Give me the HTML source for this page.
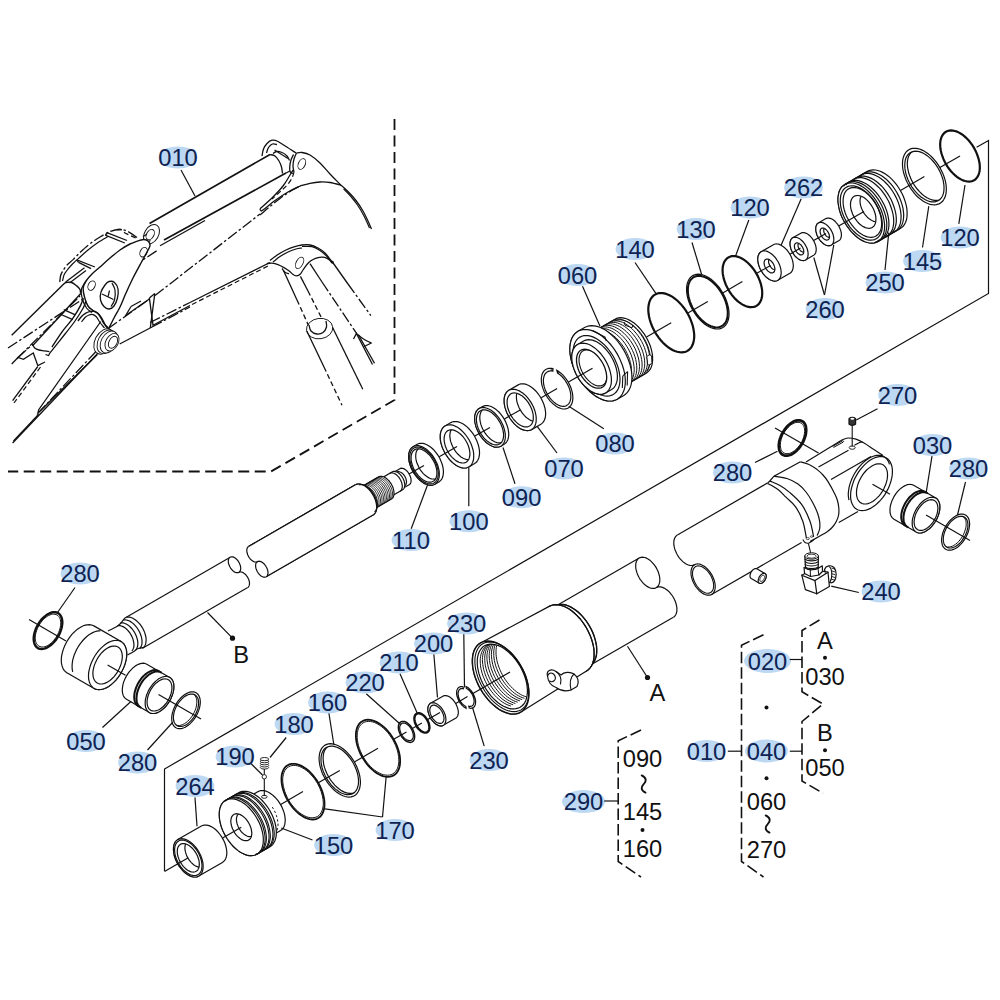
<!DOCTYPE html>
<html><head><meta charset="utf-8"><title>Hydraulic cylinder parts diagram</title>
<style>html,body{margin:0;padding:0;background:#fff}svg{display:block}text{font-family:"Liberation Sans",sans-serif}</style></head>
<body><svg width="1000" height="1000" viewBox="0 0 1000 1000">
<rect width="1000" height="1000" fill="#fff"/>
<path d="M976.6 147.2 L988.5 140.5 L988.5 293.5 L164.5 769 L164.5 871" fill="none" stroke="#111" stroke-width="1.2"/>
<path d="M394.5 119 L394.5 400 L271 471.5 L8 471.5" fill="none" stroke="#111" stroke-width="1.8" stroke-dasharray="11 5.5"/>
<path d="M149.5 223.5 L270 154.5" fill="none" stroke="#111" stroke-width="1.6"/>
<path d="M164 240 L286 173" fill="none" stroke="#111" stroke-width="1.6"/>
<path d="M160 245.8 L205 220.5" fill="none" stroke="#111" stroke-width="1.3"/>
<ellipse cx="151.5" cy="234.2" rx="7" ry="10.5" transform="rotate(30 151.5 234.2)" fill="#fff" stroke="#111" stroke-width="1"/>
<ellipse cx="150.2" cy="234.6" rx="3.6" ry="5.6" transform="rotate(30 150.2 234.6)" fill="none" stroke="#111" stroke-width="0.9"/>
<path d="M143 236.5 L147 234.2" fill="none" stroke="#111" stroke-width="1.3"/>
<path d="M146 243 L150.5 240.5" fill="none" stroke="#111" stroke-width="1.3"/>
<path d="M262 156 C262.2 154.8 262.7 151.1 263.5 149 C264.3 146.9 265.6 145 267 143.5 C268.4 142 270.2 140.5 272 140.2 C273.8 139.9 275.7 140.4 278 141.5 C280.3 142.6 283 144.6 286 146.5 C289 148.4 294.3 151.9 296 153" fill="none" stroke="#111" stroke-width="1.3" stroke-linejoin="round"/>
<path d="M266.5 153 C266.8 152.1 267.5 149 268.5 147.5 C269.5 146 271.1 144.5 272.5 144 C273.9 143.5 276.2 144.4 277 144.5" fill="none" stroke="#111" stroke-width="1.3" stroke-linejoin="round"/>
<path d="M273 153.5 C273.6 153.2 275 151.7 276.5 151.5 C278 151.3 280.2 151.8 282 152.5 C283.8 153.2 285.8 154.7 287 156 C288.2 157.3 289.1 159.8 289.5 160.5" fill="none" stroke="#111" stroke-width="1.3" stroke-linejoin="round"/>
<path d="M274.5 150 L288 158.5" fill="none" stroke="#111" stroke-width="1.2"/>
<path d="M270 154.5 C270.8 154.8 273.5 154.9 275 156 C276.5 157.1 277.9 159.2 279 161 C280.1 162.8 280.9 164.9 281.5 167 C282.1 169.1 282.3 172.4 282.5 173.5" fill="none" stroke="#111" stroke-width="1.3" stroke-linejoin="round"/>
<path d="M293.5 154.5 C293.1 155.4 291.6 158.1 291 160 C290.4 161.9 290 164.1 289.8 166 C289.6 167.9 289.5 170.2 290 171.5 C290.5 172.8 292.5 173.2 293 173.5" fill="none" stroke="#111" stroke-width="1.3" stroke-linejoin="round"/>
<path d="M296.5 153 C296.1 154 294.6 156.8 294 159 C293.4 161.2 293 163.8 293 166 C293 168.2 293.8 171 294 172" fill="none" stroke="#111" stroke-width="1.3" stroke-linejoin="round"/>
<path d="M286 173 L290 171" fill="none" stroke="#111" stroke-width="1.3"/>
<ellipse cx="301.8" cy="164" rx="3.4" ry="5.6" transform="rotate(25 301.8 164)" fill="none" stroke="#111" stroke-width="0.9"/>
<path d="M296.5 153 C297.4 152.9 299.8 152.2 302 152.5 C304.2 152.8 307 153.2 310 155 C313 156.8 316.7 159.8 320 163 C323.3 166.2 326.5 170.3 330 174 C333.5 177.7 339.2 183.4 341 185.3" fill="none" stroke="#111" stroke-width="1.3" stroke-linejoin="round"/>
<path d="M341 185.3 C342.2 186.3 345.5 189 348 191.5 C350.5 194 353.5 197.2 356 200.5 C358.5 203.8 361 207.6 363 211 C365 214.4 366.6 218 368 221 C369.4 224 370.9 227.7 371.5 229" fill="none" stroke="#111" stroke-width="1.3" stroke-linejoin="round"/>
<path d="M343.5 188.8 C344.7 190 348.2 193.3 350.5 196 C352.8 198.7 355.2 201.7 357.5 205 C359.8 208.3 362 212.2 364 216 C366 219.8 368.6 226 369.5 228" fill="none" stroke="#111" stroke-width="1.2" stroke-linejoin="round"/>
<path d="M300 186 C301.7 185.6 306.7 184 310 183.3 C313.3 182.6 316.7 182.1 320 182 C323.3 181.9 326.5 181.9 330 182.5 C333.5 183.1 339.2 184.8 341 185.3" fill="none" stroke="#111" stroke-width="1.3" stroke-linejoin="round"/>
<path d="M260 215 C261.7 213.6 266.7 209.2 270 206.5 C273.3 203.8 276.7 201 280 198.5 C283.3 196 286.7 193.6 290 191.5 C293.3 189.4 298.3 186.9 300 186" fill="none" stroke="#111" stroke-width="1.3" stroke-dasharray="11 2.5 2.5 2.5" stroke-linejoin="round"/>
<path d="M260 208.8 C262 207 268.2 201.8 272 198 C275.8 194.2 280 189.8 283 186 C286 182.2 288.3 177.7 290 175 C291.7 172.3 292.5 170.8 293 170" fill="none" stroke="#111" stroke-width="1.3" stroke-linejoin="round"/>
<path d="M260 208.8 C260.1 209.1 260.3 210.3 260.8 210.5 C261.3 210.7 260.6 211.7 263 210 C265.4 208.3 270.8 203.5 275 200.5 C279.2 197.5 283.8 194.4 288 192 C292.2 189.6 298 187 300 186" fill="none" stroke="#111" stroke-width="1.3" stroke-linejoin="round"/>
<path d="M294 172 C293.7 173 293 176 292 178 C291 180 289.7 182 288 184 C286.3 186 284.7 187.5 282 190 C279.3 192.5 273.7 197.5 272 199" fill="none" stroke="#111" stroke-width="1.2" stroke-dasharray="5 3" stroke-linejoin="round"/>
<path d="M155 295.5 L260 214" fill="none" stroke="#111" stroke-width="1.3" stroke-dasharray="11 2.5 2.5 2.5"/>
<path d="M8 348 L158 250" fill="none" stroke="#111" stroke-width="1.3" stroke-dasharray="11 2.5 2.5 2.5"/>
<path d="M270 260.5 C271.3 259.5 275.3 256.2 278 254.5 C280.7 252.8 283.3 251.3 286 250 C288.7 248.7 291.3 247.6 294 246.8 C296.7 246 299.3 245.3 302 245 C304.7 244.7 307.3 244.5 310 245 C312.7 245.5 315.5 246.7 318 248 C320.5 249.3 322.8 250.9 325 253 C327.2 255.1 330 259.2 331 260.5" fill="none" stroke="#111" stroke-width="1.3" stroke-linejoin="round"/>
<path d="M273 262 C274.2 261.1 277.5 258.3 280 256.6 C282.5 254.9 285.3 253.3 288 252 C290.7 250.7 293.7 249.7 296 249 C298.3 248.3 301 248.2 302 248" fill="none" stroke="#111" stroke-width="1.2" stroke-linejoin="round"/>
<path d="M302 246.5 C303.7 246.5 309 245.9 312 246.6 C315 247.2 317.5 248.8 320 250.4 C322.5 252.1 325 254.4 327 256.5 C329 258.6 330.8 261.9 331.8 262.8 C332.8 263.7 333.3 262.4 333.2 262 C333.1 261.6 331.4 260.8 331 260.5" fill="none" stroke="#111" stroke-width="1.2" stroke-linejoin="round"/>
<path d="M190 302.5 L270 262.5" fill="none" stroke="#111" stroke-width="1.3"/>
<path d="M192 304.5 L268 266" fill="none" stroke="#111" stroke-width="1.2" stroke-dasharray="5 3"/>
<path d="M150 322.5 L190 302.5" fill="none" stroke="#111" stroke-width="1.3" stroke-dasharray="11 2.5 2.5 2.5"/>
<path d="M266.8 263.6 C267.7 263.5 270.1 263 272 263.2 C273.9 263.4 276 263.9 278 264.6 C280 265.3 282.1 266.5 284 267.6 C285.9 268.7 287.7 269.9 289.2 271 C290.7 272.1 291.8 273.7 293 274.5 C294.2 275.3 295.3 275.9 296.5 275.8 C297.7 275.7 299.3 275 300.4 274 C301.5 273 302.1 271.3 303 270 C303.9 268.7 304.5 267.6 305.5 266.3 C306.5 265 307.7 263.5 309 262.3 C310.3 261.1 312 260.1 313.5 259.3 C315 258.5 316.4 258 318 257.6 C319.6 257.2 321.3 257 323 257.2 C324.7 257.4 326.4 258 328 258.8 C329.6 259.6 331.7 261.5 332.4 262" fill="none" stroke="#111" stroke-width="1.3" stroke-linejoin="round"/>
<path d="M282 268.5 C282.5 269.1 283.8 271.4 285 272.3 C286.2 273.2 288.3 273.6 289 273.8" fill="none" stroke="#111" stroke-width="1.2" stroke-linejoin="round"/>
<ellipse cx="299.6" cy="262.8" rx="3.4" ry="6.2" transform="rotate(28 299.6 262.8)" fill="none" stroke="#111" stroke-width="0.9"/>
<path d="M283.6 270.8 L297 300" fill="none" stroke="#111" stroke-width="1.3"/>
<path d="M297 300 L308.4 325.2" fill="none" stroke="#111" stroke-width="1.3" stroke-dasharray="5 3"/>
<path d="M300.4 276.4 L308 291" fill="none" stroke="#111" stroke-width="1.3"/>
<path d="M308 291 L321.2 317.2" fill="none" stroke="#111" stroke-width="1.3" stroke-dasharray="5 3"/>
<ellipse cx="319.6" cy="328.6" rx="13.2" ry="10.2" transform="rotate(-8 319.6 328.6)" fill="none" stroke="#111" stroke-width="0.9"/>
<path d="M309 325 C309.3 326 309.7 329.5 311 331 C312.3 332.5 315 333.8 317 334 C319 334.2 321.4 333.7 323 332.5 C324.6 331.3 326 328.9 326.5 327 C327 325.1 326.1 322 326 321" fill="none" stroke="#111" stroke-width="1.3" stroke-linejoin="round"/>
<path d="M306.8 331 L324 367" fill="none" stroke="#111" stroke-width="1.3"/>
<path d="M324 367 L342 405.2" fill="none" stroke="#111" stroke-width="1.3" stroke-dasharray="5 3"/>
<path d="M332.6 327.5 L362.8 389.2" fill="none" stroke="#111" stroke-width="1.3"/>
<path d="M310 263.6 L322 282" fill="none" stroke="#111" stroke-width="1.3"/>
<path d="M322 282 L356.4 333.2" fill="none" stroke="#111" stroke-width="1.3" stroke-dasharray="11 2.5 2.5 2.5"/>
<path d="M332.4 262 L348 284" fill="none" stroke="#111" stroke-width="1.3"/>
<path d="M348 284 L370.8 315.6" fill="none" stroke="#111" stroke-width="1.3" stroke-dasharray="11 2.5 2.5 2.5"/>
<path d="M353.5 339 L356.4 333.5 L372.5 364.5" fill="none" stroke="#111" stroke-width="1.3"/>
<path d="M358.5 335 L374.5 363.2" fill="none" stroke="#111" stroke-width="1.3"/>
<path d="M356.4 333.5 C357.3 334.2 360.2 336.8 362 338 C363.8 339.2 365.4 340.2 367 341 C368.6 341.8 370.8 342.7 371.5 343" fill="none" stroke="#111" stroke-width="1.3" stroke-linejoin="round"/>
<path d="M371.5 343 L364 346.5" fill="none" stroke="#111" stroke-width="1.3"/>
<path d="M59.8 282 C59.9 281 60.1 277.7 60.5 276 C60.9 274.3 61.3 273.4 62.4 271.6 C63.5 269.8 65.3 266.9 67 265 C68.7 263.1 71 261.6 72.8 259.9 C74.6 258.1 76.3 256.2 78 254.5 C79.7 252.8 81 251.4 83.2 249.5 C85.4 247.6 88.4 244.9 91 243 C93.6 241.1 95.5 239.8 98.8 237.8 C102 235.9 107 232.7 110.5 231.3 C114 229.9 117.1 229.5 120 229.5 C122.9 229.5 125.2 230.2 128 231.5 C130.8 232.8 135.5 236.5 137 237.5" fill="none" stroke="#111" stroke-width="1.3" stroke-dasharray="11 2.5 2.5 2.5" stroke-linejoin="round"/>
<path d="M62.5 281 C62.8 280 63.3 276.7 64 275 C64.7 273.3 65.2 272.8 66.5 271 C67.8 269.2 69.9 266.7 72 264.5 C74.1 262.3 76.3 260.4 79 258 C81.7 255.6 84.8 252.6 88 250 C91.2 247.4 94.7 244.8 98 242.5 C101.3 240.2 106.3 237.5 108 236.5" fill="none" stroke="#111" stroke-width="1.2" stroke-linejoin="round"/>
<path d="M105.3 235.2 L124.8 243" fill="none" stroke="#111" stroke-width="1.3"/>
<path d="M107.5 232.8 L127 240.5" fill="none" stroke="#111" stroke-width="1.3"/>
<path d="M105.3 235.2 L107.5 232.8" fill="none" stroke="#111" stroke-width="1.3"/>
<path d="M117 229.5 L121 229.5 L125 233 L138 239" fill="none" stroke="#111" stroke-width="1.3" stroke-dasharray="5 3"/>
<path d="M76.7 259.9 L94.9 267" fill="none" stroke="#111" stroke-width="1.3"/>
<path d="M78.5 262.4 L91 268.6" fill="none" stroke="#111" stroke-width="1.3"/>
<path d="M76.7 259.9 L78.5 262.4" fill="none" stroke="#111" stroke-width="1.3"/>
<path d="M65.7 282 L84.5 267.7" fill="none" stroke="#111" stroke-width="1.3"/>
<path d="M69.5 283 L86 270.5" fill="none" stroke="#111" stroke-width="1.2"/>
<path d="M140 240.2 C137.7 240.9 133.3 242.4 130 244 C126.7 245.6 123.3 247.7 120 250 C116.7 252.3 113.3 255.2 110 258 C106.7 260.8 103 264.3 100 267 C97 269.7 94.3 271.7 92 274 C89.7 276.3 87.5 278.7 86 281 C84.5 283.3 83.5 285.3 83.2 288 C83 290.7 83.7 294 84.5 297 C85.3 300 86.6 303.8 88 306 C89.4 308.2 91.3 309.2 93 310.5 C94.7 311.8 96.5 312.2 98 313.5 C99.5 314.8 100.8 316.5 102 318.5 C103.2 320.5 104.4 323.8 105.5 325.5 C106.6 327.2 107.1 330.2 108.5 329 C109.9 327.8 112.1 321.7 114 318 C115.9 314.3 118 311.2 120 307 C122 302.8 123.8 297.8 126 293 C128.2 288.2 130.5 283 133 278 C135.5 273 138.6 267.5 141 263 C143.4 258.5 146 253.9 147.5 251 C149 248.1 149.9 247.2 150 245.5 C150.1 243.8 149 242 148 241 C147 240 145.3 239.6 144 239.5 C142.7 239.4 142.3 239.4 140 240.2Z" fill="#fff" stroke="none"/>
<path d="M140 240.2 C138.3 240.8 133.3 242.4 130 244 C126.7 245.6 123.3 247.7 120 250 C116.7 252.3 113.3 255.2 110 258 C106.7 260.8 103 264.3 100 267 C97 269.7 94.3 271.7 92 274 C89.7 276.3 87.5 278.7 86 281 C84.5 283.3 83.5 285.3 83.2 288 C83 290.7 83.7 294 84.5 297 C85.3 300 86.6 303.8 88 306 C89.4 308.2 91.3 309.2 93 310.5 C94.7 311.8 96.5 312.2 98 313.5 C99.5 314.8 100.8 316.5 102 318.5 C103.2 320.5 104.4 323.8 105.5 325.5 C106.6 327.2 108 328.4 108.5 329" fill="none" stroke="#111" stroke-width="1.4" stroke-linejoin="round"/>
<path d="M108.5 329 C109.4 327.2 112.1 321.7 114 318 C115.9 314.3 118 311.2 120 307 C122 302.8 123.8 297.8 126 293 C128.2 288.2 130.5 283 133 278 C135.5 273 138.6 267.5 141 263 C143.4 258.5 146 253.9 147.5 251 C149 248.1 149.9 247.2 150 245.5 C150.1 243.8 149 242 148 241 C147 240 145.3 239.6 144 239.5 C142.7 239.4 140.7 240.1 140 240.2" fill="none" stroke="#111" stroke-width="1.4" stroke-linejoin="round"/>
<path d="M86 281 C85.2 282.3 82.2 286.2 81.5 289 C80.8 291.8 81.2 294.3 82 297.5 C82.8 300.7 84.8 305.5 86.5 308 C88.2 310.5 91.1 311.8 92 312.5" fill="none" stroke="#111" stroke-width="1.2" stroke-linejoin="round"/>
<ellipse cx="143.6" cy="252.2" rx="3.4" ry="5" transform="rotate(25 143.6 252.2)" fill="none" stroke="#111" stroke-width="0.9"/>
<ellipse cx="91.6" cy="285.6" rx="3.4" ry="5" transform="rotate(25 91.6 285.6)" fill="none" stroke="#111" stroke-width="0.9"/>
<path d="M105 285 C103.7 286.8 101.8 289.5 101 292 C100.2 294.5 100 297.6 100.5 300 C101 302.4 102.6 305 104 306.5 C105.4 308 107.3 309.1 109 309 C110.7 308.9 112.6 307.8 114 306 C115.4 304.2 116.8 300.8 117.5 298 C118.2 295.2 118.5 291.6 118 289 C117.5 286.4 116 283.8 114.5 282.5 C113 281.2 110.6 281.1 109 281.5 C107.4 281.9 106.3 283.2 105 285Z" fill="none" stroke="#111" stroke-width="1.3" stroke-linejoin="round"/>
<path d="M102 294 L113.5 299.5" fill="none" stroke="#111" stroke-width="1.3"/>
<path d="M108 296.8 L109.5 290.5" fill="none" stroke="#111" stroke-width="1.2"/>
<path d="M112 283 C112.5 284.2 114.6 287.2 115 290 C115.4 292.8 115.2 297.2 114.5 300 C113.8 302.8 111.6 305.4 111 306.5" fill="none" stroke="#111" stroke-width="1.2" stroke-linejoin="round"/>
<path d="M11.7 335.3 L65 282.7" fill="none" stroke="#111" stroke-width="1.4"/>
<path d="M32.5 345.7 L80.6 293.7" fill="none" stroke="#111" stroke-width="1.4"/>
<path d="M65 282.7 C66 282.6 69 281.8 71 282.3 C73 282.8 75.2 284.7 76.7 285.9 C78.2 287.1 79.3 288.2 80 289.5 C80.7 290.8 80.5 293 80.6 293.7" fill="none" stroke="#111" stroke-width="1.4" stroke-linejoin="round"/>
<path d="M16.9 358.7 L80 296" fill="none" stroke="#111" stroke-width="1.3" stroke-dasharray="11 2.5 2.5 2.5"/>
<path d="M61 314.5 L72.8 319.7" fill="none" stroke="#111" stroke-width="1.3"/>
<path d="M63.7 309.6 L75.4 314.8" fill="none" stroke="#111" stroke-width="1.3"/>
<path d="M83.2 298 C82.8 299.2 82.3 302 80.6 305.4 C78.9 308.8 75.8 314.1 72.8 318.4 C69.8 322.7 65.9 326.6 62.4 331.4 C58.9 336.2 53.7 344.4 52 347" fill="none" stroke="#111" stroke-width="1.4" stroke-linejoin="round"/>
<path d="M85.8 301 C85.4 302.2 85 304.7 83.2 308 C81.4 311.3 78 316.7 75 321 C72 325.3 69.2 328.7 65 334 C60.8 339.3 52.5 349.8 50 352.9" fill="none" stroke="#111" stroke-width="1.3" stroke-linejoin="round"/>
<path d="M32.5 344.4 C32.9 345 33.9 347.4 35 348.3 C36.1 349.2 37.5 349.6 39 350 C40.5 350.4 42.5 350.6 44.2 350.9 C45.9 351.2 48.5 351.5 49.4 351.6" fill="none" stroke="#111" stroke-width="1.3" stroke-linejoin="round"/>
<path d="M50 352.9 L48.5 355.5 L45.5 354.5" fill="none" stroke="#111" stroke-width="1.2"/>
<path d="M78 321 C78.6 320.2 80.2 317.8 81.5 316.5 C82.8 315.2 84.5 314 85.8 313.2 C87.1 312.4 88.2 311.9 89.5 311.6 C90.8 311.3 92.4 311.2 93.6 311.3 C94.8 311.4 95.6 311.8 96.5 312.3 C97.4 312.8 98 313.4 98.8 314.5 C99.6 315.6 100.6 317.5 101.5 319 C102.4 320.5 102.9 322.2 104 323.6 C105.1 325 107.3 326.9 108 327.5" fill="none" stroke="#111" stroke-width="1.4" stroke-linejoin="round"/>
<path d="M81.5 322 C82.1 321.2 83.8 318.7 85 317.5 C86.2 316.3 87.7 315.5 89 315 C90.3 314.5 91.8 314.3 93 314.6 C94.2 314.9 95.3 315.7 96.5 317 C97.7 318.3 98.7 320.7 100 322.5 C101.3 324.3 103.8 327.1 104.5 328" fill="none" stroke="#111" stroke-width="1.2" stroke-linejoin="round"/>
<path d="M11.7 364 L18 357.5 L23.4 359.3 L33.3 353 L37.8 365.6 L45 362" fill="none" stroke="#111" stroke-width="1.3"/>
<path d="M18 357.5 L33 344" fill="none" stroke="#111" stroke-width="1.3" stroke-dasharray="11 2.5 2.5 2.5"/>
<path d="M37.8 366.5 L12.6 400.7" fill="none" stroke="#111" stroke-width="1.3"/>
<path d="M40.5 367 L14 403" fill="none" stroke="#111" stroke-width="1.2" stroke-dasharray="5 3"/>
<ellipse cx="104" cy="341.5" rx="9" ry="13.6" transform="rotate(28 104 341.5)" fill="#fff" stroke="#111" stroke-width="0.9"/>
<ellipse cx="106.5" cy="341.8" rx="8.4" ry="12.6" transform="rotate(28 106.5 341.8)" fill="#fff" stroke="#111" stroke-width="0.9"/>
<ellipse cx="109" cy="342" rx="7.8" ry="11.8" transform="rotate(28 109 342)" fill="#fff" stroke="#111" stroke-width="0.9"/>
<ellipse cx="112" cy="342.2" rx="6.2" ry="9.4" transform="rotate(28 112 342.2)" fill="#fff" stroke="#111" stroke-width="0.9"/>
<ellipse cx="113" cy="342.3" rx="4" ry="6.4" transform="rotate(28 113 342.3)" fill="none" stroke="#111" stroke-width="0.9"/>
<path d="M108 328.7 L149.4 299" fill="none" stroke="#111" stroke-width="1.3" stroke-dasharray="11 2.5 2.5 2.5"/>
<path d="M119.7 344 L152 327" fill="none" stroke="#111" stroke-width="1.3"/>
<path d="M152 327 L190 307" fill="none" stroke="#111" stroke-width="1.3" stroke-dasharray="11 2.5 2.5 2.5"/>
<path d="M149.4 298.1 L153 325.2 L190 305.5" fill="none" stroke="#111" stroke-width="1.3"/>
<path d="M154.8 293.6 L150.3 327.8" fill="none" stroke="#111" stroke-width="1.3"/>
<path d="M149.4 298.1 L154.8 293.6" fill="none" stroke="#111" stroke-width="1.3"/>
<path d="M125 316 L149.4 299" fill="none" stroke="#111" stroke-width="1.3"/>
<path d="M131 306.5 L141 301" fill="none" stroke="#111" stroke-width="1.3"/>
<path d="M131 306.5 L126 315" fill="none" stroke="#111" stroke-width="1.3"/>
<path d="M100.8 321.5 L38.7 409.7 L37.8 413.3 L97.2 354.8" fill="none" stroke="#111" stroke-width="1.3"/>
<path d="M98.1 353 L12.6 443" fill="none" stroke="#111" stroke-width="1.3"/>
<path d="M96 351.5 L40 411" fill="none" stroke="#111" stroke-width="1.2" stroke-dasharray="11 2.5 2.5 2.5"/>
<path d="M38.7 414.2 L13.5 441" fill="none" stroke="#111" stroke-width="1.3"/>
<path d="M396.4 470.7 L395.9 471 L395.5 471.4 L395.1 471.9 L394.9 472.5 L394.6 473.1 L394.5 473.8 L394.4 474.6 L394.4 475.3 L394.5 476.2 L394.6 477 L394.9 477.9 L395.1 478.8 L395.5 479.7 L395.9 480.6 L396.4 481.4 L396.9 482.3 L397.4 483 L398 483.8 L398.6 484.5 L399.3 485.1 L400 485.6 L400.7 486.1 L401.3 486.5 L402 486.8 L402.7 487.1 L403.4 487.2 L404 487.2 L404.6 487.2 L405.1 487 L405.6 486.8 L409.1 484.8 L409.6 484.5 L410 484 L410.4 483.6 L410.6 483 L410.9 482.4 L411 481.7 L411.1 480.9 L411.1 480.1 L411 479.3 L410.9 478.4 L410.6 477.5 L410.4 476.7 L410 475.8 L409.6 474.9 L409.1 474 L408.6 473.2 L408.1 472.4 L407.5 471.7 L406.9 471 L406.2 470.4 L405.5 469.8 L404.8 469.3 L404.2 468.9 L403.5 468.6 L402.8 468.4 L402.1 468.3 L401.5 468.2 L400.9 468.3 L400.4 468.4 L399.9 468.7Z" fill="#fff" stroke="#111" stroke-width="1.2"/>
<path d="M393.6 474 L393.2 474.3 L392.9 474.6 L392.6 475 L392.4 475.5 L392.2 476 L392.1 476.6 L392 477.2 L392 477.9 L392.1 478.6 L392.2 479.3 L392.4 480.1 L392.6 480.8 L392.9 481.6 L393.2 482.3 L393.6 483 L394 483.7 L394.5 484.4 L395 485 L395.5 485.6 L396.1 486.1 L396.6 486.6 L397.2 487 L397.8 487.3 L398.4 487.6 L398.9 487.7 L399.5 487.9 L400 487.9 L400.5 487.8 L401 487.7 L401.4 487.5 L404.9 485.5 L405.3 485.2 L405.6 484.9 L405.9 484.5 L406.1 484 L406.3 483.5 L406.4 482.9 L406.5 482.3 L406.5 481.6 L406.4 480.9 L406.3 480.2 L406.1 479.4 L405.9 478.7 L405.6 477.9 L405.3 477.2 L404.9 476.5 L404.5 475.8 L404 475.1 L403.5 474.5 L403 473.9 L402.4 473.4 L401.9 473 L401.3 472.5 L400.7 472.2 L400.1 472 L399.6 471.8 L399 471.7 L398.5 471.6 L398 471.7 L397.5 471.8 L397.1 472Z" fill="#fff" stroke="#111" stroke-width="1.2"/>
<path d="M379.9 479.1 L379.3 479.4 L378.9 479.9 L378.5 480.4 L378.2 481 L378 481.7 L377.8 482.5 L377.7 483.3 L377.7 484.2 L377.8 485.1 L378 486.1 L378.2 487.1 L378.5 488.1 L378.9 489 L379.3 490 L379.9 491 L380.4 491.9 L381 492.7 L381.7 493.6 L382.4 494.3 L383.1 495 L383.9 495.6 L384.6 496.2 L385.4 496.6 L386.1 496.9 L386.9 497.2 L387.6 497.3 L388.3 497.4 L389 497.3 L389.6 497.2 L390.1 496.9 L402.6 489.7 L403.2 489.3 L403.6 488.9 L404 488.3 L404.3 487.7 L404.5 487 L404.7 486.2 L404.8 485.4 L404.8 484.5 L404.7 483.6 L404.5 482.6 L404.3 481.7 L404 480.7 L403.6 479.7 L403.2 478.7 L402.6 477.8 L402.1 476.9 L401.5 476 L400.8 475.2 L400.1 474.4 L399.4 473.7 L398.6 473.1 L397.9 472.6 L397.1 472.1 L396.4 471.8 L395.6 471.6 L394.9 471.4 L394.2 471.4 L393.5 471.4 L392.9 471.6 L392.4 471.8Z" fill="#fff" stroke="#111" stroke-width="1.2"/>
<path d="M400.1 491.1 L400.7 490.8 L401.1 490.3 L401.5 489.8 L401.8 489.1 L402 488.4 L402.2 487.7 L402.3 486.8 L402.3 486 L402.2 485 L402 484.1 L401.8 483.1 L401.5 482.1 L401.1 481.2 L400.7 480.2 L400.1 479.2 L399.6 478.3 L399 477.4 L398.3 476.6 L397.6 475.9 L396.9 475.2 L396.1 474.6 L395.4 474 L394.6 473.6 L393.9 473.2 L393.1 473 L392.4 472.8 L391.7 472.8 L391 472.9 L390.4 473 L389.9 473.3" fill="none" stroke="#111" stroke-width="1.2"/>
<path d="M360.6 487.3 L360 487.7 L359.4 488.3 L358.9 489 L358.6 489.7 L358.3 490.6 L358.1 491.6 L358 492.6 L358 493.7 L358.1 494.8 L358.3 496 L358.6 497.2 L358.9 498.5 L359.4 499.7 L360 500.9 L360.6 502.1 L361.3 503.2 L362.1 504.3 L362.9 505.3 L363.8 506.3 L364.7 507.1 L365.6 507.9 L366.5 508.5 L367.5 509.1 L368.4 509.5 L369.3 509.8 L370.2 510 L371.1 510.1 L371.9 510 L372.7 509.8 L373.4 509.5 L391.4 499.1 L392 498.6 L392.6 498.1 L393.1 497.4 L393.4 496.6 L393.7 495.7 L393.9 494.8 L394 493.7 L394 492.7 L393.9 491.5 L393.7 490.3 L393.4 489.1 L393.1 487.9 L392.6 486.7 L392 485.5 L391.4 484.3 L390.7 483.1 L389.9 482.1 L389.1 481 L388.2 480.1 L387.3 479.2 L386.4 478.5 L385.5 477.8 L384.5 477.3 L383.6 476.8 L382.7 476.5 L381.8 476.4 L380.9 476.3 L380.1 476.4 L379.3 476.6 L378.6 476.9Z" fill="#fff" stroke="#111" stroke-width="1.2"/>
<path d="M374.3 508.9 L375 508.5 L375.7 508 L376.2 507.4 L376.7 506.7 L377 505.9 L377.3 505 L377.5 504 L377.5 502.9 L377.5 501.8 L377.4 500.6 L377.1 499.4 L376.8 498.1 L376.4 496.9 L375.8 495.6 L375.2 494.4 L374.5 493.2 L373.8 492.1 L373 491 L372.1 490 L371.2 489.1 L370.3 488.3 L369.3 487.6 L368.3 487 L367.4 486.5 L366.4 486.1 L365.5 485.9 L364.6 485.8 L363.8 485.9 L363 486 L362.2 486.4 L361.6 486.8" fill="none" stroke="#111" stroke-width="0.9"/>
<path d="M375.8 508 L376.5 507.7 L377.2 507.2 L377.7 506.6 L378.2 505.9 L378.5 505 L378.8 504.1 L379 503.1 L379 502 L379 500.9 L378.9 499.7 L378.6 498.5 L378.3 497.3 L377.9 496 L377.3 494.8 L376.7 493.5 L376 492.4 L375.3 491.2 L374.5 490.1 L373.6 489.1 L372.7 488.2 L371.8 487.4 L370.8 486.7 L369.8 486.1 L368.9 485.6 L367.9 485.3 L367 485 L366.1 485 L365.3 485 L364.5 485.2 L363.7 485.5 L363.1 485.9" fill="none" stroke="#111" stroke-width="0.9"/>
<path d="M377.3 507.1 L378 506.8 L378.7 506.3 L379.2 505.7 L379.7 505 L380 504.2 L380.3 503.3 L380.5 502.3 L380.5 501.2 L380.5 500 L380.4 498.9 L380.1 497.6 L379.8 496.4 L379.4 495.1 L378.8 493.9 L378.2 492.7 L377.5 491.5 L376.8 490.4 L376 489.3 L375.1 488.3 L374.2 487.4 L373.3 486.5 L372.3 485.8 L371.3 485.2 L370.4 484.8 L369.4 484.4 L368.5 484.2 L367.6 484.1 L366.8 484.1 L366 484.3 L365.2 484.6 L364.6 485.1" fill="none" stroke="#111" stroke-width="0.9"/>
<path d="M378.8 506.3 L379.5 505.9 L380.2 505.4 L380.7 504.8 L381.2 504.1 L381.5 503.3 L381.8 502.4 L382 501.4 L382 500.3 L382 499.2 L381.9 498 L381.6 496.8 L381.3 495.5 L380.9 494.3 L380.3 493 L379.7 491.8 L379 490.6 L378.3 489.5 L377.5 488.4 L376.6 487.4 L375.7 486.5 L374.8 485.7 L373.8 485 L372.8 484.4 L371.9 483.9 L370.9 483.5 L370 483.3 L369.1 483.2 L368.3 483.3 L367.5 483.4 L366.7 483.8 L366.1 484.2" fill="none" stroke="#111" stroke-width="0.9"/>
<path d="M380.3 505.4 L381 505.1 L381.7 504.6 L382.2 504 L382.7 503.3 L383 502.4 L383.3 501.5 L383.5 500.5 L383.5 499.4 L383.5 498.3 L383.4 497.1 L383.1 495.9 L382.8 494.7 L382.4 493.4 L381.8 492.2 L381.2 490.9 L380.5 489.8 L379.8 488.6 L379 487.5 L378.1 486.5 L377.2 485.6 L376.3 484.8 L375.3 484.1 L374.3 483.5 L373.4 483 L372.4 482.7 L371.5 482.4 L370.6 482.4 L369.8 482.4 L369 482.6 L368.2 482.9 L367.6 483.3" fill="none" stroke="#111" stroke-width="0.9"/>
<path d="M381.8 504.5 L382.5 504.2 L383.2 503.7 L383.7 503.1 L384.2 502.4 L384.5 501.6 L384.8 500.7 L385 499.7 L385 498.6 L385 497.4 L384.9 496.3 L384.6 495 L384.3 493.8 L383.9 492.5 L383.3 491.3 L382.7 490.1 L382 488.9 L381.3 487.8 L380.5 486.7 L379.6 485.7 L378.7 484.8 L377.8 484 L376.8 483.2 L375.8 482.6 L374.9 482.2 L373.9 481.8 L373 481.6 L372.1 481.5 L371.3 481.5 L370.5 481.7 L369.7 482 L369.1 482.5" fill="none" stroke="#111" stroke-width="0.9"/>
<path d="M383.3 503.7 L384 503.3 L384.7 502.8 L385.2 502.2 L385.7 501.5 L386 500.7 L386.3 499.8 L386.5 498.8 L386.5 497.7 L386.5 496.6 L386.4 495.4 L386.1 494.2 L385.8 492.9 L385.4 491.7 L384.8 490.4 L384.2 489.2 L383.5 488 L382.8 486.9 L382 485.8 L381.1 484.8 L380.2 483.9 L379.3 483.1 L378.3 482.4 L377.3 481.8 L376.4 481.3 L375.4 480.9 L374.5 480.7 L373.6 480.6 L372.8 480.7 L372 480.8 L371.2 481.2 L370.6 481.6" fill="none" stroke="#111" stroke-width="0.9"/>
<path d="M384.8 502.8 L385.5 502.5 L386.2 502 L386.7 501.4 L387.2 500.7 L387.5 499.8 L387.8 498.9 L388 497.9 L388 496.8 L388 495.7 L387.9 494.5 L387.6 493.3 L387.3 492.1 L386.9 490.8 L386.3 489.6 L385.7 488.3 L385 487.2 L384.3 486 L383.5 485 L382.6 484 L381.7 483 L380.8 482.2 L379.8 481.5 L378.8 480.9 L377.9 480.4 L376.9 480.1 L376 479.9 L375.1 479.8 L374.3 479.8 L373.5 480 L372.7 480.3 L372.1 480.7" fill="none" stroke="#111" stroke-width="0.9"/>
<path d="M386.3 501.9 L387 501.6 L387.7 501.1 L388.2 500.5 L388.7 499.8 L389 499 L389.3 498.1 L389.5 497.1 L389.5 496 L389.5 494.8 L389.4 493.7 L389.1 492.4 L388.8 491.2 L388.4 489.9 L387.8 488.7 L387.2 487.5 L386.5 486.3 L385.8 485.2 L385 484.1 L384.1 483.1 L383.2 482.2 L382.3 481.4 L381.3 480.6 L380.3 480 L379.4 479.6 L378.4 479.2 L377.5 479 L376.6 478.9 L375.8 478.9 L375 479.1 L374.2 479.4 L373.6 479.9" fill="none" stroke="#111" stroke-width="0.9"/>
<path d="M387.8 501.1 L388.5 500.7 L389.2 500.2 L389.7 499.6 L390.2 498.9 L390.5 498.1 L390.8 497.2 L391 496.2 L391 495.1 L391 494 L390.9 492.8 L390.6 491.6 L390.3 490.3 L389.9 489.1 L389.3 487.8 L388.7 486.6 L388 485.4 L387.3 484.3 L386.5 483.2 L385.6 482.2 L384.7 481.3 L383.8 480.5 L382.8 479.8 L381.8 479.2 L380.9 478.7 L379.9 478.3 L379 478.1 L378.1 478 L377.3 478.1 L376.5 478.2 L375.7 478.6 L375.1 479" fill="none" stroke="#111" stroke-width="0.9"/>
<path d="M389.3 500.2 L390 499.9 L390.7 499.4 L391.2 498.8 L391.7 498.1 L392 497.2 L392.3 496.3 L392.5 495.3 L392.5 494.2 L392.5 493.1 L392.4 491.9 L392.1 490.7 L391.8 489.5 L391.4 488.2 L390.8 487 L390.2 485.7 L389.5 484.6 L388.8 483.4 L388 482.4 L387.1 481.4 L386.2 480.4 L385.3 479.6 L384.3 478.9 L383.3 478.3 L382.4 477.8 L381.4 477.5 L380.5 477.3 L379.6 477.2 L378.8 477.2 L378 477.4 L377.2 477.7 L376.6 478.1" fill="none" stroke="#111" stroke-width="0.9"/>
<path d="M248.6 546.5 L355.5 484.8 L355.5 484.8 L356.5 484.4 L357.5 484.1 L358.6 484 L359.8 484.1 L361 484.3 L362.3 484.7 L363.6 485.3 L364.9 486.1 L366.2 487 L367.5 488 L368.7 489.2 L369.9 490.5 L371 491.9 L372 493.4 L373 494.9 L373.9 496.5 L374.6 498.2 L375.3 499.8 L375.8 501.5 L376.2 503.2 L376.5 504.8 L376.6 506.3 L376.6 507.8 L376.5 509.3 L376.2 510.6 L375.8 511.8 L375.3 512.8 L374.6 513.7 L373.9 514.5 L373 515.1" fill="#fff" stroke="#111" stroke-width="1.2"/>
<path d="M248.6 546.5 L355.5 484.8" fill="none" stroke="#111" stroke-width="1.2"/>
<path d="M373 515.1 L373.9 514.5 L374.6 513.7 L375.3 512.8 L375.8 511.8 L376.2 510.6 L376.5 509.3 L376.6 507.8 L376.6 506.3 L376.5 504.8 L376.2 503.2 L375.8 501.5 L375.3 499.8 L374.6 498.2 L373.9 496.5 L373 494.9 L372 493.4 L371 491.9 L369.9 490.5 L368.7 489.2 L367.5 488 L366.2 487 L364.9 486.1 L363.6 485.3 L362.3 484.7 L361 484.3 L359.8 484.1 L358.6 484 L357.5 484.1 L356.5 484.4 L355.5 484.8" fill="#fff" stroke="#111" stroke-width="1.2"/>
<path d="M266.1 576.8 L373 515.1" fill="none" stroke="#111" stroke-width="1.2"/>
<path d="M374.6 511.9 L375.3 511.3 L375.9 510.4 L376.4 509.5 L376.8 508.4 L377 507.3 L377.2 506 L377.2 504.7 L377.1 503.3 L376.8 501.8 L376.5 500.3 L376 498.8 L375.4 497.3 L374.7 495.8 L374 494.4 L373.1 493 L372.1 491.6 L371.1 490.4 L370.1 489.2 L368.9 488.1 L367.8 487.2 L366.6 486.4 L365.5 485.8 L364.3 485.2 L363.2 484.9 L362.1 484.7 L361 484.6 L360 484.7 L359.1 485" fill="none" stroke="#111" stroke-width="1.2"/>
<path d="M248.6 546.5 L355.5 484.8 L373 515.1 L266.1 576.8Z" fill="#fff" stroke="none"/>
<path d="M248.6 546.5 L355.5 484.8" fill="none" stroke="#111" stroke-width="1.2"/>
<path d="M266.1 576.8 L373 515.1" fill="none" stroke="#111" stroke-width="1.2"/>
<path d="M266.1 576.8 L266.6 576.5 L267 576.1 L267.3 575.7 L267.6 575.1 L267.8 574.5 L267.9 573.9 L268 573.2 L268 572.4 L267.9 571.6 L267.8 570.8 L267.6 570 L267.3 569.2 L267 568.3 L266.6 567.5 L266.1 566.7 L265.7 565.9 L265.1 565.2 L264.6 564.5 L264 563.8 L263.4 563.3 L262.7 562.7 L262.1 562.3 L261.5 561.9 L260.8 561.6 L260.2 561.4 L259.6 561.3 L259 561.2 L258.4 561.3 L257.9 561.4 L257.4 561.7 L257 562 L256.6 562.3 L256.3 562.8 L256 563.3 L255.8 563.9 L255.7 564.6 L255.6 565.3 L255.6 566 L255.7 566.8 L255.8 567.6 L256 568.5 L256.3 569.3 L256.6 570.1 L257 570.9 L257.4 571.8 L257.9 572.5 L258.4 573.3 L259 574 L259.6 574.6 L260.2 575.2 L260.8 575.7 L261.5 576.2 L262.1 576.5 L262.7 576.8 L263.4 577.1 L264 577.2 L264.6 577.2 L265.1 577.2 L265.7 577 L266.1 576.8Z" fill="#fff" stroke="#111" stroke-width="1.2"/>
<path d="M248.6 546.5 L248.2 546.8 L247.8 547.2 L247.5 547.6 L247.2 548.2 L247 548.8 L246.9 549.4 L246.8 550.1 L246.8 550.9 L246.9 551.7 L247 552.5 L247.2 553.3 L247.5 554.1 L247.8 555 L248.2 555.8 L248.6 556.6 L249.1 557.4 L249.7 558.1 L250.2 558.8 L250.8 559.5 L251.4 560 L252.1 560.6 L252.7 561 L253.3 561.4 L254 561.7 L254.6 561.9 L255.2 562 L255.8 562.1 L256.4 562 L256.9 561.9 L257.4 561.7" fill="none" stroke="#111" stroke-width="1.2"/>
<path d="M125 617.9 L230.2 557.2 L247.7 587.5 L142.5 648.2Z" fill="#fff" stroke="none"/>
<path d="M125 617.9 L230.2 557.2" fill="none" stroke="#111" stroke-width="1.2"/>
<path d="M142.5 648.2 L247.7 587.5" fill="none" stroke="#111" stroke-width="1.2"/>
<path d="M238.9 572.3 L239.3 572 L239.7 571.6 L240 571.2 L240.3 570.6 L240.5 570.1 L240.6 569.4 L240.7 568.7 L240.7 567.9 L240.6 567.2 L240.5 566.4 L240.3 565.5 L240 564.7 L239.7 563.9 L239.3 563 L238.9 562.2 L238.4 561.4 L237.9 560.7 L237.3 560 L236.7 559.4 L236.1 558.8 L235.5 558.3 L234.8 557.8 L234.2 557.4 L233.6 557.1 L232.9 556.9 L232.3 556.8 L231.7 556.8 L231.2 556.8 L230.6 557 L230.2 557.2 L229.7 557.5 L229.3 557.9 L229 558.3 L228.7 558.9 L228.5 559.5 L228.4 560.1 L228.3 560.8 L228.3 561.6 L228.4 562.3 L228.5 563.2 L228.7 564 L229 564.8 L229.3 565.6 L229.7 566.5 L230.2 567.3 L230.6 568.1 L231.2 568.8 L231.7 569.5 L232.3 570.1 L232.9 570.7 L233.6 571.3 L234.2 571.7 L234.8 572.1 L235.5 572.4 L236.1 572.6 L236.7 572.7 L237.3 572.7 L237.9 572.7 L238.4 572.6 L238.9 572.3Z" fill="#fff" stroke="#111" stroke-width="1.2"/>
<path d="M247.7 587.5 L248.1 587.2 L248.5 586.8 L248.8 586.3 L249.1 585.8 L249.3 585.2 L249.4 584.6 L249.5 583.8 L249.5 583.1 L249.4 582.3 L249.3 581.5 L249.1 580.7 L248.8 579.8 L248.5 579 L248.1 578.2 L247.7 577.4 L247.2 576.6 L246.6 575.9 L246.1 575.2 L245.5 574.5 L244.9 573.9 L244.2 573.4 L243.6 573 L243 572.6 L242.3 572.3 L241.7 572.1 L241.1 572 L240.5 571.9 L239.9 572 L239.4 572.1 L238.9 572.3" fill="none" stroke="#111" stroke-width="1.2"/>
<path d="M125 617.9 L114.2 628.7 L108 631 L127.5 655 L127.8 652.1 L142.5 648.2Z" fill="#fff" stroke="none"/>
<path d="M125 617.9 C124.8 618.2 124.2 618.6 123.5 619.5 C122.8 620.4 121.8 622.2 120.5 623.5 C119.2 624.8 118.1 625.8 116 627 C113.9 628.2 109.3 630.3 108 631" fill="none" stroke="#111" stroke-width="1.2" stroke-linejoin="round"/>
<path d="M142.5 648.2 C142.6 648.1 143.8 647.4 143 647.5 C142.2 647.6 139.7 647.8 138 648.5 C136.3 649.2 134.8 650.9 133 652 C131.2 653.1 128.4 654.5 127.5 655" fill="none" stroke="#111" stroke-width="1.2" stroke-linejoin="round"/>
<path d="M143.6 647.3 L144.4 646.5 L145 645.5 L145.5 644.4 L145.8 643.2 L146 641.8 L146.1 640.3 L146.1 638.8 L145.9 637.2 L145.5 635.5 L145.1 633.8 L144.5 632.1 L143.8 630.5 L143 628.8 L142 627.2 L141 625.7 L139.9 624.2 L138.7 622.8 L137.5 621.6 L136.2 620.5 L134.9 619.5 L133.6 618.7 L132.3 618 L131 617.5 L129.8 617.2 L128.5 617.1 L127.4 617.1 L126.3 617.3" fill="none" stroke="#111" stroke-width="1.2"/>
<path d="M139.7 648.6 L140.4 647.8 L141 646.9 L141.4 645.8 L141.8 644.6 L142 643.3 L142 641.9 L142 640.5 L141.8 638.9 L141.5 637.4 L141 635.8 L140.5 634.2 L139.8 632.6 L139 631 L138.1 629.5 L137.2 628 L136.1 626.6 L135 625.4 L133.9 624.2 L132.7 623.1 L131.4 622.2 L130.2 621.4 L128.9 620.8 L127.7 620.3 L126.5 620 L125.4 619.9 L124.3 619.9 L123.2 620.1" fill="none" stroke="#111" stroke-width="1.2"/>
<path d="M135.6 649.8 L136.3 649.1 L136.8 648.2 L137.2 647.2 L137.6 646.1 L137.8 644.8 L137.8 643.5 L137.8 642.2 L137.6 640.7 L137.3 639.3 L136.9 637.8 L136.4 636.2 L135.7 634.7 L135 633.3 L134.2 631.8 L133.3 630.5 L132.3 629.2 L131.2 628 L130.1 626.8 L129 625.9 L127.9 625 L126.7 624.3 L125.5 623.7 L124.4 623.2 L123.2 622.9 L122.2 622.8 L121.1 622.9 L120.2 623" fill="none" stroke="#111" stroke-width="1.2"/>
<path d="M131.8 650.8 L132.5 650.1 L133 649.3 L133.4 648.4 L133.7 647.3 L133.9 646.2 L133.9 645 L133.9 643.7 L133.7 642.3 L133.4 641 L133.1 639.6 L132.6 638.1 L132 636.7 L131.3 635.4 L130.5 634 L129.7 632.7 L128.7 631.5 L127.8 630.4 L126.7 629.3 L125.7 628.4 L124.6 627.6 L123.5 626.9 L122.4 626.4 L121.3 626 L120.3 625.7 L119.3 625.6 L118.3 625.6 L117.4 625.8" fill="none" stroke="#111" stroke-width="1.2"/>
<path d="M94.1 688.4 L95.6 689.1 L97.2 689.5 L98.9 689.6 L100.8 689.5 L102.7 689.1 L104.6 688.5 L106.6 687.6 L108.6 686.4 L110.6 685 L112.5 683.4 L114.4 681.6 L116.3 679.6 L118 677.5 L119.6 675.2 L121.1 672.8 L122.4 670.3 L123.6 667.8 L124.6 665.2 L125.4 662.6 L126 660.1 L126.5 657.6 L126.7 655.1 L126.7 652.8 L126.5 650.7 L126 648.6 L125.4 646.8 L124.6 645.2 L123.6 643.7 L122.4 642.6 L121.1 641.6 L93.9 625.9 L92.4 625.2 L90.8 624.8 L89.1 624.7 L87.2 624.8 L85.3 625.2 L83.4 625.8 L81.4 626.7 L79.4 627.9 L77.4 629.3 L75.5 630.9 L73.6 632.7 L71.7 634.7 L70 636.8 L68.4 639.1 L66.9 641.5 L65.6 644 L64.4 646.5 L63.4 649.1 L62.6 651.7 L62 654.2 L61.5 656.7 L61.3 659.2 L61.3 661.5 L61.5 663.6 L62 665.7 L62.6 667.5 L63.4 669.1 L64.4 670.6 L65.6 671.7 L66.9 672.7Z" fill="#fff" stroke="#111" stroke-width="1.2"/>
<path d="M94.1 688.4 L95.6 689.1 L97.2 689.5 L98.9 689.6 L100.8 689.5 L102.7 689.1 L104.6 688.5 L106.6 687.6 L108.6 686.4 L110.6 685 L112.5 683.4 L114.4 681.6 L116.3 679.6 L118 677.5 L119.6 675.2 L121.1 672.8 L122.4 670.3 L123.6 667.8 L124.6 665.2 L125.4 662.6 L126 660.1 L126.5 657.6 L126.7 655.1 L126.7 652.8 L126.5 650.7 L126 648.6 L125.4 646.8 L124.6 645.2 L123.6 643.7 L122.4 642.6 L121.1 641.6 L119.6 640.9 L118 640.5 L116.3 640.4 L114.4 640.5 L112.5 640.9 L110.6 641.5 L108.6 642.4 L106.6 643.6 L104.6 645 L102.7 646.6 L100.8 648.4 L98.9 650.4 L97.2 652.5 L95.6 654.8 L94.1 657.2 L92.8 659.7 L91.6 662.2 L90.6 664.8 L89.8 667.4 L89.2 669.9 L88.7 672.4 L88.5 674.9 L88.5 677.2 L88.7 679.3 L89.2 681.4 L89.8 683.2 L90.6 684.8 L91.6 686.3 L92.8 687.4 L94.1 688.4Z" fill="#fff" stroke="#111" stroke-width="1.2"/>
<path d="M100.4 630.9 L98.6 630.9 L96.7 631.2 L94.7 631.8 L92.7 632.6 L90.7 633.7 L88.6 635.1 L86.6 636.7 L84.7 638.5 L82.8 640.5 L81.1 642.6 L79.4 644.9 L77.9 647.3 L76.5 649.8 L75.3 652.4 L74.2 655 L73.4 657.7 L72.7 660.2 L72.3 662.8 L72.1 665.2 L72.1 667.6 L72.3 669.8 L72.7 671.9" fill="none" stroke="#111" stroke-width="1.2"/>
<path d="M97.2 683 L98.3 683.5 L99.6 683.9 L100.9 684 L102.3 683.9 L103.8 683.6 L105.3 683.1 L106.8 682.4 L108.4 681.5 L109.9 680.4 L111.4 679.2 L112.9 677.8 L114.3 676.3 L115.6 674.6 L116.9 672.9 L118 671 L119 669.1 L119.9 667.1 L120.7 665.1 L121.3 663.2 L121.8 661.2 L122.1 659.3 L122.3 657.4 L122.3 655.6 L122.1 654 L121.8 652.4 L121.3 651 L120.7 649.7 L119.9 648.6 L119 647.7 L118 647 L116.9 646.5 L115.6 646.1 L114.3 646 L112.9 646.1 L111.4 646.4 L109.9 646.9 L108.4 647.6 L106.8 648.5 L105.3 649.6 L103.8 650.8 L102.3 652.2 L100.9 653.7 L99.6 655.4 L98.3 657.1 L97.2 659 L96.2 660.9 L95.3 662.9 L94.5 664.9 L93.9 666.8 L93.4 668.8 L93.1 670.7 L92.9 672.6 L92.9 674.4 L93.1 676 L93.4 677.6 L93.9 679 L94.5 680.3 L95.3 681.4 L96.2 682.3 L97.2 683Z" fill="none" stroke="#111" stroke-width="1.2"/>
<path d="M149.3 712.5 L150.5 713.1 L151.7 713.4 L153 713.5 L154.4 713.4 L155.8 713.1 L157.3 712.6 L158.7 712 L160.3 711.1 L161.7 710 L163.2 708.8 L164.6 707.5 L166 706 L167.3 704.4 L168.5 702.6 L169.7 700.8 L170.7 699 L171.5 697 L172.3 695.1 L172.9 693.2 L173.4 691.2 L173.7 689.4 L173.8 687.6 L173.8 685.8 L173.7 684.2 L173.4 682.7 L172.9 681.3 L172.3 680.1 L171.5 679 L170.7 678.1 L169.7 677.4 L146.8 664.2 L145.7 663.7 L144.5 663.3 L143.2 663.2 L141.8 663.3 L140.4 663.6 L138.9 664.1 L137.4 664.8 L135.9 665.6 L134.4 666.7 L132.9 667.9 L131.5 669.3 L130.1 670.8 L128.8 672.4 L127.6 674.1 L126.5 675.9 L125.5 677.8 L124.6 679.7 L123.8 681.6 L123.2 683.6 L122.8 685.5 L122.5 687.4 L122.3 689.2 L122.3 690.9 L122.5 692.5 L122.8 694.1 L123.2 695.4 L123.8 696.7 L124.6 697.7 L125.5 698.6 L126.5 699.3Z" fill="#fff" stroke="#111" stroke-width="1.2"/>
<path d="M149.3 712.5 L150.5 713.1 L151.7 713.4 L153 713.5 L154.4 713.4 L155.8 713.1 L157.3 712.6 L158.7 712 L160.3 711.1 L161.7 710 L163.2 708.8 L164.6 707.5 L166 706 L167.3 704.4 L168.5 702.6 L169.7 700.8 L170.7 699 L171.5 697 L172.3 695.1 L172.9 693.2 L173.4 691.2 L173.7 689.4 L173.8 687.6 L173.8 685.8 L173.7 684.2 L173.4 682.7 L172.9 681.3 L172.3 680.1 L171.5 679 L170.7 678.1 L169.7 677.4 L168.5 676.9 L167.3 676.5 L166 676.4 L164.6 676.5 L163.2 676.8 L161.7 677.3 L160.3 678 L158.7 678.8 L157.3 679.9 L155.8 681.1 L154.4 682.5 L153 684 L151.7 685.6 L150.5 687.3 L149.3 689.1 L148.3 691 L147.5 692.9 L146.7 694.8 L146.1 696.8 L145.6 698.7 L145.3 700.6 L145.2 702.4 L145.2 704.1 L145.3 705.7 L145.6 707.3 L146.1 708.6 L146.7 709.9 L147.5 710.9 L148.3 711.8 L149.3 712.5Z" fill="#fff" stroke="#111" stroke-width="1.2"/>
<path d="M161.7 672.8 L160.6 672.2 L159.5 671.7 L158.2 671.5 L156.8 671.4 L155.4 671.6 L154 672 L152.5 672.6 L151 673.3 L149.4 674.3 L147.9 675.4 L146.5 676.7 L145.1 678.1 L143.7 679.7 L142.4 681.4 L141.2 683.2 L140.2 685 L139.2 687 L138.4 688.9 L137.7 690.9 L137.2 692.8 L136.8 694.7 L136.6 696.6 L136.5 698.4 L136.6 700.1 L136.8 701.7 L137.2 703.1 L137.8 704.4 L138.5 705.6 L139.4 706.5 L140.3 707.3 L141.4 707.9" fill="none" stroke="#111" stroke-width="2"/>
<path d="M159.4 671.5 L158.4 670.9 L157.2 670.4 L155.9 670.2 L154.6 670.1 L153.2 670.3 L151.7 670.7 L150.2 671.3 L148.7 672 L147.2 673 L145.7 674.1 L144.2 675.4 L142.8 676.8 L141.4 678.4 L140.2 680.1 L139 681.9 L137.9 683.7 L137 685.7 L136.1 687.6 L135.5 689.6 L134.9 691.5 L134.5 693.4 L134.3 695.3 L134.2 697.1 L134.3 698.8 L134.6 700.4 L135 701.8 L135.6 703.1 L136.3 704.3 L137.1 705.2 L138.1 706 L139.2 706.6" fill="none" stroke="#111" stroke-width="2"/>
<path d="M150.7 710.2 L151.7 710.7 L152.7 710.9 L153.9 711 L155 711 L156.3 710.7 L157.6 710.3 L158.8 709.7 L160.2 708.9 L161.4 708 L162.7 707 L164 705.8 L165.1 704.5 L166.3 703.1 L167.3 701.6 L168.3 700 L169.2 698.4 L169.9 696.8 L170.6 695.1 L171.1 693.4 L171.5 691.7 L171.8 690.1 L171.9 688.5 L171.9 687 L171.8 685.6 L171.5 684.3 L171.1 683.1 L170.6 682 L169.9 681.1 L169.2 680.3 L168.3 679.7 L167.3 679.3 L166.3 679 L165.1 678.9 L164 679 L162.7 679.2 L161.4 679.6 L160.2 680.2 L158.8 681 L157.6 681.9 L156.3 682.9 L155 684.1 L153.9 685.4 L152.7 686.8 L151.7 688.3 L150.7 689.9 L149.8 691.5 L149.1 693.2 L148.4 694.8 L147.9 696.5 L147.5 698.2 L147.2 699.8 L147.1 701.4 L147.1 702.9 L147.2 704.3 L147.5 705.6 L147.9 706.8 L148.4 707.9 L149.1 708.8 L149.8 709.6 L150.7 710.2Z" fill="none" stroke="#111" stroke-width="1.2"/>
<path d="M175.9 727.8 L177 728.3 L178.2 728.6 L179.5 728.7 L180.9 728.6 L182.3 728.3 L183.8 727.8 L185.3 727.2 L186.7 726.3 L188.2 725.3 L189.7 724.1 L191.1 722.7 L192.5 721.2 L193.8 719.6 L195 717.9 L196.1 716.1 L197.1 714.2 L198 712.3 L198.7 710.4 L199.3 708.5 L199.8 706.6 L200.1 704.7 L200.3 702.9 L200.3 701.2 L200.1 699.5 L199.8 698 L199.3 696.7 L198.7 695.4 L198 694.4 L197.1 693.5 L196.1 692.8 L195 692.3 L193.8 691.9 L192.5 691.8 L191.1 691.9 L189.7 692.2 L188.2 692.7 L186.7 693.4 L185.3 694.2 L183.8 695.3 L182.3 696.5 L180.9 697.8 L179.5 699.3 L178.2 700.9 L177 702.6 L175.9 704.4 L174.9 706.3 L174 708.2 L173.3 710.1 L172.7 712.1 L172.2 714 L171.9 715.8 L171.7 717.6 L171.7 719.4 L171.9 721 L172.2 722.5 L172.7 723.9 L173.3 725.1 L174 726.2 L174.9 727.1 L175.9 727.8Z" fill="none" stroke="#111" stroke-width="1.2"/>
<path d="M177.1 725.7 L178.1 726.1 L179.1 726.4 L180.3 726.5 L181.5 726.4 L182.7 726.2 L184 725.8 L185.3 725.2 L186.7 724.4 L188 723.5 L189.3 722.4 L190.5 721.2 L191.7 719.9 L192.9 718.5 L193.9 717 L194.9 715.4 L195.8 713.8 L196.6 712.1 L197.2 710.4 L197.8 708.7 L198.2 707 L198.4 705.4 L198.6 703.8 L198.6 702.2 L198.4 700.8 L198.2 699.5 L197.8 698.3 L197.2 697.2 L196.6 696.3 L195.8 695.5 L194.9 694.8 L193.9 694.4 L192.9 694.1 L191.7 694 L190.5 694.1 L189.3 694.3 L188 694.8 L186.7 695.4 L185.3 696.1 L184 697 L182.7 698.1 L181.5 699.3 L180.3 700.6 L179.1 702 L178.1 703.5 L177.1 705.1 L176.2 706.8 L175.4 708.4 L174.8 710.1 L174.2 711.8 L173.8 713.5 L173.6 715.2 L173.4 716.8 L173.4 718.3 L173.6 719.7 L173.8 721 L174.2 722.3 L174.8 723.3 L175.4 724.3 L176.2 725.1 L177.1 725.7Z" fill="none" stroke="#111" stroke-width="1.2"/>
<clipPath id="cp1"><path d="M177.1 725.7 L178.3 726.2 L179.7 726.5 L181.2 726.5 L182.7 726.2 L184.4 725.6 L186 724.8 L187.6 723.7 L189.3 722.4 L190.8 720.9 L192.3 719.2 L193.7 717.4 L194.9 715.4 L196 713.3 L196.9 711.2 L197.6 709.1 L198.2 707 L198.5 705 L198.6 703 L198.5 701.2 L198.2 699.5 L197.6 698 L196.9 696.7 L196 695.7 L194.9 694.8 L193.7 694.3 L192.3 694 L190.8 694.1 L189.3 694.3 L187.6 694.9 L186 695.7 L184.4 696.8 L182.7 698.1 L181.2 699.6 L179.7 701.3 L178.3 703.2 L177.1 705.1 L176 707.2 L175.1 709.3 L174.4 711.4 L173.8 713.5 L173.5 715.6 L173.4 717.5 L173.5 719.4 L173.8 721 L174.4 722.5 L175.1 723.8 L176 724.9 L177.1 725.7Z"/></clipPath>
<path d="M175.4 724.7 L176.6 725.2 L178 725.5 L179.5 725.5 L181 725.2 L182.6 724.6 L184.3 723.8 L185.9 722.7 L187.5 721.4 L189.1 719.9 L190.6 718.2 L191.9 716.4 L193.2 714.4 L194.3 712.3 L195.2 710.2 L195.9 708.1 L196.4 706 L196.7 704 L196.9 702 L196.7 700.2 L196.4 698.5 L195.9 697 L195.2 695.7 L194.3 694.7 L193.2 693.8 L191.9 693.3 L190.6 693 L189.1 693.1 L187.5 693.3 L185.9 693.9 L184.3 694.7 L182.6 695.8 L181 697.1 L179.5 698.6 L178 700.3 L176.6 702.2 L175.4 704.1 L174.3 706.2 L173.4 708.3 L172.6 710.4 L172.1 712.5 L171.8 714.6 L171.7 716.5 L171.8 718.4 L172.1 720 L172.6 721.5 L173.4 722.8 L174.3 723.9 L175.4 724.7" fill="none" stroke="#111" stroke-width="1" clip-path="url(#cp1)"/>
<path d="M37.9 648.1 L39 648.6 L40.2 648.9 L41.5 649 L42.9 648.9 L44.3 648.7 L45.8 648.2 L47.3 647.5 L48.7 646.6 L50.2 645.6 L51.7 644.4 L53.1 643 L54.5 641.5 L55.8 639.9 L57 638.2 L58.1 636.4 L59.1 634.6 L60 632.7 L60.7 630.7 L61.3 628.8 L61.8 626.9 L62.1 625 L62.3 623.2 L62.3 621.5 L62.1 619.9 L61.8 618.4 L61.3 617 L60.7 615.8 L60 614.7 L59.1 613.8 L58.1 613.1 L57 612.6 L55.8 612.3 L54.5 612.2 L53.1 612.2 L51.7 612.5 L50.2 613 L48.7 613.7 L47.3 614.6 L45.8 615.6 L44.3 616.8 L42.9 618.1 L41.5 619.6 L40.2 621.2 L39 623 L37.9 624.8 L36.9 626.6 L36 628.5 L35.3 630.4 L34.7 632.4 L34.2 634.3 L33.9 636.2 L33.7 638 L33.7 639.7 L33.9 641.3 L34.2 642.8 L34.7 644.2 L35.3 645.4 L36 646.5 L36.9 647.4 L37.9 648.1Z" fill="none" stroke="#111" stroke-width="2.4"/>
<path d="M39 646.2 L40 646.6 L41.1 646.9 L42.2 647 L43.4 646.9 L44.7 646.7 L46 646.3 L47.3 645.7 L48.7 644.9 L50 644 L51.3 642.9 L52.6 641.7 L53.8 640.3 L54.9 638.9 L56 637.4 L57 635.8 L57.9 634.1 L58.7 632.4 L59.3 630.7 L59.9 629 L60.3 627.3 L60.6 625.6 L60.7 624 L60.7 622.5 L60.6 621 L60.3 619.7 L59.9 618.5 L59.3 617.4 L58.7 616.4 L57.9 615.6 L57 615 L56 614.5 L54.9 614.3 L53.8 614.2 L52.6 614.2 L51.3 614.5 L50 614.9 L48.7 615.5 L47.3 616.3 L46 617.2 L44.7 618.3 L43.4 619.5 L42.2 620.8 L41.1 622.3 L40 623.8 L39 625.4 L38.1 627.1 L37.3 628.7 L36.7 630.5 L36.1 632.2 L35.7 633.9 L35.4 635.5 L35.3 637.2 L35.3 638.7 L35.4 640.1 L35.7 641.5 L36.1 642.7 L36.7 643.8 L37.3 644.8 L38.1 645.5 L39 646.2Z" fill="none" stroke="#111" stroke-width="1"/>
<line x1="29" y1="619.6" x2="66" y2="641" stroke="#111" stroke-width="1.2"/>
<line x1="107.6" y1="665" x2="125.5" y2="675.3" stroke="#111" stroke-width="1.2"/>
<line x1="158.5" y1="694.4" x2="201" y2="718.9" stroke="#111" stroke-width="1.2"/>
<path d="M553 368.7 L551.5 368.4 L550.1 368.3 L548.7 368.4 L547.4 368.7 L546.2 369.2 L545.1 369.9 L544.1 370.8 L543.3 371.9 L542.6 373.1 L542 374.5 L541.7 376 L541.4 377.7 L541.3 379.5 L541.4 381.4 L541.6 383.3 L542 385.3 L542.6 387.4 L543.3 389.4 L544.1 391.5 L545.1 393.5 L546.2 395.4 L547.4 397.3 L548.7 399.1 L550 400.8 L551.5 402.4 L553 403.8 L554.6 405.1 L556.1 406.2 L557.7 407.2 L559.3 407.9 L560.9 408.5 L562.4 408.8 L563.8 409 L565.2 408.9 L566.6 408.6 L567.8 408.2 L568.9 407.5 L569.9 406.7 L570.7 405.6 L571.5 404.4 L572 403 L572.5 401.5 L572.7 399.9 L572.9 398.1 L572.8 396.3 L572.6 394.3 L572.3 392.3 L571.7 390.3 L571.1 388.3 L570.3 386.2 L569.3 384.2 L568.3 382.2 L567.1 380.3 L565.8 378.5 L564.5 376.8 L563 375.2 L561.5 373.7 L560 372.4 L558.4 371.2 L556.8 370.3 L557.6 373.1 L558.9 374 L560.3 375 L561.6 376.2 L562.8 377.5 L564 378.9 L565.2 380.5 L566.2 382.1 L567.2 383.7 L568.1 385.4 L568.8 387.1 L569.5 388.9 L570 390.6 L570.4 392.4 L570.7 394.1 L570.8 395.7 L570.8 397.3 L570.7 398.8 L570.4 400.1 L570 401.4 L569.5 402.6 L568.9 403.6 L568.1 404.4 L567.2 405.1 L566.3 405.7 L565.2 406.1 L564.1 406.3 L562.9 406.3 L561.6 406.2 L560.3 405.9 L559 405.4 L557.7 404.8 L556.3 404 L555 403 L553.6 401.9 L552.3 400.7 L551.1 399.4 L549.9 397.9 L548.8 396.4 L547.7 394.8 L546.8 393.1 L546 391.4 L545.2 389.7 L544.6 387.9 L544.1 386.2 L543.7 384.5 L543.5 382.8 L543.4 381.2 L543.4 379.6 L543.6 378.2 L543.9 376.8 L544.3 375.5 L544.8 374.4 L545.5 373.5 L546.3 372.6 L547.2 372 L548.2 371.4 L549.2 371.1 L550.4 370.9 L551.6 370.9 L552.9 371.1Z" fill="none" stroke="#111" stroke-width="1.2"/>
<path d="M552.3 370.5 L552.3 370.5 L552.4 370.4 L552.4 370.4 L552.4 370.3 L552.4 370.3 L552.5 370.2 L552.5 370.1 L552.5 370 L552.5 370 L552.4 369.9 L552.4 369.8 L552.4 369.7 L552.4 369.6 L552.3 369.5 L552.3 369.5 L552.2 369.4 L552.2 369.3 L552.1 369.2 L552.1 369.2 L552 369.1 L551.9 369.1 L551.9 369 L551.8 369 L551.7 368.9 L551.7 368.9 L551.6 368.9 L551.5 368.9 L551.5 368.9 L551.4 368.9 L551.4 368.9 L551.3 369 L551.3 369 L551.3 369.1 L551.2 369.1 L551.2 369.2 L551.2 369.2 L551.2 369.3 L551.2 369.4 L551.2 369.5 L551.2 369.6 L551.2 369.6 L551.3 369.7 L551.3 369.8 L551.3 369.9 L551.4 370 L551.4 370.1 L551.5 370.1 L551.5 370.2 L551.6 370.3 L551.7 370.3 L551.7 370.4 L551.8 370.4 L551.9 370.5 L551.9 370.5 L552 370.5 L552.1 370.5 L552.1 370.5 L552.2 370.5 L552.2 370.5 L552.3 370.5Z" fill="none" stroke="#111" stroke-width="0.7"/>
<path d="M558.8 373.2 L558.9 373.2 L558.9 373.1 L558.9 373.1 L559 373 L559 373 L559 372.9 L559 372.8 L559 372.8 L559 372.7 L559 372.6 L559 372.5 L558.9 372.4 L558.9 372.3 L558.9 372.3 L558.8 372.2 L558.8 372.1 L558.7 372 L558.7 372 L558.6 371.9 L558.5 371.8 L558.5 371.8 L558.4 371.7 L558.3 371.7 L558.3 371.7 L558.2 371.6 L558.2 371.6 L558.1 371.6 L558 371.6 L558 371.6 L557.9 371.7 L557.9 371.7 L557.8 371.7 L557.8 371.8 L557.8 371.8 L557.8 371.9 L557.8 372 L557.7 372 L557.7 372.1 L557.8 372.2 L557.8 372.3 L557.8 372.4 L557.8 372.4 L557.8 372.5 L557.9 372.6 L557.9 372.7 L558 372.8 L558 372.9 L558.1 372.9 L558.2 373 L558.2 373.1 L558.3 373.1 L558.3 373.2 L558.4 373.2 L558.5 373.2 L558.5 373.2 L558.6 373.3 L558.7 373.3 L558.7 373.3 L558.8 373.2 L558.8 373.2Z" fill="none" stroke="#111" stroke-width="0.7"/>
<path d="M508.9 390.3 L507.7 391.1 L506.7 392.1 L505.9 393.3 L505.2 394.6 L504.7 396.2 L504.3 397.9 L504.2 399.7 L504.2 401.6 L504.3 403.7 L504.7 405.8 L505.2 407.9 L505.9 410.1 L506.7 412.2 L507.7 414.4 L508.9 416.5 L510.1 418.5 L511.5 420.4 L512.9 422.2 L514.4 423.9 L516 425.4 L517.7 426.8 L519.4 427.9 L521 428.9 L522.7 429.7 L524.4 430.2 L526 430.5 L527.5 430.6 L528.9 430.5 L530.3 430.2 L531.6 429.6 L540.9 424.2 L542 423.4 L543 422.4 L543.9 421.2 L544.5 419.8 L545.1 418.3 L545.4 416.6 L545.6 414.7 L545.6 412.8 L545.4 410.8 L545.1 408.7 L544.5 406.5 L543.9 404.4 L543 402.2 L542 400.1 L540.9 398 L539.7 396 L538.3 394 L536.8 392.2 L535.3 390.5 L533.7 389 L532.1 387.7 L530.4 386.5 L528.7 385.5 L527 384.8 L525.4 384.2 L523.8 383.9 L522.3 383.8 L520.8 383.9 L519.5 384.3 L518.2 384.9Z" fill="#fff" stroke="#111" stroke-width="1.2"/>
<path d="M531.6 429.6 L532.7 428.8 L533.7 427.8 L534.5 426.6 L535.2 425.2 L535.7 423.7 L536.1 422 L536.2 420.1 L536.2 418.2 L536.1 416.2 L535.7 414.1 L535.2 411.9 L534.5 409.8 L533.7 407.6 L532.7 405.5 L531.6 403.4 L530.3 401.4 L528.9 399.4 L527.5 397.6 L526 395.9 L524.4 394.4 L522.7 393.1 L521 391.9 L519.4 390.9 L517.7 390.2 L516 389.6 L514.4 389.3 L512.9 389.2 L511.5 389.3 L510.1 389.7 L508.9 390.3 L507.7 391.1 L506.7 392.1 L505.9 393.3 L505.2 394.6 L504.7 396.2 L504.3 397.9 L504.2 399.7 L504.2 401.6 L504.3 403.7 L504.7 405.8 L505.2 407.9 L505.9 410.1 L506.7 412.2 L507.7 414.4 L508.9 416.5 L510.1 418.5 L511.5 420.4 L512.9 422.2 L514.4 423.9 L516 425.4 L517.7 426.8 L519.4 427.9 L521 428.9 L522.7 429.7 L524.4 430.2 L526 430.5 L527.5 430.6 L528.9 430.5 L530.3 430.2 L531.6 429.6Z" fill="#fff" stroke="#111" stroke-width="1.2"/>
<path d="M529.5 426 L530.4 425.4 L531.2 424.6 L531.9 423.6 L532.5 422.5 L532.9 421.2 L533.2 419.8 L533.3 418.3 L533.3 416.7 L533.2 415 L532.9 413.3 L532.5 411.6 L531.9 409.8 L531.2 408 L530.4 406.3 L529.5 404.6 L528.5 402.9 L527.4 401.3 L526.2 399.8 L524.9 398.5 L523.6 397.2 L522.3 396.1 L520.9 395.2 L519.5 394.4 L518.1 393.7 L516.8 393.3 L515.5 393 L514.2 392.9 L513 393 L511.9 393.3 L510.9 393.8 L510 394.5 L509.2 395.3 L508.5 396.3 L507.9 397.4 L507.5 398.7 L507.2 400 L507.1 401.5 L507.1 403.1 L507.2 404.8 L507.5 406.5 L507.9 408.3 L508.5 410.1 L509.2 411.8 L510 413.6 L510.9 415.3 L511.9 416.9 L513 418.5 L514.2 420 L515.5 421.4 L516.8 422.6 L518.1 423.7 L519.5 424.7 L520.9 425.5 L522.3 426.1 L523.6 426.6 L524.9 426.8 L526.2 426.9 L527.4 426.8 L528.5 426.5 L529.5 426Z" fill="#fff" stroke="#111" stroke-width="1.2"/>
<clipPath id="cp2"><path d="M529.5 426 L530.6 425.2 L531.6 424.1 L532.4 422.7 L532.9 421.2 L533.2 419.4 L533.4 417.5 L533.2 415.5 L532.9 413.3 L532.4 411.1 L531.6 408.9 L530.6 406.7 L529.5 404.6 L528.2 402.5 L526.8 400.6 L525.2 398.8 L523.6 397.2 L521.9 395.9 L520.2 394.7 L518.5 393.9 L516.8 393.3 L515.2 393 L513.6 393 L512.2 393.3 L510.9 393.8 L509.8 394.7 L508.8 395.8 L508 397.1 L507.5 398.7 L507.2 400.4 L507 402.3 L507.2 404.4 L507.5 406.5 L508 408.7 L508.8 410.9 L509.8 413.1 L510.9 415.3 L512.2 417.3 L513.6 419.3 L515.2 421 L516.8 422.6 L518.5 424 L520.2 425.1 L521.9 426 L523.6 426.6 L525.2 426.9 L526.8 426.9 L528.2 426.6 L529.5 426Z"/></clipPath>
<path d="M538.9 420.6 L540 419.8 L540.9 418.7 L541.7 417.3 L542.3 415.8 L542.6 414 L542.7 412.1 L542.6 410.1 L542.3 407.9 L541.7 405.7 L540.9 403.5 L540 401.3 L538.9 399.2 L537.6 397.1 L536.1 395.2 L534.6 393.4 L533 391.8 L531.3 390.5 L529.6 389.3 L527.8 388.5 L526.1 387.9 L524.5 387.6 L523 387.6 L521.5 387.9 L520.3 388.4 L519.1 389.3 L518.2 390.4 L517.4 391.7 L516.8 393.3 L516.5 395 L516.4 396.9 L516.5 399 L516.8 401.1 L517.4 403.3 L518.2 405.5 L519.1 407.7 L520.3 409.9 L521.5 411.9 L523 413.9 L524.5 415.6 L526.1 417.2 L527.8 418.6 L529.6 419.7 L531.3 420.6 L533 421.2 L534.6 421.5 L536.1 421.5 L537.6 421.2 L538.9 420.6" fill="none" stroke="#111" stroke-width="1.2" clip-path="url(#cp2)"/>
<path d="M479.1 408.6 L478.1 409.3 L477.1 410.3 L476.3 411.4 L475.7 412.7 L475.2 414.2 L474.8 415.8 L474.7 417.6 L474.7 419.4 L474.8 421.4 L475.2 423.4 L475.7 425.4 L476.3 427.5 L477.1 429.6 L478.1 431.6 L479.1 433.6 L480.3 435.6 L481.6 437.4 L483 439.1 L484.5 440.7 L486 442.2 L487.6 443.5 L489.2 444.6 L490.8 445.5 L492.4 446.2 L494 446.8 L495.5 447.1 L497 447.2 L498.4 447 L499.7 446.7 L500.9 446.2 L504.2 444.2 L505.3 443.4 L506.2 442.5 L507 441.3 L507.7 440 L508.2 438.6 L508.5 436.9 L508.7 435.2 L508.7 433.3 L508.5 431.4 L508.2 429.4 L507.7 427.3 L507 425.3 L506.2 423.2 L505.3 421.1 L504.2 419.1 L503 417.2 L501.7 415.4 L500.3 413.6 L498.9 412 L497.3 410.6 L495.8 409.3 L494.2 408.2 L492.6 407.3 L491 406.5 L489.4 406 L487.9 405.7 L486.4 405.6 L485 405.7 L483.7 406.1 L482.5 406.6Z" fill="#fff" stroke="#111" stroke-width="1.2"/>
<path d="M500.9 446.2 L501.9 445.4 L502.9 444.4 L503.7 443.3 L504.3 442 L504.8 440.5 L505.2 438.9 L505.3 437.1 L505.3 435.3 L505.2 433.3 L504.8 431.3 L504.3 429.3 L503.7 427.2 L502.9 425.1 L501.9 423.1 L500.9 421.1 L499.7 419.2 L498.4 417.3 L497 415.6 L495.5 414 L494 412.5 L492.4 411.2 L490.8 410.1 L489.2 409.2 L487.6 408.5 L486 408 L484.5 407.6 L483 407.5 L481.6 407.7 L480.3 408 L479.1 408.6 L478.1 409.3 L477.1 410.3 L476.3 411.4 L475.7 412.7 L475.2 414.2 L474.8 415.8 L474.7 417.6 L474.7 419.4 L474.8 421.4 L475.2 423.4 L475.7 425.4 L476.3 427.5 L477.1 429.6 L478.1 431.6 L479.1 433.6 L480.3 435.6 L481.6 437.4 L483 439.1 L484.5 440.7 L486 442.2 L487.6 443.5 L489.2 444.6 L490.8 445.5 L492.4 446.2 L494 446.8 L495.5 447.1 L497 447.2 L498.4 447 L499.7 446.7 L500.9 446.2Z" fill="#fff" stroke="#111" stroke-width="1.2"/>
<path d="M499.6 444 L500.6 443.3 L501.4 442.5 L502.1 441.5 L502.7 440.3 L503.1 439 L503.4 437.6 L503.6 436 L503.6 434.4 L503.4 432.6 L503.1 430.9 L502.7 429.1 L502.1 427.2 L501.4 425.4 L500.6 423.6 L499.6 421.8 L498.5 420.1 L497.4 418.5 L496.2 416.9 L494.9 415.5 L493.5 414.2 L492.1 413.1 L490.7 412.1 L489.3 411.3 L487.9 410.6 L486.5 410.2 L485.1 409.9 L483.8 409.8 L482.6 409.9 L481.5 410.2 L480.4 410.7 L479.4 411.4 L478.6 412.2 L477.9 413.3 L477.3 414.4 L476.9 415.7 L476.6 417.2 L476.4 418.7 L476.4 420.4 L476.6 422.1 L476.9 423.8 L477.3 425.7 L477.9 427.5 L478.6 429.3 L479.4 431.1 L480.4 432.9 L481.5 434.6 L482.6 436.2 L483.8 437.8 L485.1 439.2 L486.5 440.5 L487.9 441.6 L489.3 442.6 L490.7 443.4 L492.1 444.1 L493.5 444.5 L494.9 444.8 L496.2 444.9 L497.4 444.8 L498.5 444.5 L499.6 444Z" fill="#fff" stroke="#111" stroke-width="1.2"/>
<clipPath id="cp3"><path d="M499.6 444 L500.8 443.1 L501.8 442 L502.5 440.6 L503.1 439 L503.5 437.2 L503.6 435.2 L503.5 433.1 L503.1 430.9 L502.5 428.6 L501.8 426.3 L500.8 424 L499.6 421.8 L498.3 419.7 L496.8 417.7 L495.2 415.9 L493.5 414.2 L491.8 412.8 L490 411.7 L488.2 410.8 L486.5 410.2 L484.8 409.9 L483.2 409.9 L481.7 410.1 L480.4 410.7 L479.2 411.6 L478.2 412.7 L477.5 414.1 L476.9 415.7 L476.5 417.5 L476.4 419.5 L476.5 421.6 L476.9 423.8 L477.5 426.1 L478.2 428.4 L479.2 430.7 L480.4 432.9 L481.7 435 L483.2 437 L484.8 438.8 L486.5 440.5 L488.2 441.9 L490 443 L491.8 443.9 L493.5 444.5 L495.2 444.8 L496.8 444.9 L498.3 444.6 L499.6 444Z"/></clipPath>
<path d="M503 442 L504.1 441.2 L505.1 440 L505.9 438.6 L506.5 437 L506.8 435.2 L507 433.2 L506.8 431.1 L506.5 428.9 L505.9 426.7 L505.1 424.4 L504.1 422.1 L503 419.9 L501.6 417.7 L500.2 415.8 L498.6 413.9 L496.9 412.3 L495.1 410.9 L493.4 409.7 L491.6 408.8 L489.9 408.2 L488.2 407.9 L486.6 407.9 L485.1 408.2 L483.8 408.8 L482.6 409.6 L481.6 410.8 L480.8 412.2 L480.3 413.8 L479.9 415.6 L479.8 417.6 L479.9 419.7 L480.3 421.9 L480.8 424.2 L481.6 426.5 L482.6 428.7 L483.8 431 L485.1 433.1 L486.6 435.1 L488.2 436.9 L489.9 438.5 L491.6 439.9 L493.4 441.1 L495.1 442 L496.9 442.6 L498.6 442.9 L500.2 442.9 L501.6 442.6 L503 442" fill="none" stroke="#111" stroke-width="1.2" clip-path="url(#cp3)"/>
<path d="M445.1 425.9 L444 426.7 L442.9 427.8 L442.1 429 L441.4 430.4 L440.8 432.1 L440.4 433.8 L440.3 435.7 L440.3 437.8 L440.4 439.9 L440.8 442.1 L441.4 444.3 L442.1 446.6 L442.9 448.8 L444 451.1 L445.1 453.3 L446.5 455.4 L447.9 457.4 L449.4 459.3 L451 461 L452.7 462.6 L454.4 464 L456.1 465.2 L457.9 466.2 L459.6 467 L461.3 467.6 L463 467.9 L464.6 468 L466.1 467.9 L467.5 467.5 L468.9 466.9 L474.6 463.6 L475.7 462.8 L476.8 461.8 L477.6 460.5 L478.4 459.1 L478.9 457.5 L479.3 455.7 L479.5 453.8 L479.5 451.8 L479.3 449.6 L478.9 447.4 L478.4 445.2 L477.6 442.9 L476.8 440.7 L475.7 438.5 L474.6 436.3 L473.3 434.2 L471.8 432.2 L470.3 430.3 L468.7 428.5 L467.1 426.9 L465.3 425.5 L463.6 424.3 L461.8 423.3 L460.1 422.5 L458.4 421.9 L456.7 421.6 L455.1 421.5 L453.6 421.6 L452.2 422 L450.9 422.6Z" fill="#fff" stroke="#111" stroke-width="1.2"/>
<path d="M468.9 466.9 L470 466.1 L471.1 465.1 L471.9 463.8 L472.6 462.4 L473.2 460.8 L473.6 459 L473.7 457.1 L473.7 455.1 L473.6 452.9 L473.2 450.7 L472.6 448.5 L471.9 446.2 L471.1 444 L470 441.8 L468.9 439.6 L467.5 437.5 L466.1 435.5 L464.6 433.6 L463 431.8 L461.3 430.2 L459.6 428.8 L457.9 427.6 L456.1 426.6 L454.4 425.8 L452.7 425.2 L451 424.9 L449.4 424.8 L447.9 424.9 L446.5 425.3 L445.1 425.9 L444 426.7 L442.9 427.8 L442.1 429 L441.4 430.4 L440.8 432.1 L440.4 433.8 L440.3 435.7 L440.3 437.8 L440.4 439.9 L440.8 442.1 L441.4 444.3 L442.1 446.6 L442.9 448.8 L444 451.1 L445.1 453.3 L446.5 455.4 L447.9 457.4 L449.4 459.3 L451 461 L452.7 462.6 L454.4 464 L456.1 465.2 L457.9 466.2 L459.6 467 L461.3 467.6 L463 467.9 L464.6 468 L466.1 467.9 L467.5 467.5 L468.9 466.9Z" fill="#fff" stroke="#111" stroke-width="1.2"/>
<path d="M466.1 462.2 L467 461.5 L467.8 460.7 L468.5 459.8 L469 458.7 L469.4 457.4 L469.7 456.1 L469.9 454.6 L469.9 453.1 L469.7 451.4 L469.4 449.7 L469 448 L468.5 446.3 L467.8 444.5 L467 442.8 L466.1 441.2 L465.1 439.5 L464 438 L462.8 436.5 L461.6 435.2 L460.3 434 L459 432.9 L457.7 432 L456.3 431.2 L455 430.6 L453.7 430.1 L452.4 429.9 L451.2 429.8 L450 429.9 L448.9 430.2 L447.9 430.6 L447 431.3 L446.2 432.1 L445.5 433 L445 434.1 L444.6 435.4 L444.3 436.7 L444.1 438.2 L444.1 439.8 L444.3 441.4 L444.6 443.1 L445 444.8 L445.5 446.5 L446.2 448.3 L447 450 L447.9 451.7 L448.9 453.3 L450 454.8 L451.2 456.3 L452.4 457.6 L453.7 458.8 L455 459.9 L456.3 460.9 L457.7 461.6 L459 462.3 L460.3 462.7 L461.6 462.9 L462.8 463 L464 462.9 L465.1 462.6 L466.1 462.2Z" fill="#fff" stroke="#111" stroke-width="1.2"/>
<clipPath id="cp4"><path d="M466.1 462.2 L467.2 461.4 L468.1 460.3 L468.9 459 L469.4 457.4 L469.8 455.7 L469.9 453.8 L469.8 451.8 L469.4 449.7 L468.9 447.6 L468.1 445.4 L467.2 443.3 L466.1 441.2 L464.8 439.1 L463.4 437.3 L461.9 435.5 L460.3 434 L458.7 432.6 L457 431.6 L455.3 430.7 L453.7 430.1 L452.1 429.8 L450.6 429.8 L449.2 430.1 L447.9 430.6 L446.8 431.5 L445.9 432.5 L445.1 433.9 L444.6 435.4 L444.2 437.1 L444.1 439 L444.2 441 L444.6 443.1 L445.1 445.2 L445.9 447.4 L446.8 449.6 L447.9 451.7 L449.2 453.7 L450.6 455.6 L452.1 457.3 L453.7 458.8 L455.3 460.2 L457 461.3 L458.7 462.1 L460.3 462.7 L461.9 463 L463.4 463 L464.8 462.7 L466.1 462.2Z"/></clipPath>
<path d="M471.8 458.9 L472.9 458.1 L473.9 457 L474.6 455.7 L475.1 454.1 L475.5 452.4 L475.6 450.5 L475.5 448.5 L475.1 446.4 L474.6 444.3 L473.9 442.1 L472.9 440 L471.8 437.9 L470.6 435.8 L469.2 434 L467.6 432.2 L466 430.7 L464.4 429.3 L462.7 428.3 L461 427.4 L459.4 426.8 L457.8 426.5 L456.3 426.5 L454.9 426.8 L453.6 427.3 L452.5 428.2 L451.6 429.2 L450.8 430.6 L450.3 432.1 L450 433.8 L449.8 435.7 L450 437.7 L450.3 439.8 L450.8 441.9 L451.6 444.1 L452.5 446.3 L453.6 448.4 L454.9 450.4 L456.3 452.3 L457.8 454 L459.4 455.5 L461 456.9 L462.7 458 L464.4 458.8 L466 459.4 L467.6 459.7 L469.2 459.7 L470.6 459.4 L471.8 458.9" fill="none" stroke="#111" stroke-width="1.2" clip-path="url(#cp4)"/>
<path d="M413.1 446.7 L412.1 447.4 L411.1 448.4 L410.3 449.5 L409.7 450.8 L409.2 452.3 L408.8 453.9 L408.7 455.7 L408.7 457.5 L408.8 459.5 L409.2 461.5 L409.7 463.5 L410.3 465.6 L411.1 467.7 L412.1 469.7 L413.1 471.7 L414.3 473.7 L415.6 475.5 L417 477.2 L418.5 478.8 L420 480.3 L421.6 481.6 L423.2 482.7 L424.8 483.6 L426.4 484.3 L428 484.9 L429.5 485.2 L431 485.3 L432.4 485.1 L433.7 484.8 L434.9 484.3 L438.9 481.9 L440 481.1 L440.9 480.2 L441.7 479.1 L442.4 477.7 L442.9 476.3 L443.2 474.6 L443.4 472.9 L443.4 471 L443.2 469.1 L442.9 467.1 L442.4 465 L441.7 463 L440.9 460.9 L440 458.8 L438.9 456.8 L437.7 454.9 L436.4 453.1 L435 451.3 L433.6 449.7 L432 448.3 L430.5 447 L428.9 445.9 L427.3 445 L425.7 444.2 L424.1 443.7 L422.6 443.4 L421.1 443.3 L419.7 443.4 L418.4 443.8 L417.2 444.3Z" fill="#fff" stroke="#111" stroke-width="1.2"/>
<path d="M434.9 484.3 L435.9 483.5 L436.9 482.5 L437.7 481.4 L438.3 480.1 L438.8 478.6 L439.2 477 L439.3 475.2 L439.3 473.4 L439.2 471.4 L438.8 469.4 L438.3 467.4 L437.7 465.3 L436.9 463.2 L435.9 461.2 L434.9 459.2 L433.7 457.3 L432.4 455.4 L431 453.7 L429.5 452.1 L428 450.6 L426.4 449.3 L424.8 448.2 L423.2 447.3 L421.6 446.6 L420 446.1 L418.5 445.7 L417 445.7 L415.6 445.8 L414.3 446.1 L413.1 446.7 L412.1 447.4 L411.1 448.4 L410.3 449.5 L409.7 450.8 L409.2 452.3 L408.8 453.9 L408.7 455.7 L408.7 457.5 L408.8 459.5 L409.2 461.5 L409.7 463.5 L410.3 465.6 L411.1 467.7 L412.1 469.7 L413.1 471.7 L414.3 473.7 L415.6 475.5 L417 477.2 L418.5 478.8 L420 480.3 L421.6 481.6 L423.2 482.7 L424.8 483.6 L426.4 484.3 L428 484.9 L429.5 485.2 L431 485.3 L432.4 485.1 L433.7 484.8 L434.9 484.3Z" fill="#fff" stroke="#111" stroke-width="1.2"/>
<path d="M434.1 483 L435.1 482.3 L436 481.4 L436.7 480.3 L437.3 479.1 L437.8 477.7 L438.1 476.2 L438.3 474.6 L438.3 472.8 L438.1 471 L437.8 469.2 L437.3 467.3 L436.7 465.3 L436 463.4 L435.1 461.5 L434.1 459.6 L433 457.8 L431.8 456.1 L430.5 454.5 L429.1 453 L427.7 451.7 L426.2 450.5 L424.7 449.4 L423.3 448.6 L421.8 447.9 L420.3 447.4 L418.9 447.1 L417.5 447 L416.2 447.1 L415 447.5 L413.9 448 L412.9 448.7 L412 449.6 L411.3 450.6 L410.7 451.9 L410.2 453.2 L409.9 454.7 L409.7 456.4 L409.7 458.1 L409.9 459.9 L410.2 461.8 L410.7 463.7 L411.3 465.6 L412 467.5 L412.9 469.4 L413.9 471.3 L415 473.1 L416.2 474.8 L417.5 476.4 L418.9 477.9 L420.3 479.3 L421.8 480.5 L423.3 481.5 L424.7 482.4 L426.2 483 L427.7 483.5 L429.1 483.8 L430.5 483.9 L431.8 483.8 L433 483.5 L434.1 483Z" fill="none" stroke="#111" stroke-width="1.2"/>
<path d="M433.1 481.3 L434.1 480.7 L434.9 479.9 L435.5 478.9 L436.1 477.8 L436.5 476.5 L436.8 475.2 L436.9 473.7 L436.9 472.1 L436.8 470.5 L436.5 468.8 L436.1 467.1 L435.5 465.3 L434.9 463.6 L434.1 461.9 L433.1 460.2 L432.1 458.6 L431 457 L429.9 455.5 L428.6 454.2 L427.3 453 L426 451.9 L424.7 450.9 L423.3 450.2 L422 449.5 L420.7 449.1 L419.4 448.8 L418.1 448.8 L417 448.9 L415.9 449.1 L414.9 449.6 L413.9 450.3 L413.1 451.1 L412.5 452 L411.9 453.1 L411.5 454.4 L411.2 455.7 L411.1 457.2 L411.1 458.8 L411.2 460.4 L411.5 462.1 L411.9 463.8 L412.5 465.6 L413.1 467.3 L413.9 469.1 L414.9 470.7 L415.9 472.4 L417 473.9 L418.1 475.4 L419.4 476.7 L420.7 478 L422 479.1 L423.3 480 L424.7 480.8 L426 481.4 L427.3 481.8 L428.6 482.1 L429.9 482.2 L431 482.1 L432.1 481.8 L433.1 481.3Z" fill="#fff" stroke="#111" stroke-width="1.2"/>
<clipPath id="cp5"><path d="M433.1 481.3 L434.3 480.5 L435.2 479.4 L436 478.1 L436.5 476.5 L436.8 474.8 L436.9 472.9 L436.8 470.9 L436.5 468.8 L436 466.6 L435.2 464.5 L434.3 462.3 L433.1 460.2 L431.9 458.2 L430.5 456.3 L429 454.5 L427.3 453 L425.7 451.6 L424 450.5 L422.3 449.7 L420.7 449.1 L419 448.8 L417.5 448.8 L416.1 449.1 L414.9 449.6 L413.7 450.4 L412.8 451.5 L412 452.8 L411.5 454.4 L411.2 456.1 L411.1 458 L411.2 460 L411.5 462.1 L412 464.3 L412.8 466.5 L413.7 468.6 L414.9 470.7 L416.1 472.8 L417.5 474.7 L419 476.4 L420.7 478 L422.3 479.3 L424 480.4 L425.7 481.3 L427.3 481.8 L429 482.1 L430.5 482.1 L431.9 481.9 L433.1 481.3Z"/></clipPath>
<path d="M436.8 478.3 L437.9 477.5 L438.8 476.4 L439.5 475.2 L440 473.7 L440.3 472.1 L440.4 470.3 L440.3 468.3 L440 466.3 L439.5 464.2 L438.8 462.2 L437.9 460.1 L436.8 458.1 L435.6 456.1 L434.3 454.3 L432.8 452.6 L431.3 451.2 L429.7 449.9 L428.1 448.8 L426.5 448 L424.9 447.5 L423.3 447.2 L421.9 447.2 L420.5 447.4 L419.3 448 L418.3 448.7 L417.4 449.8 L416.6 451 L416.1 452.5 L415.8 454.2 L415.7 456 L415.8 457.9 L416.1 459.9 L416.6 462 L417.4 464.1 L418.3 466.1 L419.3 468.2 L420.5 470.1 L421.9 471.9 L423.3 473.6 L424.9 475.1 L426.5 476.3 L428.1 477.4 L429.7 478.2 L431.3 478.8 L432.8 479 L434.3 479.1 L435.6 478.8 L436.8 478.3" fill="none" stroke="#111" stroke-width="1.2" clip-path="url(#cp5)"/>
<path d="M588.6 334.4 L587.1 335.5 L585.7 336.9 L584.5 338.5 L583.6 340.4 L582.9 342.5 L582.4 344.9 L582.2 347.4 L582.2 350 L582.4 352.8 L582.9 355.7 L583.6 358.7 L584.5 361.6 L585.7 364.6 L587.1 367.6 L588.6 370.4 L590.3 373.2 L592.2 375.9 L594.2 378.3 L596.3 380.6 L598.5 382.7 L600.7 384.6 L603 386.2 L605.4 387.5 L607.7 388.6 L609.9 389.3 L612.1 389.8 L614.2 389.9 L616.2 389.7 L618.1 389.2 L619.8 388.4 L646.2 373.2 L647.7 372.1 L649.1 370.7 L650.3 369.1 L651.2 367.2 L651.9 365.1 L652.4 362.7 L652.6 360.2 L652.6 357.6 L652.4 354.8 L651.9 351.9 L651.2 348.9 L650.3 346 L649.1 343 L647.7 340 L646.2 337.2 L644.5 334.4 L642.6 331.8 L640.6 329.3 L638.5 327 L636.3 324.9 L634.1 323 L631.8 321.4 L629.4 320.1 L627.1 319 L624.9 318.3 L622.7 317.8 L620.6 317.7 L618.6 317.9 L616.7 318.4 L615 319.2Z" fill="#fff" stroke="#111" stroke-width="1.2"/>
<path d="M619.5 388.1 L621.3 387.5 L623 386.6 L624.5 385.3 L625.8 383.8 L626.9 382.1 L627.8 380 L628.4 377.8 L628.8 375.3 L628.9 372.7 L628.8 369.9 L628.4 367 L627.8 364.1 L627 361.1 L625.9 358 L624.6 355 L623.1 352.1 L621.4 349.2 L619.6 346.5 L617.6 343.9 L615.5 341.5 L613.3 339.3 L611 337.3 L608.7 335.6 L606.4 334.2 L604 333 L601.7 332.2 L599.5 331.6 L597.3 331.4 L595.2 331.5 L593.3 332 L591.5 332.7 L589.9 333.8" fill="none" stroke="#111" stroke-width="1"/>
<path d="M622.1 386.6 L624 385.9 L625.7 385 L627.2 383.8 L628.5 382.3 L629.6 380.5 L630.4 378.5 L631 376.3 L631.4 373.8 L631.5 371.2 L631.4 368.4 L631.1 365.5 L630.4 362.6 L629.6 359.5 L628.5 356.5 L627.2 353.5 L625.7 350.6 L624.1 347.7 L622.2 345 L620.2 342.4 L618.1 340 L615.9 337.7 L613.7 335.8 L611.3 334.1 L609 332.6 L606.7 331.5 L604.4 330.6 L602.1 330.1 L599.9 329.9 L597.9 330 L596 330.4 L594.2 331.2 L592.6 332.2" fill="none" stroke="#111" stroke-width="1"/>
<path d="M624.8 385 L626.6 384.4 L628.3 383.5 L629.8 382.3 L631.1 380.8 L632.2 379 L633 377 L633.7 374.7 L634.1 372.3 L634.2 369.7 L634.1 366.9 L633.7 364 L633.1 361 L632.2 358 L631.2 355 L629.9 352 L628.4 349 L626.7 346.2 L624.9 343.4 L622.9 340.8 L620.8 338.4 L618.6 336.2 L616.3 334.3 L614 332.5 L611.6 331.1 L609.3 330 L607 329.1 L604.7 328.6 L602.6 328.4 L600.5 328.5 L598.6 328.9 L596.8 329.7 L595.2 330.7" fill="none" stroke="#111" stroke-width="1"/>
<path d="M627.4 383.5 L629.3 382.9 L630.9 382 L632.4 380.8 L633.7 379.3 L634.8 377.5 L635.7 375.5 L636.3 373.2 L636.7 370.8 L636.8 368.1 L636.7 365.4 L636.3 362.5 L635.7 359.5 L634.9 356.5 L633.8 353.5 L632.5 350.5 L631 347.5 L629.4 344.6 L627.5 341.9 L625.5 339.3 L623.4 336.9 L621.2 334.7 L618.9 332.7 L616.6 331 L614.3 329.6 L611.9 328.4 L609.6 327.6 L607.4 327.1 L605.2 326.9 L603.2 327 L601.2 327.4 L599.5 328.1 L597.9 329.2" fill="none" stroke="#111" stroke-width="1"/>
<path d="M630.1 382 L631.9 381.4 L633.6 380.5 L635.1 379.2 L636.4 377.7 L637.5 376 L638.3 373.9 L639 371.7 L639.3 369.2 L639.5 366.6 L639.3 363.8 L639 361 L638.4 358 L637.5 355 L636.4 351.9 L635.2 348.9 L633.7 346 L632 343.1 L630.2 340.4 L628.2 337.8 L626.1 335.4 L623.9 333.2 L621.6 331.2 L619.3 329.5 L616.9 328.1 L614.6 326.9 L612.3 326.1 L610 325.5 L607.9 325.3 L605.8 325.4 L603.9 325.9 L602.1 326.6 L600.5 327.7" fill="none" stroke="#111" stroke-width="1"/>
<path d="M632.7 380.5 L634.5 379.9 L636.2 378.9 L637.7 377.7 L639 376.2 L640.1 374.4 L641 372.4 L641.6 370.2 L642 367.7 L642.1 365.1 L642 362.3 L641.6 359.4 L641 356.5 L640.2 353.4 L639.1 350.4 L637.8 347.4 L636.3 344.5 L634.6 341.6 L632.8 338.9 L630.8 336.3 L628.7 333.9 L626.5 331.7 L624.2 329.7 L621.9 328 L619.6 326.5 L617.2 325.4 L614.9 324.5 L612.7 324 L610.5 323.8 L608.4 323.9 L606.5 324.3 L604.7 325.1 L603.1 326.1" fill="none" stroke="#111" stroke-width="1"/>
<path d="M635.3 378.9 L637.2 378.3 L638.9 377.4 L640.4 376.2 L641.7 374.7 L642.8 372.9 L643.6 370.9 L644.2 368.6 L644.6 366.2 L644.7 363.6 L644.6 360.8 L644.3 357.9 L643.6 354.9 L642.8 351.9 L641.7 348.9 L640.4 345.9 L638.9 342.9 L637.3 340.1 L635.4 337.3 L633.4 334.7 L631.3 332.3 L629.1 330.1 L626.9 328.2 L624.5 326.4 L622.2 325 L619.9 323.9 L617.6 323 L615.3 322.5 L613.1 322.3 L611.1 322.4 L609.2 322.8 L607.4 323.6 L605.8 324.6" fill="none" stroke="#111" stroke-width="1"/>
<path d="M638 377.4 L639.8 376.8 L641.5 375.9 L643 374.7 L644.3 373.2 L645.4 371.4 L646.2 369.4 L646.9 367.1 L647.3 364.7 L647.4 362 L647.3 359.3 L646.9 356.4 L646.3 353.4 L645.4 350.4 L644.4 347.4 L643.1 344.4 L641.6 341.4 L639.9 338.5 L638.1 335.8 L636.1 333.2 L634 330.8 L631.8 328.6 L629.5 326.6 L627.2 324.9 L624.8 323.5 L622.5 322.3 L620.2 321.5 L617.9 321 L615.8 320.8 L613.7 320.9 L611.8 321.3 L610 322 L608.4 323.1" fill="none" stroke="#111" stroke-width="1"/>
<path d="M640.6 375.9 L642.5 375.3 L644.1 374.4 L645.6 373.1 L646.9 371.6 L648 369.9 L648.9 367.8 L649.5 365.6 L649.9 363.1 L650 360.5 L649.9 357.7 L649.5 354.9 L648.9 351.9 L648.1 348.9 L647 345.8 L645.7 342.8 L644.2 339.9 L642.6 337 L640.7 334.3 L638.7 331.7 L636.6 329.3 L634.4 327.1 L632.1 325.1 L629.8 323.4 L627.5 322 L625.1 320.8 L622.8 320 L620.6 319.4 L618.4 319.2 L616.4 319.3 L614.4 319.8 L612.7 320.5 L611.1 321.6" fill="none" stroke="#111" stroke-width="1"/>
<path d="M644.2 372.7 L645.6 371.6 L646.9 370.3 L648 368.7 L648.9 366.9 L649.6 364.9 L650 362.7 L650.3 360.3 L650.3 357.8 L650 355.1 L649.6 352.4 L648.9 349.6 L648 346.7 L646.9 343.9 L645.6 341.1 L644.2 338.4 L642.5 335.7 L640.7 333.2 L638.8 330.8 L636.8 328.6 L634.7 326.6 L632.6 324.9 L630.4 323.4 L628.2 322.1 L626 321.1 L623.9 320.4 L621.8 319.9 L619.8 319.8 L617.9 320 L616.1 320.5 L614.5 321.2" fill="none" stroke="#111" stroke-width="1"/>
<path d="M578 331.3 L576.1 332.7 L574.4 334.4 L572.9 336.4 L571.7 338.8 L570.8 341.5 L570.2 344.4 L569.9 347.6 L569.9 350.9 L570.2 354.4 L570.8 358.1 L571.7 361.8 L572.9 365.5 L574.4 369.2 L576.1 372.9 L578 376.6 L580.2 380 L582.5 383.4 L585 386.5 L587.7 389.4 L590.4 392 L593.3 394.3 L596.1 396.4 L599.1 398 L601.9 399.4 L604.8 400.3 L607.5 400.9 L610.2 401 L612.7 400.8 L615 400.2 L617.2 399.2 L623.8 395.4 L625.7 394 L627.4 392.3 L628.9 390.2 L630.1 387.8 L631 385.2 L631.6 382.2 L631.9 379.1 L631.9 375.7 L631.6 372.2 L631 368.6 L630.1 364.9 L628.9 361.2 L627.4 357.4 L625.7 353.7 L623.8 350.1 L621.6 346.6 L619.3 343.3 L616.8 340.2 L614.1 337.3 L611.4 334.7 L608.5 332.3 L605.7 330.3 L602.7 328.6 L599.9 327.3 L597 326.4 L594.3 325.8 L591.6 325.6 L589.1 325.9 L586.8 326.5 L584.6 327.5Z" fill="#fff" stroke="#111" stroke-width="1.2"/>
<path d="M617.2 399.2 L619.1 397.8 L620.8 396.1 L622.3 394 L623.5 391.6 L624.4 389 L625 386 L625.3 382.9 L625.3 379.5 L625 376 L624.4 372.4 L623.5 368.7 L622.3 365 L620.8 361.2 L619.1 357.5 L617.2 353.9 L615 350.4 L612.7 347.1 L610.2 344 L607.5 341.1 L604.8 338.5 L601.9 336.1 L599.1 334.1 L596.1 332.4 L593.3 331.1 L590.4 330.2 L587.7 329.6 L585 329.5 L582.5 329.7 L580.2 330.3 L578 331.3 L576.1 332.7 L574.4 334.4 L572.9 336.4 L571.7 338.8 L570.8 341.5 L570.2 344.4 L569.9 347.6 L569.9 350.9 L570.2 354.4 L570.8 358.1 L571.7 361.8 L572.9 365.5 L574.4 369.2 L576.1 372.9 L578 376.6 L580.2 380 L582.5 383.4 L585 386.5 L587.7 389.4 L590.4 392 L593.3 394.3 L596.1 396.4 L599.1 398 L601.9 399.4 L604.8 400.3 L607.5 400.9 L610.2 401 L612.7 400.8 L615 400.2 L617.2 399.2Z" fill="#fff" stroke="#111" stroke-width="1.2"/>
<path d="M613.2 394.6 L614.8 393.4 L616.2 392 L617.5 390.2 L618.5 388.2 L619.2 385.9 L619.7 383.5 L620 380.8 L620 378 L619.7 375 L619.2 371.9 L618.5 368.8 L617.5 365.6 L616.2 362.4 L614.8 359.3 L613.2 356.3 L611.3 353.3 L609.3 350.5 L607.2 347.8 L605 345.4 L602.6 343.2 L600.2 341.2 L597.8 339.5 L595.3 338.1 L592.9 336.9 L590.5 336.1 L588.1 335.7 L585.9 335.5 L583.8 335.7 L581.8 336.2 L580 337.1 L578.3 338.2 L576.9 339.7 L575.6 341.5 L574.6 343.5 L573.9 345.7 L573.4 348.2 L573.1 350.9 L573.1 353.7 L573.4 356.7 L573.9 359.8 L574.6 362.9 L575.6 366.1 L576.9 369.2 L578.3 372.4 L580 375.4 L581.8 378.4 L583.8 381.2 L585.9 383.8 L588.1 386.3 L590.5 388.5 L592.9 390.5 L595.3 392.2 L597.8 393.6 L600.2 394.7 L602.6 395.5 L605 396 L607.2 396.1 L609.3 396 L611.3 395.4 L613.2 394.6Z" fill="none" stroke="#111" stroke-width="1.2"/>
<path d="M577.6 344.5 L576.2 345.4 L575 346.7 L574 348.1 L573.1 349.8 L572.5 351.7 L572 353.8 L571.8 356.1 L571.8 358.5 L572 361 L572.5 363.6 L573.1 366.2 L574 368.9 L575 371.6 L576.2 374.2 L577.6 376.8 L579.1 379.3 L580.8 381.6 L582.6 383.9 L584.5 385.9 L586.5 387.8 L588.5 389.5 L590.6 390.9 L592.6 392.1 L594.7 393.1 L596.7 393.7 L598.7 394.1 L600.6 394.3 L602.4 394.1 L604.1 393.7 L605.6 392.9 L611.6 389.5 L613 388.5 L614.2 387.3 L615.2 385.8 L616.1 384.1 L616.7 382.2 L617.2 380.1 L617.4 377.8 L617.4 375.5 L617.2 372.9 L616.7 370.4 L616.1 367.7 L615.2 365 L614.2 362.4 L613 359.7 L611.6 357.2 L610.1 354.7 L608.4 352.3 L606.6 350.1 L604.7 348 L602.7 346.1 L600.7 344.4 L598.6 343 L596.6 341.8 L594.5 340.9 L592.5 340.2 L590.5 339.8 L588.6 339.7 L586.8 339.8 L585.1 340.3 L583.6 341Z" fill="#fff" stroke="#111" stroke-width="1.2"/>
<path d="M605.6 392.9 L607 392 L608.2 390.7 L609.2 389.3 L610.1 387.6 L610.7 385.7 L611.2 383.6 L611.4 381.3 L611.4 378.9 L611.2 376.4 L610.7 373.8 L610.1 371.2 L609.2 368.5 L608.2 365.8 L607 363.2 L605.6 360.6 L604.1 358.1 L602.4 355.8 L600.6 353.5 L598.7 351.5 L596.7 349.6 L594.7 347.9 L592.6 346.5 L590.6 345.3 L588.5 344.3 L586.5 343.7 L584.5 343.3 L582.6 343.1 L580.8 343.3 L579.1 343.7 L577.6 344.5 L576.2 345.4 L575 346.7 L574 348.1 L573.1 349.8 L572.5 351.7 L572 353.8 L571.8 356.1 L571.8 358.5 L572 361 L572.5 363.6 L573.1 366.2 L574 368.9 L575 371.6 L576.2 374.2 L577.6 376.8 L579.1 379.3 L580.8 381.6 L582.6 383.9 L584.5 385.9 L586.5 387.8 L588.5 389.5 L590.6 390.9 L592.6 392.1 L594.7 393.1 L596.7 393.7 L598.7 394.1 L600.6 394.3 L602.4 394.1 L604.1 393.7 L605.6 392.9Z" fill="#fff" stroke="#111" stroke-width="1.2"/>
<path d="M602.3 387.2 L603.4 386.5 L604.3 385.5 L605.1 384.4 L605.7 383.1 L606.2 381.7 L606.5 380.1 L606.7 378.3 L606.7 376.5 L606.5 374.6 L606.2 372.6 L605.7 370.6 L605.1 368.6 L604.3 366.5 L603.4 364.5 L602.3 362.5 L601.1 360.6 L599.8 358.8 L598.5 357.1 L597 355.5 L595.5 354.1 L594 352.8 L592.4 351.7 L590.8 350.8 L589.2 350.1 L587.7 349.6 L586.2 349.3 L584.7 349.2 L583.4 349.3 L582.1 349.6 L580.9 350.2 L579.8 350.9 L578.9 351.9 L578.1 353 L577.5 354.3 L577 355.7 L576.7 357.3 L576.5 359.1 L576.5 360.9 L576.7 362.8 L577 364.8 L577.5 366.8 L578.1 368.8 L578.9 370.9 L579.8 372.9 L580.9 374.9 L582.1 376.8 L583.4 378.6 L584.7 380.3 L586.2 381.9 L587.7 383.3 L589.2 384.6 L590.8 385.7 L592.4 386.6 L594 387.3 L595.5 387.8 L597 388.1 L598.5 388.2 L599.8 388.1 L601.1 387.8 L602.3 387.2Z" fill="#fff" stroke="#111" stroke-width="1.3"/>
<clipPath id="cp6"><path d="M602.3 387.2 L603.6 386.3 L604.7 385 L605.6 383.5 L606.2 381.7 L606.6 379.6 L606.7 377.4 L606.6 375.1 L606.2 372.6 L605.6 370.1 L604.7 367.5 L603.6 365 L602.3 362.5 L600.8 360.2 L599.2 357.9 L597.4 355.9 L595.5 354.1 L593.6 352.5 L591.6 351.2 L589.6 350.2 L587.7 349.6 L585.8 349.2 L584 349.2 L582.4 349.5 L580.9 350.2 L579.6 351.1 L578.5 352.4 L577.6 353.9 L577 355.7 L576.6 357.8 L576.5 360 L576.6 362.3 L577 364.8 L577.6 367.3 L578.5 369.9 L579.6 372.4 L580.9 374.9 L582.4 377.2 L584 379.5 L585.8 381.5 L587.7 383.3 L589.6 384.9 L591.6 386.2 L593.6 387.2 L595.5 387.8 L597.4 388.2 L599.2 388.2 L600.8 387.9 L602.3 387.2Z"/></clipPath>
<path d="M602.9 385 L604.1 384.2 L605.1 383 L605.9 381.6 L606.5 379.9 L606.9 378 L607 376 L606.9 373.8 L606.5 371.5 L605.9 369.2 L605.1 366.8 L604.1 364.5 L602.9 362.2 L601.5 360 L600 357.9 L598.3 356.1 L596.6 354.4 L594.8 352.9 L593 351.7 L591.2 350.8 L589.4 350.2 L587.6 349.9 L586 349.9 L584.5 350.2 L583.1 350.8 L581.9 351.6 L580.9 352.8 L580.1 354.2 L579.5 355.9 L579.1 357.8 L579 359.8 L579.1 362 L579.5 364.3 L580.1 366.6 L580.9 369 L581.9 371.3 L583.1 373.6 L584.5 375.8 L586 377.9 L587.6 379.7 L589.4 381.4 L591.2 382.9 L593 384.1 L594.8 385 L596.6 385.6 L598.3 385.9 L600 385.9 L601.5 385.6 L602.9 385" fill="none" stroke="#111" stroke-width="1.1" clip-path="url(#cp6)"/>
<path d="M592.6 330.6 L605 337.2 L606.4 341" fill="none" stroke="#111" stroke-width="1.1"/>
<path d="M622.8 375.9 L622.3 388" fill="none" stroke="#111" stroke-width="1.1"/>
<path d="M627.6 371.6 L627.2 385.5" fill="none" stroke="#111" stroke-width="1.1"/>
<path d="M622.8 375.9 L627.6 371.6" fill="none" stroke="#111" stroke-width="1.1"/>
<path d="M624.2 322.3 L625 325.2 L632 327.8 L632.8 325.4" fill="none" stroke="#111" stroke-width="1" stroke-linejoin="round" stroke-linecap="round"/>
<path d="M647 356.4 C648.5 354.6 651 354.4 651.6 356 L651.9 362.6 C651 364.8 649 365.4 648 364.8 Z" fill="#fff" stroke="#111" stroke-width="1" stroke-linejoin="round" stroke-linecap="round"/>
<path d="M974 180.3 L975.4 179.3 L976.6 178 L977.6 176.6 L978.5 174.9 L979.1 173 L979.6 170.9 L979.8 168.6 L979.8 166.2 L979.6 163.7 L979.1 161.1 L978.5 158.5 L977.6 155.8 L976.6 153.1 L975.4 150.5 L974 147.9 L972.5 145.4 L970.8 143.1 L969 140.8 L967.1 138.8 L965.1 136.9 L963.1 135.2 L961 133.8 L959 132.6 L956.9 131.6 L954.9 131 L952.9 130.6 L951 130.4 L949.2 130.6 L947.5 131 L946 131.8 L944.6 132.7 L943.4 134 L942.4 135.4 L941.5 137.1 L940.9 139 L940.4 141.1 L940.2 143.4 L940.2 145.8 L940.4 148.3 L940.9 150.9 L941.5 153.5 L942.4 156.2 L943.4 158.9 L944.6 161.5 L946 164.1 L947.5 166.6 L949.2 169 L951 171.2 L952.9 173.3 L954.9 175.1 L956.9 176.8 L959 178.2 L961 179.4 L963.1 180.4 L965.1 181 L967.1 181.4 L969 181.6 L970.8 181.4 L972.5 181 L974 180.3Z" fill="none" stroke="#111" stroke-width="2.2"/>
<path d="M939.9 203.4 L941.4 202.3 L942.8 201 L943.9 199.3 L944.9 197.4 L945.6 195.3 L946.1 193 L946.3 190.5 L946.3 187.9 L946.1 185.1 L945.6 182.2 L944.9 179.3 L943.9 176.3 L942.8 173.4 L941.4 170.5 L939.9 167.6 L938.2 164.9 L936.3 162.2 L934.4 159.8 L932.3 157.5 L930.1 155.4 L927.8 153.5 L925.5 151.9 L923.3 150.6 L921 149.6 L918.7 148.8 L916.5 148.4 L914.4 148.3 L912.5 148.4 L910.6 148.9 L908.9 149.7 L907.4 150.8 L906 152.2 L904.9 153.8 L903.9 155.7 L903.2 157.8 L902.7 160.1 L902.5 162.6 L902.5 165.2 L902.7 168 L903.2 170.9 L903.9 173.8 L904.9 176.8 L906 179.7 L907.4 182.7 L908.9 185.5 L910.6 188.3 L912.5 190.9 L914.4 193.4 L916.5 195.7 L918.7 197.7 L921 199.6 L923.3 201.2 L925.5 202.5 L927.8 203.5 L930.1 204.3 L932.3 204.7 L934.4 204.9 L936.3 204.7 L938.2 204.2 L939.9 203.4Z" fill="none" stroke="#111" stroke-width="1.2"/>
<path d="M938.3 200.6 L939.7 199.7 L940.9 198.4 L941.9 197 L942.8 195.3 L943.4 193.4 L943.8 191.3 L944 189.1 L944 186.7 L943.8 184.2 L943.4 181.6 L942.8 179 L941.9 176.4 L940.9 173.7 L939.7 171.1 L938.3 168.5 L936.8 166.1 L935.1 163.7 L933.3 161.5 L931.4 159.4 L929.5 157.6 L927.5 155.9 L925.4 154.5 L923.4 153.3 L921.3 152.4 L919.3 151.7 L917.4 151.3 L915.5 151.2 L913.7 151.3 L912 151.8 L910.5 152.5 L909.1 153.5 L907.9 154.7 L906.9 156.1 L906 157.8 L905.4 159.7 L905 161.8 L904.8 164 L904.8 166.4 L905 168.9 L905.4 171.5 L906 174.1 L906.9 176.8 L907.9 179.4 L909.1 182 L910.5 184.6 L912 187.1 L913.7 189.4 L915.5 191.6 L917.4 193.7 L919.3 195.5 L921.3 197.2 L923.4 198.6 L925.4 199.8 L927.5 200.8 L929.5 201.4 L931.4 201.8 L933.3 201.9 L935.1 201.8 L936.8 201.3 L938.3 200.6Z" fill="none" stroke="#111" stroke-width="1.2"/>
<clipPath id="cp7"><path d="M938.3 200.6 L940 199.4 L941.4 197.7 L942.6 195.7 L943.4 193.4 L943.9 190.8 L944.1 187.9 L943.9 184.8 L943.4 181.6 L942.6 178.4 L941.4 175 L940 171.7 L938.3 168.5 L936.4 165.5 L934.2 162.6 L931.9 159.9 L929.5 157.6 L927 155.5 L924.4 153.9 L921.8 152.6 L919.3 151.7 L916.9 151.2 L914.6 151.2 L912.4 151.6 L910.5 152.5 L908.8 153.7 L907.4 155.4 L906.2 157.4 L905.4 159.7 L904.9 162.3 L904.7 165.2 L904.9 168.3 L905.4 171.5 L906.2 174.8 L907.4 178.1 L908.8 181.4 L910.5 184.6 L912.4 187.7 L914.6 190.5 L916.9 193.2 L919.3 195.5 L921.8 197.6 L924.4 199.3 L927 200.5 L929.5 201.4 L931.9 201.9 L934.2 201.9 L936.4 201.5 L938.3 200.6Z"/></clipPath>
<path d="M940.9 199.1 L942.6 197.9 L944 196.2 L945.2 194.2 L946 191.9 L946.5 189.3 L946.7 186.4 L946.5 183.3 L946 180.1 L945.2 176.9 L944 173.5 L942.6 170.2 L940.9 167 L939 164 L936.8 161.1 L934.5 158.4 L932.1 156.1 L929.6 154 L927 152.4 L924.4 151.1 L921.9 150.2 L919.5 149.7 L917.2 149.7 L915 150.1 L913.1 151 L911.4 152.2 L910 153.9 L908.8 155.9 L908 158.2 L907.5 160.8 L907.3 163.7 L907.5 166.8 L908 170 L908.8 173.3 L910 176.6 L911.4 179.9 L913.1 183.1 L915 186.2 L917.2 189 L919.5 191.7 L921.9 194 L924.4 196.1 L927 197.8 L929.6 199 L932.1 199.9 L934.5 200.4 L936.8 200.4 L939 200 L940.9 199.1" fill="none" stroke="#111" stroke-width="1.2" clip-path="url(#cp7)"/>
<path d="M844.8 184.4 L843.2 185.6 L841.7 187 L840.5 188.8 L839.5 190.8 L838.8 193 L838.3 195.5 L838 198.1 L838 200.9 L838.3 203.9 L838.8 206.9 L839.5 210.1 L840.5 213.2 L841.7 216.4 L843.2 219.5 L844.8 222.5 L846.6 225.4 L848.6 228.2 L850.7 230.9 L852.9 233.3 L855.3 235.5 L857.6 237.5 L860.1 239.2 L862.5 240.6 L865 241.7 L867.3 242.5 L869.7 243 L871.9 243.1 L874 242.9 L876 242.4 L877.8 241.6 L900.3 228.6 L902 227.4 L903.4 226 L904.6 224.2 L905.6 222.2 L906.4 220 L906.9 217.5 L907.1 214.9 L907.1 212 L906.9 209.1 L906.4 206 L905.6 202.9 L904.6 199.8 L903.4 196.6 L902 193.5 L900.3 190.5 L898.5 187.5 L896.5 184.7 L894.4 182.1 L892.2 179.7 L889.9 177.4 L887.5 175.5 L885 173.8 L882.6 172.4 L880.2 171.3 L877.8 170.5 L875.5 170 L873.2 169.9 L871.1 170.1 L869.1 170.6 L867.3 171.4Z" fill="#fff" stroke="#111" stroke-width="1.2"/>
<path d="M877.8 241.6 L879.4 240.4 L880.9 239 L882.1 237.2 L883.1 235.2 L883.8 233 L884.3 230.5 L884.6 227.9 L884.6 225 L884.3 222.1 L883.8 219 L883.1 215.9 L882.1 212.8 L880.9 209.6 L879.4 206.5 L877.8 203.5 L876 200.5 L874 197.7 L871.9 195.1 L869.7 192.7 L867.3 190.4 L865 188.5 L862.5 186.8 L860.1 185.4 L857.6 184.3 L855.3 183.5 L852.9 183 L850.7 182.9 L848.6 183.1 L846.6 183.6 L844.8 184.4 L843.2 185.6 L841.7 187 L840.5 188.8 L839.5 190.8 L838.8 193 L838.3 195.5 L838 198.1 L838 200.9 L838.3 203.9 L838.8 206.9 L839.5 210.1 L840.5 213.2 L841.7 216.4 L843.2 219.5 L844.8 222.5 L846.6 225.4 L848.6 228.2 L850.7 230.9 L852.9 233.3 L855.3 235.5 L857.6 237.5 L860.1 239.2 L862.5 240.6 L865 241.7 L867.3 242.5 L869.7 243 L871.9 243.1 L874 242.9 L876 242.4 L877.8 241.6Z" fill="#fff" stroke="#111" stroke-width="1.2"/>
<path d="M875.5 241.8 L877.5 241.4 L879.4 240.6 L881.2 239.5 L882.7 238.1 L884 236.4 L885.1 234.4 L885.9 232.2 L886.4 229.7 L886.7 227 L886.8 224.2 L886.6 221.2 L886.1 218.1 L885.3 214.9 L884.3 211.7 L883.1 208.5 L881.6 205.3 L880 202.2 L878.1 199.2 L876.1 196.4 L873.9 193.7 L871.6 191.2 L869.3 189 L866.8 187 L864.4 185.3 L861.9 183.9 L859.4 182.9 L857 182.1 L854.6 181.7 L852.4 181.6 L850.2 181.9 L848.3 182.5 L846.5 183.5 L844.9 184.7 L843.5 186.3" fill="none" stroke="#111" stroke-width="1.2"/>
<path d="M877.6 240.5 L879.7 240.1 L881.6 239.3 L883.3 238.3 L884.9 236.9 L886.2 235.2 L887.2 233.2 L888 230.9 L888.6 228.5 L888.9 225.8 L888.9 222.9 L888.7 219.9 L888.2 216.8 L887.5 213.7 L886.5 210.4 L885.3 207.2 L883.8 204.1 L882.1 201 L880.3 198 L878.3 195.1 L876.1 192.4 L873.8 190 L871.4 187.7 L869 185.8 L866.5 184.1 L864 182.7 L861.6 181.6 L859.1 180.9 L856.8 180.4 L854.5 180.4 L852.4 180.7 L850.4 181.3 L848.6 182.2 L847 183.5 L845.6 185.1" fill="none" stroke="#111" stroke-width="1.2"/>
<path d="M882.4 237.8 L884.5 237.4 L886.4 236.6 L888.1 235.5 L889.6 234.1 L890.9 232.4 L892 230.4 L892.8 228.2 L893.4 225.7 L893.7 223 L893.7 220.2 L893.5 217.2 L893 214.1 L892.2 210.9 L891.2 207.7 L890 204.5 L888.6 201.3 L886.9 198.2 L885 195.2 L883 192.4 L880.9 189.7 L878.6 187.2 L876.2 185 L873.8 183 L871.3 181.3 L868.8 179.9 L866.3 178.9 L863.9 178.1 L861.5 177.7 L859.3 177.6 L857.2 177.9 L855.2 178.5 L853.4 179.5 L851.8 180.7 L850.4 182.3" fill="none" stroke="#111" stroke-width="1.2"/>
<path d="M885 236.3 L887.1 235.9 L889 235.1 L890.7 234 L892.2 232.6 L893.5 230.9 L894.6 228.9 L895.4 226.7 L896 224.2 L896.3 221.5 L896.3 218.7 L896.1 215.7 L895.6 212.6 L894.8 209.4 L893.8 206.2 L892.6 203 L891.2 199.8 L889.5 196.7 L887.6 193.7 L885.6 190.9 L883.5 188.2 L881.2 185.7 L878.8 183.5 L876.4 181.5 L873.9 179.8 L871.4 178.4 L868.9 177.4 L866.5 176.6 L864.1 176.2 L861.9 176.1 L859.8 176.4 L857.8 177 L856 178 L854.4 179.2 L853 180.8" fill="none" stroke="#111" stroke-width="1.2"/>
<path d="M889.8 233.5 L891.8 233.1 L893.7 232.3 L895.5 231.3 L897 229.9 L898.3 228.2 L899.3 226.2 L900.2 223.9 L900.7 221.5 L901 218.8 L901.1 215.9 L900.8 212.9 L900.4 209.8 L899.6 206.7 L898.6 203.4 L897.4 200.2 L895.9 197.1 L894.3 194 L892.4 191 L890.4 188.1 L888.2 185.4 L885.9 183 L883.6 180.7 L881.1 178.8 L878.6 177.1 L876.2 175.7 L873.7 174.6 L871.3 173.9 L868.9 173.4 L866.7 173.4 L864.5 173.7 L862.6 174.3 L860.8 175.2 L859.1 176.5 L857.8 178.1" fill="none" stroke="#111" stroke-width="1.2"/>
<path d="M892.4 232 L894.4 231.6 L896.3 230.8 L898.1 229.8 L899.6 228.4 L900.9 226.7 L901.9 224.7 L902.8 222.4 L903.3 220 L903.6 217.3 L903.7 214.4 L903.4 211.4 L903 208.3 L902.2 205.2 L901.2 201.9 L900 198.7 L898.5 195.6 L896.9 192.5 L895 189.5 L893 186.6 L890.8 183.9 L888.5 181.5 L886.2 179.2 L883.7 177.3 L881.2 175.6 L878.7 174.2 L876.3 173.1 L873.9 172.4 L871.5 171.9 L869.2 171.9 L867.1 172.2 L865.2 172.8 L863.4 173.7 L861.7 175 L860.4 176.6" fill="none" stroke="#111" stroke-width="1.2"/>
<path d="M876.2 238.8 L877.7 237.8 L879 236.4 L880.1 234.9 L881 233.1 L881.7 231 L882.1 228.8 L882.3 226.4 L882.3 223.9 L882.1 221.2 L881.7 218.4 L881 215.6 L880.1 212.8 L879 209.9 L877.7 207.1 L876.2 204.4 L874.6 201.7 L872.8 199.2 L870.9 196.8 L868.9 194.6 L866.8 192.6 L864.6 190.9 L862.4 189.3 L860.2 188.1 L858 187.1 L855.8 186.3 L853.7 185.9 L851.7 185.8 L849.8 186 L848 186.4 L846.4 187.2 L844.9 188.2 L843.6 189.5 L842.5 191.1 L841.6 192.9 L840.9 194.9 L840.5 197.2 L840.3 199.6 L840.3 202.1 L840.5 204.8 L840.9 207.5 L841.6 210.4 L842.5 213.2 L843.6 216 L844.9 218.8 L846.4 221.6 L848 224.2 L849.8 226.8 L851.7 229.1 L853.7 231.3 L855.8 233.3 L858 235.1 L860.2 236.6 L862.4 237.9 L864.6 238.9 L866.8 239.6 L868.9 240.1 L870.9 240.2 L872.8 240 L874.6 239.6 L876.2 238.8Z" fill="none" stroke="#111" stroke-width="1.2"/>
<path d="M876 236 L877.3 235.1 L878.5 233.9 L879.5 232.4 L880.4 230.8 L881 228.9 L881.4 226.9 L881.6 224.7 L881.6 222.4 L881.4 219.9 L881 217.4 L880.4 214.8 L879.5 212.2 L878.5 209.6 L877.3 207 L876 204.5 L874.5 202.1 L872.9 199.8 L871.1 197.6 L869.3 195.6 L867.3 193.7 L865.4 192.1 L863.3 190.7 L861.3 189.5 L859.3 188.6 L857.3 188 L855.4 187.6 L853.6 187.5 L851.8 187.6 L850.2 188.1 L848.7 188.7 L847.3 189.7 L846.1 190.9 L845.1 192.3 L844.3 194 L843.7 195.9 L843.3 197.9 L843.1 200.1 L843.1 202.4 L843.3 204.9 L843.7 207.4 L844.3 210 L845.1 212.6 L846.1 215.2 L847.3 217.8 L848.7 220.3 L850.2 222.7 L851.8 225 L853.6 227.2 L855.4 229.2 L857.3 231 L859.3 232.7 L861.3 234.1 L863.3 235.2 L865.4 236.1 L867.3 236.8 L869.3 237.2 L871.1 237.3 L872.9 237.2 L874.5 236.7 L876 236Z" fill="none" stroke="#111" stroke-width="1.2"/>
<path d="M872.2 227.5 L873.1 226.8 L873.9 226.1 L874.5 225.1 L875.1 224 L875.5 222.8 L875.8 221.4 L875.9 220 L875.9 218.5 L875.8 216.8 L875.5 215.2 L875.1 213.5 L874.5 211.8 L873.9 210 L873.1 208.3 L872.2 206.7 L871.2 205.1 L870.1 203.6 L869 202.1 L867.8 200.8 L866.5 199.6 L865.2 198.5 L863.9 197.6 L862.5 196.8 L861.2 196.2 L859.9 195.8 L858.6 195.5 L857.4 195.5 L856.3 195.6 L855.2 195.8 L854.2 196.3 L853.3 196.9 L852.5 197.7 L851.9 198.7 L851.3 199.8 L850.9 201 L850.6 202.3 L850.5 203.8 L850.5 205.3 L850.6 206.9 L850.9 208.6 L851.3 210.3 L851.9 212 L852.5 213.7 L853.3 215.4 L854.2 217.1 L855.2 218.7 L856.3 220.2 L857.4 221.6 L858.6 223 L859.9 224.2 L861.2 225.3 L862.5 226.2 L863.9 226.9 L865.2 227.6 L866.5 228 L867.8 228.2 L869 228.3 L870.1 228.2 L871.2 227.9 L872.2 227.5Z" fill="#fff" stroke="#111" stroke-width="1.2"/>
<clipPath id="cp8"><path d="M872.2 227.5 L873.3 226.7 L874.2 225.6 L875 224.3 L875.5 222.8 L875.8 221.1 L875.9 219.2 L875.8 217.3 L875.5 215.2 L875 213.1 L874.2 210.9 L873.3 208.8 L872.2 206.7 L871 204.7 L869.6 202.8 L868.1 201.1 L866.5 199.6 L864.9 198.3 L863.2 197.2 L861.5 196.4 L859.9 195.8 L858.3 195.5 L856.8 195.5 L855.5 195.8 L854.2 196.3 L853.1 197.1 L852.2 198.2 L851.4 199.5 L850.9 201 L850.6 202.7 L850.5 204.5 L850.6 206.5 L850.9 208.6 L851.4 210.7 L852.2 212.9 L853.1 215 L854.2 217.1 L855.5 219.1 L856.8 220.9 L858.3 222.7 L859.9 224.2 L861.5 225.5 L863.2 226.6 L864.9 227.4 L866.5 228 L868.1 228.3 L869.6 228.3 L871 228 L872.2 227.5Z"/></clipPath>
<path d="M878.7 220.8 L879.7 220.1 L880.5 219.2 L881.1 218.1 L881.6 216.8 L881.9 215.3 L882 213.7 L881.9 212 L881.6 210.2 L881.1 208.4 L880.5 206.5 L879.7 204.7 L878.7 202.9 L877.7 201.2 L876.5 199.6 L875.2 198.1 L873.8 196.8 L872.4 195.7 L871 194.7 L869.6 194 L868.2 193.5 L866.8 193.3 L865.5 193.3 L864.3 193.5 L863.2 194 L862.3 194.7 L861.5 195.6 L860.9 196.7 L860.4 198 L860.1 199.5 L860 201.1 L860.1 202.8 L860.4 204.6 L860.9 206.4 L861.5 208.2 L862.3 210.1 L863.2 211.9 L864.3 213.6 L865.5 215.2 L866.8 216.7 L868.2 218 L869.6 219.1 L871 220 L872.4 220.8 L873.8 221.3 L875.2 221.5 L876.5 221.5 L877.7 221.3 L878.7 220.8" fill="none" stroke="#111" stroke-width="1.2" clip-path="url(#cp8)"/>
<path d="M818.4 223 L817.8 223.4 L817.2 224 L816.7 224.7 L816.4 225.4 L816.1 226.3 L815.9 227.3 L815.8 228.3 L815.8 229.4 L815.9 230.5 L816.1 231.7 L816.4 232.9 L816.7 234.2 L817.2 235.4 L817.8 236.6 L818.4 237.8 L819.1 238.9 L819.9 240 L820.7 241 L821.6 241.9 L822.5 242.8 L823.4 243.6 L824.3 244.2 L825.3 244.8 L826.2 245.2 L827.1 245.5 L828 245.7 L828.9 245.7 L829.7 245.7 L830.5 245.5 L831.2 245.1 L838.7 240.8 L839.4 240.3 L839.9 239.8 L840.4 239.1 L840.8 238.3 L841.1 237.5 L841.3 236.5 L841.4 235.5 L841.4 234.4 L841.3 233.2 L841.1 232.1 L840.8 230.8 L840.4 229.6 L839.9 228.4 L839.4 227.2 L838.7 226 L838 224.9 L837.3 223.8 L836.4 222.8 L835.6 221.8 L834.7 221 L833.8 220.2 L832.8 219.5 L831.9 219 L830.9 218.6 L830 218.3 L829.1 218.1 L828.2 218 L827.4 218.1 L826.6 218.3 L825.9 218.6Z" fill="#fff" stroke="#111" stroke-width="1.2"/>
<path d="M831.2 245.1 L831.8 244.7 L832.4 244.1 L832.9 243.5 L833.2 242.7 L833.5 241.8 L833.7 240.9 L833.8 239.8 L833.8 238.7 L833.7 237.6 L833.5 236.4 L833.2 235.2 L832.9 234 L832.4 232.8 L831.8 231.5 L831.2 230.4 L830.5 229.2 L829.7 228.1 L828.9 227.1 L828 226.2 L827.1 225.3 L826.2 224.6 L825.3 223.9 L824.3 223.4 L823.4 222.9 L822.5 222.6 L821.6 222.4 L820.7 222.4 L819.9 222.5 L819.1 222.7 L818.4 223 L817.8 223.4 L817.2 224 L816.7 224.7 L816.4 225.4 L816.1 226.3 L815.9 227.3 L815.8 228.3 L815.8 229.4 L815.9 230.5 L816.1 231.7 L816.4 232.9 L816.7 234.2 L817.2 235.4 L817.8 236.6 L818.4 237.8 L819.1 238.9 L819.9 240 L820.7 241 L821.6 241.9 L822.5 242.8 L823.4 243.6 L824.3 244.2 L825.3 244.8 L826.2 245.2 L827.1 245.5 L828 245.7 L828.9 245.7 L829.7 245.7 L830.5 245.5 L831.2 245.1Z" fill="#fff" stroke="#111" stroke-width="1.2"/>
<path d="M828.1 239.8 L828.4 239.5 L828.7 239.3 L829 238.9 L829.2 238.5 L829.3 238.1 L829.4 237.6 L829.5 237 L829.5 236.5 L829.4 235.9 L829.3 235.3 L829.2 234.6 L829 234 L828.7 233.4 L828.4 232.8 L828.1 232.2 L827.7 231.6 L827.3 231 L826.9 230.5 L826.5 230 L826 229.6 L825.5 229.2 L825 228.8 L824.6 228.5 L824.1 228.3 L823.6 228.2 L823.1 228.1 L822.7 228 L822.3 228.1 L821.9 228.2 L821.5 228.3 L821.2 228.6 L820.9 228.9 L820.6 229.2 L820.4 229.6 L820.3 230.1 L820.2 230.6 L820.1 231.1 L820.1 231.7 L820.2 232.2 L820.3 232.9 L820.4 233.5 L820.6 234.1 L820.9 234.7 L821.2 235.4 L821.5 236 L821.9 236.6 L822.3 237.1 L822.7 237.6 L823.1 238.1 L823.6 238.6 L824.1 239 L824.6 239.3 L825 239.6 L825.5 239.8 L826 240 L826.5 240.1 L826.9 240.1 L827.3 240 L827.7 239.9 L828.1 239.8Z" fill="#fff" stroke="#111" stroke-width="1.2"/>
<clipPath id="cp9"><path d="M828.1 239.8 L828.5 239.5 L828.8 239.1 L829.1 238.6 L829.3 238.1 L829.4 237.4 L829.5 236.8 L829.4 236 L829.3 235.3 L829.1 234.5 L828.8 233.7 L828.5 232.9 L828.1 232.2 L827.6 231.4 L827.1 230.7 L826.6 230.1 L826 229.6 L825.4 229.1 L824.8 228.7 L824.2 228.4 L823.6 228.2 L823 228.1 L822.5 228 L822 228.1 L821.5 228.3 L821.1 228.6 L820.8 229 L820.5 229.5 L820.3 230.1 L820.2 230.7 L820.1 231.4 L820.2 232.1 L820.3 232.9 L820.5 233.6 L820.8 234.4 L821.1 235.2 L821.5 236 L822 236.7 L822.5 237.4 L823 238 L823.6 238.6 L824.2 239.1 L824.8 239.5 L825.4 239.8 L826 240 L826.6 240.1 L827.1 240.1 L827.6 240 L828.1 239.8Z"/></clipPath>
<path d="M830 237.1 L830.3 236.8 L830.6 236.5 L830.8 236.1 L830.9 235.7 L831 235.2 L831.1 234.7 L831 234.1 L830.9 233.5 L830.8 232.9 L830.6 232.3 L830.3 231.7 L830 231.1 L829.6 230.5 L829.2 229.9 L828.8 229.5 L828.3 229 L827.9 228.6 L827.4 228.3 L826.9 228.1 L826.4 227.9 L826 227.8 L825.6 227.8 L825.2 227.9 L824.8 228.1 L824.5 228.3 L824.2 228.6 L824 229 L823.8 229.4 L823.8 229.9 L823.7 230.4 L823.8 231 L823.8 231.6 L824 232.2 L824.2 232.8 L824.5 233.5 L824.8 234.1 L825.2 234.6 L825.6 235.2 L826 235.7 L826.4 236.1 L826.9 236.5 L827.4 236.8 L827.9 237 L828.3 237.2 L828.8 237.3 L829.2 237.3 L829.6 237.2 L830 237.1" fill="none" stroke="#111" stroke-width="1.2" clip-path="url(#cp9)"/>
<path d="M792.7 237.8 L792.1 238.3 L791.5 238.8 L791 239.5 L790.7 240.3 L790.4 241.1 L790.2 242.1 L790.1 243.1 L790.1 244.2 L790.2 245.4 L790.4 246.6 L790.7 247.8 L791 249 L791.5 250.2 L792.1 251.4 L792.7 252.6 L793.4 253.7 L794.2 254.8 L795 255.8 L795.9 256.8 L796.8 257.6 L797.7 258.4 L798.6 259.1 L799.6 259.6 L800.5 260 L801.4 260.3 L802.3 260.5 L803.2 260.6 L804 260.5 L804.8 260.3 L805.5 260 L813.6 255.3 L814.2 254.9 L814.7 254.3 L815.2 253.7 L815.6 252.9 L815.9 252 L816.1 251 L816.2 250 L816.2 248.9 L816.1 247.8 L815.9 246.6 L815.6 245.4 L815.2 244.2 L814.7 242.9 L814.2 241.7 L813.6 240.6 L812.8 239.4 L812.1 238.3 L811.3 237.3 L810.4 236.4 L809.5 235.5 L808.6 234.7 L807.6 234.1 L806.7 233.5 L805.7 233.1 L804.8 232.8 L803.9 232.6 L803 232.6 L802.2 232.6 L801.5 232.8 L800.8 233.2Z" fill="#fff" stroke="#111" stroke-width="1.2"/>
<path d="M805.5 260 L806.1 259.5 L806.7 259 L807.2 258.3 L807.5 257.5 L807.8 256.7 L808 255.7 L808.1 254.7 L808.1 253.6 L808 252.4 L807.8 251.2 L807.5 250 L807.2 248.8 L806.7 247.6 L806.1 246.4 L805.5 245.2 L804.8 244.1 L804 243 L803.2 242 L802.3 241 L801.4 240.2 L800.5 239.4 L799.6 238.7 L798.6 238.2 L797.7 237.8 L796.8 237.5 L795.9 237.3 L795 237.2 L794.2 237.3 L793.4 237.5 L792.7 237.8 L792.1 238.3 L791.5 238.8 L791 239.5 L790.7 240.3 L790.4 241.1 L790.2 242.1 L790.1 243.1 L790.1 244.2 L790.2 245.4 L790.4 246.6 L790.7 247.8 L791 249 L791.5 250.2 L792.1 251.4 L792.7 252.6 L793.4 253.7 L794.2 254.8 L795 255.8 L795.9 256.8 L796.8 257.6 L797.7 258.4 L798.6 259.1 L799.6 259.6 L800.5 260 L801.4 260.3 L802.3 260.5 L803.2 260.6 L804 260.5 L804.8 260.3 L805.5 260Z" fill="#fff" stroke="#111" stroke-width="1.2"/>
<path d="M802.4 254.6 L802.7 254.4 L803 254.1 L803.3 253.7 L803.5 253.3 L803.6 252.9 L803.7 252.4 L803.8 251.9 L803.8 251.3 L803.7 250.7 L803.6 250.1 L803.5 249.5 L803.3 248.9 L803 248.2 L802.7 247.6 L802.4 247 L802 246.4 L801.6 245.8 L801.2 245.3 L800.8 244.8 L800.3 244.4 L799.8 244 L799.3 243.7 L798.9 243.4 L798.4 243.2 L797.9 243 L797.4 242.9 L797 242.9 L796.6 242.9 L796.2 243 L795.8 243.2 L795.5 243.4 L795.2 243.7 L794.9 244.1 L794.7 244.5 L794.6 244.9 L794.5 245.4 L794.4 245.9 L794.4 246.5 L794.5 247.1 L794.6 247.7 L794.7 248.3 L794.9 248.9 L795.2 249.6 L795.5 250.2 L795.8 250.8 L796.2 251.4 L796.6 252 L797 252.5 L797.4 253 L797.9 253.4 L798.4 253.8 L798.9 254.1 L799.3 254.4 L799.8 254.6 L800.3 254.8 L800.8 254.9 L801.2 254.9 L801.6 254.9 L802 254.8 L802.4 254.6Z" fill="#fff" stroke="#111" stroke-width="1.2"/>
<clipPath id="cp10"><path d="M802.4 254.6 L802.8 254.3 L803.1 253.9 L803.4 253.5 L803.6 252.9 L803.7 252.3 L803.8 251.6 L803.7 250.9 L803.6 250.1 L803.4 249.3 L803.1 248.5 L802.8 247.8 L802.4 247 L801.9 246.3 L801.4 245.6 L800.9 245 L800.3 244.4 L799.7 243.9 L799.1 243.5 L798.5 243.2 L797.9 243 L797.3 242.9 L796.8 242.9 L796.3 243 L795.8 243.2 L795.4 243.5 L795.1 243.9 L794.8 244.3 L794.6 244.9 L794.5 245.5 L794.4 246.2 L794.5 246.9 L794.6 247.7 L794.8 248.5 L795.1 249.3 L795.4 250 L795.8 250.8 L796.3 251.5 L796.8 252.2 L797.3 252.8 L797.9 253.4 L798.5 253.9 L799.1 254.3 L799.7 254.6 L800.3 254.8 L800.9 254.9 L801.4 254.9 L801.9 254.8 L802.4 254.6Z"/></clipPath>
<path d="M804.3 251.9 L804.6 251.7 L804.9 251.4 L805.1 251 L805.2 250.5 L805.3 250.1 L805.4 249.5 L805.3 248.9 L805.2 248.4 L805.1 247.7 L804.9 247.1 L804.6 246.5 L804.3 245.9 L803.9 245.3 L803.5 244.8 L803.1 244.3 L802.6 243.8 L802.2 243.5 L801.7 243.2 L801.2 242.9 L800.7 242.7 L800.3 242.7 L799.9 242.7 L799.5 242.7 L799.1 242.9 L798.8 243.1 L798.5 243.4 L798.3 243.8 L798.1 244.2 L798.1 244.7 L798 245.3 L798.1 245.8 L798.1 246.4 L798.3 247.1 L798.5 247.7 L798.8 248.3 L799.1 248.9 L799.5 249.5 L799.9 250 L800.3 250.5 L800.7 251 L801.2 251.3 L801.7 251.6 L802.2 251.9 L802.6 252 L803.1 252.1 L803.5 252.1 L803.9 252.1 L804.3 251.9" fill="none" stroke="#111" stroke-width="1.2" clip-path="url(#cp10)"/>
<path d="M761.2 251.7 L760.4 252.3 L759.7 253 L759.1 253.9 L758.6 254.9 L758.2 256 L758 257.2 L757.8 258.6 L757.8 260 L758 261.4 L758.2 263 L758.6 264.5 L759.1 266.1 L759.7 267.7 L760.4 269.2 L761.2 270.8 L762.2 272.2 L763.1 273.6 L764.2 274.9 L765.3 276.2 L766.5 277.3 L767.7 278.2 L768.9 279.1 L770.1 279.8 L771.3 280.3 L772.5 280.7 L773.7 281 L774.8 281.1 L775.9 281 L776.8 280.7 L777.8 280.3 L789.9 273.3 L790.7 272.7 L791.4 272 L792 271.1 L792.5 270.1 L792.9 269 L793.1 267.7 L793.3 266.4 L793.3 265 L793.1 263.5 L792.9 262 L792.5 260.4 L792 258.9 L791.4 257.3 L790.7 255.7 L789.9 254.2 L789 252.8 L788 251.4 L786.9 250 L785.8 248.8 L784.6 247.7 L783.4 246.7 L782.2 245.9 L781 245.2 L779.8 244.6 L778.6 244.2 L777.4 244 L776.3 243.9 L775.3 244 L774.3 244.3 L773.4 244.7Z" fill="#fff" stroke="#111" stroke-width="1.2"/>
<path d="M777.8 280.3 L778.6 279.7 L779.3 279 L779.9 278.1 L780.4 277.1 L780.8 276 L781 274.7 L781.2 273.4 L781.2 272 L781 270.5 L780.8 269 L780.4 267.4 L779.9 265.9 L779.3 264.3 L778.6 262.7 L777.8 261.2 L776.8 259.8 L775.9 258.4 L774.8 257 L773.7 255.8 L772.5 254.7 L771.3 253.7 L770.1 252.9 L768.9 252.2 L767.7 251.6 L766.5 251.2 L765.3 251 L764.2 250.9 L763.1 251 L762.2 251.3 L761.2 251.7 L760.4 252.3 L759.7 253 L759.1 253.9 L758.6 254.9 L758.2 256 L758 257.2 L757.8 258.6 L757.8 260 L758 261.4 L758.2 263 L758.6 264.5 L759.1 266.1 L759.7 267.7 L760.4 269.2 L761.2 270.8 L762.2 272.2 L763.1 273.6 L764.2 274.9 L765.3 276.2 L766.5 277.3 L767.7 278.2 L768.9 279.1 L770.1 279.8 L771.3 280.3 L772.5 280.7 L773.7 281 L774.8 281.1 L775.9 281 L776.8 280.7 L777.8 280.3Z" fill="#fff" stroke="#111" stroke-width="1.2"/>
<path d="M773.3 272.6 L773.7 272.3 L774 272 L774.3 271.6 L774.5 271.1 L774.7 270.6 L774.8 270 L774.9 269.4 L774.9 268.8 L774.8 268.1 L774.7 267.4 L774.5 266.7 L774.3 265.9 L774 265.2 L773.7 264.5 L773.3 263.8 L772.9 263.1 L772.4 262.5 L771.9 261.9 L771.4 261.3 L770.9 260.8 L770.3 260.3 L769.8 260 L769.2 259.6 L768.7 259.4 L768.1 259.2 L767.6 259.1 L767.1 259.1 L766.6 259.1 L766.1 259.2 L765.7 259.4 L765.3 259.7 L765 260 L764.7 260.4 L764.5 260.9 L764.3 261.4 L764.2 262 L764.1 262.6 L764.1 263.2 L764.2 263.9 L764.3 264.6 L764.5 265.3 L764.7 266 L765 266.8 L765.3 267.5 L765.7 268.2 L766.1 268.9 L766.6 269.5 L767.1 270.1 L767.6 270.7 L768.1 271.2 L768.7 271.6 L769.2 272 L769.8 272.3 L770.3 272.6 L770.9 272.8 L771.4 272.9 L771.9 272.9 L772.4 272.9 L772.9 272.8 L773.3 272.6Z" fill="#fff" stroke="#111" stroke-width="1.2"/>
<clipPath id="cp11"><path d="M773.3 272.6 L773.8 272.2 L774.2 271.8 L774.5 271.2 L774.7 270.6 L774.8 269.9 L774.9 269.1 L774.8 268.3 L774.7 267.4 L774.5 266.5 L774.2 265.6 L773.8 264.7 L773.3 263.8 L772.8 263 L772.2 262.2 L771.6 261.4 L770.9 260.8 L770.2 260.2 L769.5 259.8 L768.8 259.4 L768.1 259.2 L767.4 259.1 L766.8 259.1 L766.2 259.2 L765.7 259.4 L765.2 259.7 L764.8 260.2 L764.5 260.7 L764.3 261.4 L764.2 262.1 L764.1 262.9 L764.2 263.7 L764.3 264.6 L764.5 265.5 L764.8 266.4 L765.2 267.3 L765.7 268.2 L766.2 269 L766.8 269.8 L767.4 270.5 L768.1 271.2 L768.8 271.7 L769.5 272.2 L770.2 272.5 L770.9 272.8 L771.6 272.9 L772.2 272.9 L772.8 272.8 L773.3 272.6Z"/></clipPath>
<path d="M776.1 269.4 L776.4 269.1 L776.8 268.7 L777 268.3 L777.2 267.7 L777.3 267.2 L777.3 266.5 L777.3 265.8 L777.2 265.1 L777 264.4 L776.8 263.6 L776.4 262.9 L776.1 262.2 L775.6 261.5 L775.2 260.9 L774.6 260.3 L774.1 259.8 L773.5 259.3 L773 258.9 L772.4 258.6 L771.8 258.4 L771.3 258.3 L770.8 258.3 L770.3 258.4 L769.9 258.6 L769.5 258.9 L769.2 259.3 L768.9 259.7 L768.7 260.2 L768.6 260.8 L768.6 261.5 L768.6 262.1 L768.7 262.9 L768.9 263.6 L769.2 264.3 L769.5 265.1 L769.9 265.8 L770.3 266.5 L770.8 267.1 L771.3 267.7 L771.8 268.2 L772.4 268.7 L773 269.1 L773.5 269.3 L774.1 269.5 L774.6 269.6 L775.2 269.6 L775.6 269.5 L776.1 269.4" fill="none" stroke="#111" stroke-width="1.2" clip-path="url(#cp11)"/>
<path d="M756.4 305.9 L757.8 304.9 L759 303.7 L760 302.2 L760.9 300.5 L761.5 298.6 L762 296.5 L762.2 294.2 L762.2 291.9 L762 289.3 L761.5 286.8 L760.9 284.1 L760 281.4 L759 278.8 L757.8 276.1 L756.4 273.6 L754.9 271.1 L753.2 268.7 L751.4 266.5 L749.5 264.4 L747.5 262.5 L745.5 260.8 L743.4 259.4 L741.4 258.2 L739.3 257.3 L737.3 256.6 L735.3 256.2 L733.4 256.1 L731.6 256.2 L729.9 256.7 L728.4 257.4 L727 258.4 L725.8 259.6 L724.8 261.1 L723.9 262.8 L723.3 264.7 L722.8 266.8 L722.6 269 L722.6 271.4 L722.8 273.9 L723.3 276.5 L723.9 279.2 L724.8 281.8 L725.8 284.5 L727 287.1 L728.4 289.7 L729.9 292.2 L731.6 294.6 L733.4 296.8 L735.3 298.9 L737.3 300.8 L739.3 302.4 L741.4 303.9 L743.4 305.1 L745.5 306 L747.5 306.7 L749.5 307.1 L751.4 307.2 L753.2 307 L754.9 306.6 L756.4 305.9Z" fill="none" stroke="#111" stroke-width="2.2"/>
<path d="M722.8 327.6 L724.3 326.5 L725.6 325.2 L726.7 323.6 L727.6 321.8 L728.3 319.8 L728.8 317.5 L729 315.1 L729 312.6 L728.8 309.9 L728.3 307.1 L727.6 304.3 L726.7 301.4 L725.6 298.5 L724.3 295.7 L722.8 293 L721.1 290.3 L719.4 287.7 L717.4 285.3 L715.4 283.1 L713.3 281.1 L711.1 279.3 L708.9 277.8 L706.7 276.5 L704.5 275.5 L702.3 274.8 L700.2 274.4 L698.2 274.2 L696.2 274.4 L694.5 274.9 L692.8 275.6 L691.3 276.7 L690 278 L688.9 279.6 L688 281.4 L687.3 283.4 L686.8 285.7 L686.6 288.1 L686.6 290.7 L686.8 293.3 L687.3 296.1 L688 299 L688.9 301.8 L690 304.7 L691.3 307.5 L692.8 310.3 L694.5 312.9 L696.2 315.5 L698.2 317.9 L700.2 320.1 L702.3 322.1 L704.5 323.9 L706.7 325.4 L708.9 326.7 L711.1 327.7 L713.3 328.4 L715.4 328.9 L717.4 329 L719.4 328.8 L721.1 328.4 L722.8 327.6Z" fill="none" stroke="#111" stroke-width="1.2"/>
<path d="M721.9 326 L723.3 325 L724.5 323.8 L725.6 322.3 L726.4 320.6 L727.1 318.7 L727.5 316.6 L727.7 314.3 L727.7 311.9 L727.5 309.4 L727.1 306.8 L726.4 304.1 L725.6 301.4 L724.5 298.7 L723.3 296.1 L721.9 293.5 L720.3 291 L718.7 288.6 L716.9 286.3 L714.9 284.2 L713 282.4 L710.9 280.7 L708.8 279.2 L706.8 278 L704.7 277.1 L702.6 276.4 L700.7 276 L698.7 275.9 L696.9 276 L695.3 276.5 L693.7 277.2 L692.3 278.2 L691.1 279.4 L690 280.9 L689.2 282.6 L688.5 284.5 L688.1 286.6 L687.9 288.9 L687.9 291.3 L688.1 293.8 L688.5 296.5 L689.2 299.1 L690 301.8 L691.1 304.5 L692.3 307.2 L693.7 309.8 L695.3 312.3 L696.9 314.7 L698.7 316.9 L700.7 319 L702.6 320.9 L704.7 322.6 L706.8 324 L708.8 325.2 L710.9 326.2 L713 326.8 L714.9 327.2 L716.9 327.4 L718.7 327.2 L720.3 326.8 L721.9 326Z" fill="none" stroke="#111" stroke-width="2"/>
<path d="M687.5 350.9 L689.1 349.7 L690.5 348.3 L691.7 346.6 L692.7 344.6 L693.4 342.4 L693.9 340 L694.2 337.4 L694.2 334.6 L693.9 331.7 L693.4 328.7 L692.7 325.6 L691.7 322.5 L690.5 319.4 L689.1 316.3 L687.5 313.3 L685.7 310.4 L683.8 307.7 L681.7 305.1 L679.5 302.7 L677.2 300.5 L674.8 298.6 L672.5 296.9 L670 295.5 L667.7 294.4 L665.3 293.6 L663 293.2 L660.8 293 L658.7 293.2 L656.8 293.7 L655 294.6 L653.4 295.7 L652 297.1 L650.8 298.8 L649.8 300.8 L649.1 303 L648.6 305.5 L648.3 308.1 L648.3 310.9 L648.6 313.8 L649.1 316.8 L649.8 319.8 L650.8 322.9 L652 326 L653.4 329.1 L655 332.1 L656.8 335 L658.7 337.7 L660.8 340.3 L663 342.7 L665.3 344.9 L667.7 346.8 L670 348.5 L672.5 349.9 L674.8 351 L677.2 351.8 L679.5 352.2 L681.7 352.4 L683.8 352.2 L685.7 351.7 L687.5 350.9Z" fill="none" stroke="#111" stroke-width="2.2"/>
<path d="M550.7 609.1 L639.2 558 L673.4 617.3 L584.9 668.3Z" fill="#fff" stroke="none"/>
<path d="M550.7 609.1 L639.2 558" fill="none" stroke="#111" stroke-width="1.2"/>
<path d="M584.9 668.3 L673.4 617.3" fill="none" stroke="#111" stroke-width="1.2"/>
<path d="M656.3 587.6 L657.1 587 L657.9 586.3 L658.5 585.4 L659 584.3 L659.4 583.2 L659.7 581.9 L659.8 580.5 L659.8 579.1 L659.7 577.5 L659.4 576 L659 574.3 L658.5 572.7 L657.9 571.1 L657.1 569.5 L656.3 567.9 L655.4 566.4 L654.3 564.9 L653.2 563.6 L652.1 562.3 L650.9 561.1 L649.6 560.1 L648.4 559.2 L647.1 558.5 L645.9 557.9 L644.6 557.5 L643.4 557.3 L642.3 557.2 L641.2 557.3 L640.1 557.6 L639.2 558 L638.4 558.6 L637.6 559.4 L637 560.3 L636.5 561.3 L636.1 562.5 L635.8 563.7 L635.7 565.1 L635.7 566.6 L635.8 568.1 L636.1 569.7 L636.5 571.3 L637 572.9 L637.6 574.6 L638.4 576.2 L639.2 577.8 L640.1 579.3 L641.2 580.7 L642.3 582.1 L643.4 583.4 L644.6 584.5 L645.9 585.5 L647.1 586.4 L648.4 587.1 L649.6 587.7 L650.9 588.1 L652.1 588.4 L653.2 588.4 L654.3 588.3 L655.4 588.1 L656.3 587.6Z" fill="#fff" stroke="#111" stroke-width="1.2"/>
<path d="M673.4 617.3 L674.2 616.7 L675 615.9 L675.6 615 L676.1 614 L676.5 612.8 L676.8 611.5 L676.9 610.1 L676.9 608.7 L676.8 607.2 L676.5 605.6 L676.1 604 L675.6 602.3 L675 600.7 L674.2 599.1 L673.4 597.5 L672.5 596 L671.4 594.5 L670.3 593.2 L669.2 591.9 L668 590.8 L666.7 589.7 L665.5 588.9 L664.2 588.1 L663 587.6 L661.7 587.2 L660.5 586.9 L659.4 586.8 L658.3 586.9 L657.2 587.2 L656.3 587.6" fill="none" stroke="#111" stroke-width="1.2"/>
<path d="M549.2 606.4 L547.3 607.7 L545.7 609.4 L544.3 611.3 L543.2 613.6 L542.3 616.1 L541.8 618.9 L541.5 621.9 L541.5 625.1 L541.8 628.5 L542.3 631.9 L543.2 635.4 L544.3 639 L545.7 642.5 L547.3 646.1 L549.2 649.5 L551.2 652.8 L553.4 656 L555.8 659 L558.4 661.7 L561 664.2 L563.7 666.4 L566.4 668.3 L569.2 669.9 L571.9 671.2 L574.6 672.1 L577.3 672.6 L579.8 672.8 L582.2 672.6 L584.4 672 L586.5 671 L589.5 666.3 L591.2 665.1 L592.7 663.5 L594 661.7 L595 659.6 L595.8 657.2 L596.4 654.7 L596.6 651.9 L596.6 648.9 L596.4 645.8 L595.8 642.6 L595 639.3 L594 636 L592.7 632.7 L591.2 629.4 L589.5 626.2 L587.6 623.1 L585.5 620.2 L583.3 617.4 L580.9 614.9 L578.5 612.5 L576 610.5 L573.4 608.7 L570.8 607.2 L568.3 606 L565.8 605.2 L563.3 604.7 L561 604.6 L558.8 604.8 L556.7 605.3 L554.8 606.2Z" fill="#fff" stroke="#111" stroke-width="1.2"/>
<path d="M589.6 666.5 L591.4 665.3 L592.9 663.8 L594.2 661.9 L595.2 659.8 L596 657.4 L596.6 654.8 L596.8 652 L596.8 649 L596.6 645.9 L596 642.6 L595.2 639.3 L594.2 636 L592.9 632.6 L591.4 629.3 L589.6 626.1 L587.7 623 L585.6 620 L583.4 617.3 L581 614.7 L578.5 612.3 L576 610.2 L573.4 608.4 L570.8 606.9 L568.3 605.8 L565.7 604.9 L563.3 604.4 L560.9 604.3 L558.7 604.5 L556.6 605 L554.6 605.9" fill="none" stroke="#111" stroke-width="1.2"/>
<path d="M480.6 642.9 L478.6 644.3 L476.9 646 L475.4 648.2 L474.2 650.6 L473.3 653.3 L472.7 656.3 L472.4 659.5 L472.4 662.9 L472.7 666.5 L473.3 670.2 L474.2 674 L475.4 677.8 L476.9 681.6 L478.6 685.4 L480.6 689.1 L482.8 692.6 L485.2 696 L487.8 699.2 L490.5 702.2 L493.3 704.8 L496.2 707.2 L499.1 709.3 L502.1 711 L505 712.3 L507.9 713.3 L510.7 713.9 L513.4 714 L516 713.8 L518.4 713.2 L520.6 712.2 L586.5 671 L588.3 669.7 L589.9 668.1 L591.3 666.1 L592.4 663.9 L593.3 661.3 L593.9 658.5 L594.1 655.5 L594.1 652.3 L593.9 649 L593.3 645.6 L592.4 642 L591.3 638.5 L589.9 634.9 L588.3 631.4 L586.5 628 L584.4 624.6 L582.2 621.5 L579.8 618.5 L577.3 615.8 L574.6 613.3 L571.9 611 L569.2 609.1 L566.4 607.5 L563.7 606.3 L561 605.4 L558.4 604.8 L555.8 604.7 L553.4 604.9 L551.2 605.5 L549.2 606.4Z" fill="#fff" stroke="#111" stroke-width="1.2"/>
<path d="M586.5 671 L588.3 669.7 L589.9 668.1 L591.3 666.1 L592.4 663.9 L593.3 661.3 L593.9 658.5 L594.1 655.5 L594.1 652.3 L593.9 649 L593.3 645.6 L592.4 642 L591.3 638.5 L589.9 634.9 L588.3 631.4 L586.5 628 L584.4 624.6 L582.2 621.5 L579.8 618.5 L577.3 615.8 L574.6 613.3 L571.9 611 L569.2 609.1 L566.4 607.5 L563.7 606.3 L561 605.4 L558.4 604.8 L555.8 604.7 L553.4 604.9 L551.2 605.5 L549.2 606.4" fill="none" stroke="#111" stroke-width="1.2"/>
<path d="M520.6 712.2 L522.6 710.8 L524.3 709 L525.8 706.9 L527 704.5 L527.9 701.8 L528.5 698.8 L528.8 695.5 L528.8 692.1 L528.5 688.5 L527.9 684.8 L527 681.1 L525.8 677.3 L524.3 673.4 L522.6 669.7 L520.6 666 L518.4 662.4 L516 659 L513.4 655.8 L510.7 652.9 L507.9 650.2 L505 647.8 L502.1 645.8 L499.1 644.1 L496.2 642.7 L493.3 641.8 L490.5 641.2 L487.8 641 L485.2 641.2 L482.8 641.9 L480.6 642.9 L478.6 644.3 L476.9 646 L475.4 648.2 L474.2 650.6 L473.3 653.3 L472.7 656.3 L472.4 659.5 L472.4 662.9 L472.7 666.5 L473.3 670.2 L474.2 674 L475.4 677.8 L476.9 681.6 L478.6 685.4 L480.6 689.1 L482.8 692.6 L485.2 696 L487.8 699.2 L490.5 702.2 L493.3 704.8 L496.2 707.2 L499.1 709.3 L502.1 711 L505 712.3 L507.9 713.3 L510.7 713.9 L513.4 714 L516 713.8 L518.4 713.2 L520.6 712.2Z" fill="#fff" stroke="#111" stroke-width="1.5"/>
<path d="M521 709.9 L522.9 708.5 L524.6 706.8 L526 704.8 L527.1 702.5 L528 699.9 L528.6 697.1 L528.9 694 L528.9 690.7 L528.6 687.3 L528 683.8 L527.1 680.2 L526 676.5 L524.6 672.9 L522.9 669.3 L521 665.8 L518.9 662.4 L516.6 659.1 L514.2 656.1 L511.6 653.2 L508.9 650.7 L506.1 648.4 L503.3 646.4 L500.5 644.8 L497.7 643.5 L494.9 642.6 L492.2 642.1 L489.6 641.9 L487.2 642.1 L484.9 642.7 L482.8 643.7 L480.9 645 L479.2 646.7 L477.8 648.7 L476.7 651 L475.8 653.6 L475.2 656.5 L474.9 659.6 L474.9 662.8 L475.2 666.3 L475.8 669.8 L476.7 673.4 L477.8 677 L479.2 680.7 L480.9 684.3 L482.8 687.8 L484.9 691.2 L487.2 694.4 L489.6 697.5 L492.2 700.3 L494.9 702.9 L497.7 705.1 L500.5 707.1 L503.3 708.7 L506.1 710 L508.9 710.9 L511.6 711.5 L514.2 711.6 L516.6 711.4 L518.9 710.8 L521 709.9Z" fill="none" stroke="#111" stroke-width="1.1"/>
<path d="M520.1 707.3 L521.8 706 L523.4 704.5 L524.7 702.6 L525.8 700.4 L526.6 698 L527.1 695.4 L527.4 692.5 L527.4 689.5 L527.1 686.3 L526.6 683 L525.8 679.7 L524.7 676.3 L523.4 672.9 L521.8 669.6 L520.1 666.3 L518.1 663.1 L516 660.1 L513.7 657.3 L511.3 654.7 L508.8 652.3 L506.3 650.2 L503.6 648.3 L501 646.8 L498.4 645.6 L495.8 644.8 L493.3 644.3 L490.9 644.1 L488.7 644.3 L486.5 644.9 L484.6 645.8 L482.8 647 L481.3 648.6 L480 650.5 L478.9 652.6 L478.1 655 L477.5 657.7 L477.3 660.5 L477.3 663.6 L477.5 666.7 L478.1 670 L478.9 673.4 L480 676.8 L481.3 680.2 L482.8 683.5 L484.6 686.8 L486.5 689.9 L488.7 692.9 L490.9 695.8 L493.3 698.4 L495.8 700.8 L498.4 702.9 L501 704.7 L503.6 706.2 L506.3 707.4 L508.8 708.3 L511.3 708.8 L513.7 708.9 L516 708.7 L518.1 708.2 L520.1 707.3Z" fill="none" stroke="#111" stroke-width="1.2"/>
<clipPath id="cp12"><path d="M520.1 707.3 L522.2 705.7 L524.1 703.6 L525.5 701 L526.6 698 L527.2 694.7 L527.4 691 L527.2 687.1 L526.6 683 L525.5 678.8 L524.1 674.6 L522.2 670.4 L520.1 666.3 L517.6 662.4 L514.9 658.7 L511.9 655.3 L508.8 652.3 L505.6 649.7 L502.3 647.5 L499.1 645.9 L495.8 644.8 L492.7 644.2 L489.8 644.2 L487.1 644.7 L484.6 645.8 L482.4 647.4 L480.6 649.5 L479.1 652 L478.1 655 L477.4 658.4 L477.2 662 L477.4 665.9 L478.1 670 L479.1 674.2 L480.6 678.5 L482.4 682.7 L484.6 686.8 L487.1 690.7 L489.8 694.4 L492.7 697.8 L495.8 700.8 L499.1 703.4 L502.3 705.5 L505.6 707.2 L508.8 708.3 L511.9 708.9 L514.9 708.9 L517.6 708.3 L520.1 707.3Z"/></clipPath>
<path d="M518.6 660.2 L516.9 658 L515.1 655.8 L513.2 653.8 L511.2 652 L509.3 650.3 L507.2 648.8 L505.2 647.4 L503.2 646.3 L501.1 645.4 L499.1 644.6 L497.2 644.1 L495.2 643.8 L493.4 643.7 L491.6 643.9 L489.9 644.2 L488.4 644.8 L486.9 645.6 L485.6 646.6 L484.3 647.8 L483.3 649.2 L482.4 650.8 L481.6 652.5 L481 654.4 L480.6 656.5 L480.3 658.6 L480.2 660.9 L480.3 663.3 L480.5 665.8 L480.9 668.4 L481.5 670.9 L482.2 673.6 L483.1 676.2 L484.2 678.8 L485.3 681.4 L486.7 684 L488.1 686.5 L489.7 688.9 L491.3 691.2 L493.1 693.4 L494.9 695.5 L496.8 697.5 L498.8 699.2 L500.8 700.9 L502.8 702.3 L504.8 703.5 L506.9 704.6 L508.9 705.4 L510.9 706.1" fill="none" stroke="#111" stroke-width="1" clip-path="url(#cp12)"/>
<clipPath id="cp13"><path d="M520.1 707.3 L522.2 705.7 L524.1 703.6 L525.5 701 L526.6 698 L527.2 694.7 L527.4 691 L527.2 687.1 L526.6 683 L525.5 678.8 L524.1 674.6 L522.2 670.4 L520.1 666.3 L517.6 662.4 L514.9 658.7 L511.9 655.3 L508.8 652.3 L505.6 649.7 L502.3 647.5 L499.1 645.9 L495.8 644.8 L492.7 644.2 L489.8 644.2 L487.1 644.7 L484.6 645.8 L482.4 647.4 L480.6 649.5 L479.1 652 L478.1 655 L477.4 658.4 L477.2 662 L477.4 665.9 L478.1 670 L479.1 674.2 L480.6 678.5 L482.4 682.7 L484.6 686.8 L487.1 690.7 L489.8 694.4 L492.7 697.8 L495.8 700.8 L499.1 703.4 L502.3 705.5 L505.6 707.2 L508.8 708.3 L511.9 708.9 L514.9 708.9 L517.6 708.3 L520.1 707.3Z"/></clipPath>
<path d="M520.8 658.9 L519.1 656.7 L517.3 654.5 L515.4 652.5 L513.5 650.7 L511.5 649 L509.5 647.5 L507.5 646.1 L505.4 645 L503.4 644.1 L501.4 643.3 L499.4 642.8 L497.5 642.5 L495.6 642.4 L493.9 642.6 L492.2 642.9 L490.6 643.5 L489.2 644.3 L487.8 645.3 L486.6 646.5 L485.5 647.9 L484.6 649.5 L483.9 651.2 L483.2 653.1 L482.8 655.2 L482.5 657.3 L482.4 659.6 L482.5 662 L482.8 664.5 L483.2 667.1 L483.7 669.6 L484.5 672.3 L485.4 674.9 L486.4 677.5 L487.6 680.1 L488.9 682.7 L490.4 685.2 L491.9 687.6 L493.6 689.9 L495.3 692.1 L497.2 694.2 L499.1 696.2 L501 697.9 L503 699.6 L505.1 701 L507.1 702.2 L509.1 703.3 L511.2 704.1 L513.1 704.8" fill="none" stroke="#111" stroke-width="1" clip-path="url(#cp13)"/>
<clipPath id="cp14"><path d="M520.1 707.3 L522.2 705.7 L524.1 703.6 L525.5 701 L526.6 698 L527.2 694.7 L527.4 691 L527.2 687.1 L526.6 683 L525.5 678.8 L524.1 674.6 L522.2 670.4 L520.1 666.3 L517.6 662.4 L514.9 658.7 L511.9 655.3 L508.8 652.3 L505.6 649.7 L502.3 647.5 L499.1 645.9 L495.8 644.8 L492.7 644.2 L489.8 644.2 L487.1 644.7 L484.6 645.8 L482.4 647.4 L480.6 649.5 L479.1 652 L478.1 655 L477.4 658.4 L477.2 662 L477.4 665.9 L478.1 670 L479.1 674.2 L480.6 678.5 L482.4 682.7 L484.6 686.8 L487.1 690.7 L489.8 694.4 L492.7 697.8 L495.8 700.8 L499.1 703.4 L502.3 705.5 L505.6 707.2 L508.8 708.3 L511.9 708.9 L514.9 708.9 L517.6 708.3 L520.1 707.3Z"/></clipPath>
<path d="M523.1 657.6 L521.4 655.4 L519.6 653.2 L517.7 651.2 L515.7 649.4 L513.8 647.7 L511.7 646.2 L509.7 644.8 L507.7 643.7 L505.6 642.8 L503.6 642 L501.7 641.5 L499.8 641.2 L497.9 641.1 L496.1 641.3 L494.4 641.6 L492.9 642.2 L491.4 643 L490.1 644 L488.9 645.2 L487.8 646.6 L486.9 648.2 L486.1 649.9 L485.5 651.8 L485.1 653.9 L484.8 656 L484.7 658.3 L484.8 660.7 L485 663.2 L485.4 665.8 L486 668.3 L486.7 671 L487.6 673.6 L488.7 676.2 L489.8 678.8 L491.2 681.4 L492.6 683.9 L494.2 686.3 L495.8 688.6 L497.6 690.8 L499.4 692.9 L501.3 694.9 L503.3 696.6 L505.3 698.3 L507.3 699.7 L509.4 700.9 L511.4 702 L513.4 702.8 L515.4 703.5" fill="none" stroke="#111" stroke-width="1" clip-path="url(#cp14)"/>
<clipPath id="cp15"><path d="M520.1 707.3 L522.2 705.7 L524.1 703.6 L525.5 701 L526.6 698 L527.2 694.7 L527.4 691 L527.2 687.1 L526.6 683 L525.5 678.8 L524.1 674.6 L522.2 670.4 L520.1 666.3 L517.6 662.4 L514.9 658.7 L511.9 655.3 L508.8 652.3 L505.6 649.7 L502.3 647.5 L499.1 645.9 L495.8 644.8 L492.7 644.2 L489.8 644.2 L487.1 644.7 L484.6 645.8 L482.4 647.4 L480.6 649.5 L479.1 652 L478.1 655 L477.4 658.4 L477.2 662 L477.4 665.9 L478.1 670 L479.1 674.2 L480.6 678.5 L482.4 682.7 L484.6 686.8 L487.1 690.7 L489.8 694.4 L492.7 697.8 L495.8 700.8 L499.1 703.4 L502.3 705.5 L505.6 707.2 L508.8 708.3 L511.9 708.9 L514.9 708.9 L517.6 708.3 L520.1 707.3Z"/></clipPath>
<path d="M525.3 656.3 L523.6 654.1 L521.8 651.9 L519.9 649.9 L518 648.1 L516 646.4 L514 644.9 L512 643.5 L509.9 642.4 L507.9 641.5 L505.9 640.7 L503.9 640.2 L502 639.9 L500.2 639.8 L498.4 640 L496.7 640.3 L495.1 640.9 L493.7 641.7 L492.3 642.7 L491.1 643.9 L490 645.3 L489.1 646.9 L488.4 648.6 L487.8 650.5 L487.3 652.6 L487 654.7 L486.9 657 L487 659.4 L487.3 661.9 L487.7 664.5 L488.2 667 L489 669.7 L489.9 672.3 L490.9 674.9 L492.1 677.5 L493.4 680.1 L494.9 682.6 L496.4 685 L498.1 687.3 L499.8 689.5 L501.7 691.6 L503.6 693.6 L505.5 695.3 L507.5 697 L509.6 698.4 L511.6 699.6 L513.6 700.7 L515.7 701.5 L517.7 702.2" fill="none" stroke="#111" stroke-width="1" clip-path="url(#cp15)"/>
<clipPath id="cp16"><path d="M520.1 707.3 L522.2 705.7 L524.1 703.6 L525.5 701 L526.6 698 L527.2 694.7 L527.4 691 L527.2 687.1 L526.6 683 L525.5 678.8 L524.1 674.6 L522.2 670.4 L520.1 666.3 L517.6 662.4 L514.9 658.7 L511.9 655.3 L508.8 652.3 L505.6 649.7 L502.3 647.5 L499.1 645.9 L495.8 644.8 L492.7 644.2 L489.8 644.2 L487.1 644.7 L484.6 645.8 L482.4 647.4 L480.6 649.5 L479.1 652 L478.1 655 L477.4 658.4 L477.2 662 L477.4 665.9 L478.1 670 L479.1 674.2 L480.6 678.5 L482.4 682.7 L484.6 686.8 L487.1 690.7 L489.8 694.4 L492.7 697.8 L495.8 700.8 L499.1 703.4 L502.3 705.5 L505.6 707.2 L508.8 708.3 L511.9 708.9 L514.9 708.9 L517.6 708.3 L520.1 707.3Z"/></clipPath>
<path d="M527.6 655 L525.9 652.8 L524.1 650.6 L522.2 648.6 L520.2 646.8 L518.3 645.1 L516.2 643.6 L514.2 642.2 L512.2 641.1 L510.1 640.2 L508.1 639.4 L506.2 638.9 L504.3 638.6 L502.4 638.5 L500.6 638.7 L499 639 L497.4 639.6 L495.9 640.4 L494.6 641.4 L493.4 642.6 L492.3 644 L491.4 645.6 L490.6 647.3 L490 649.2 L489.6 651.3 L489.3 653.4 L489.2 655.7 L489.3 658.1 L489.5 660.6 L489.9 663.2 L490.5 665.7 L491.2 668.4 L492.1 671 L493.2 673.6 L494.3 676.2 L495.7 678.8 L497.1 681.3 L498.7 683.7 L500.3 686 L502.1 688.2 L503.9 690.3 L505.8 692.3 L507.8 694 L509.8 695.7 L511.8 697.1 L513.9 698.3 L515.9 699.4 L517.9 700.2 L519.9 700.9" fill="none" stroke="#111" stroke-width="1" clip-path="url(#cp16)"/>
<clipPath id="cp17"><path d="M520.1 707.3 L522.2 705.7 L524.1 703.6 L525.5 701 L526.6 698 L527.2 694.7 L527.4 691 L527.2 687.1 L526.6 683 L525.5 678.8 L524.1 674.6 L522.2 670.4 L520.1 666.3 L517.6 662.4 L514.9 658.7 L511.9 655.3 L508.8 652.3 L505.6 649.7 L502.3 647.5 L499.1 645.9 L495.8 644.8 L492.7 644.2 L489.8 644.2 L487.1 644.7 L484.6 645.8 L482.4 647.4 L480.6 649.5 L479.1 652 L478.1 655 L477.4 658.4 L477.2 662 L477.4 665.9 L478.1 670 L479.1 674.2 L480.6 678.5 L482.4 682.7 L484.6 686.8 L487.1 690.7 L489.8 694.4 L492.7 697.8 L495.8 700.8 L499.1 703.4 L502.3 705.5 L505.6 707.2 L508.8 708.3 L511.9 708.9 L514.9 708.9 L517.6 708.3 L520.1 707.3Z"/></clipPath>
<path d="M529.8 653.7 L528.1 651.5 L526.3 649.3 L524.4 647.3 L522.5 645.5 L520.5 643.8 L518.5 642.3 L516.5 640.9 L514.4 639.8 L512.4 638.9 L510.4 638.1 L508.4 637.6 L506.5 637.3 L504.7 637.2 L502.9 637.4 L501.2 637.7 L499.6 638.3 L498.2 639.1 L496.8 640.1 L495.6 641.3 L494.5 642.7 L493.6 644.3 L492.9 646 L492.3 647.9 L491.8 650 L491.5 652.1 L491.4 654.4 L491.5 656.8 L491.8 659.3 L492.2 661.9 L492.7 664.4 L493.5 667.1 L494.4 669.7 L495.4 672.3 L496.6 674.9 L497.9 677.5 L499.4 680 L500.9 682.4 L502.6 684.7 L504.3 686.9 L506.2 689 L508.1 691 L510 692.7 L512 694.4 L514.1 695.8 L516.1 697 L518.1 698.1 L520.2 698.9 L522.2 699.6" fill="none" stroke="#111" stroke-width="1" clip-path="url(#cp17)"/>
<clipPath id="cp18"><path d="M520.1 707.3 L522.2 705.7 L524.1 703.6 L525.5 701 L526.6 698 L527.2 694.7 L527.4 691 L527.2 687.1 L526.6 683 L525.5 678.8 L524.1 674.6 L522.2 670.4 L520.1 666.3 L517.6 662.4 L514.9 658.7 L511.9 655.3 L508.8 652.3 L505.6 649.7 L502.3 647.5 L499.1 645.9 L495.8 644.8 L492.7 644.2 L489.8 644.2 L487.1 644.7 L484.6 645.8 L482.4 647.4 L480.6 649.5 L479.1 652 L478.1 655 L477.4 658.4 L477.2 662 L477.4 665.9 L478.1 670 L479.1 674.2 L480.6 678.5 L482.4 682.7 L484.6 686.8 L487.1 690.7 L489.8 694.4 L492.7 697.8 L495.8 700.8 L499.1 703.4 L502.3 705.5 L505.6 707.2 L508.8 708.3 L511.9 708.9 L514.9 708.9 L517.6 708.3 L520.1 707.3Z"/></clipPath>
<path d="M532.1 652.4 L530.4 650.2 L528.6 648 L526.7 646 L524.7 644.2 L522.8 642.5 L520.7 641 L518.7 639.6 L516.7 638.5 L514.6 637.6 L512.6 636.8 L510.7 636.3 L508.8 636 L506.9 635.9 L505.1 636.1 L503.5 636.4 L501.9 637 L500.4 637.8 L499.1 638.8 L497.9 640 L496.8 641.4 L495.9 643 L495.1 644.7 L494.5 646.6 L494.1 648.7 L493.8 650.8 L493.7 653.1 L493.8 655.5 L494 658 L494.4 660.6 L495 663.1 L495.7 665.8 L496.6 668.4 L497.7 671 L498.8 673.6 L500.2 676.2 L501.6 678.7 L503.2 681.1 L504.8 683.4 L506.6 685.6 L508.4 687.7 L510.3 689.7 L512.3 691.4 L514.3 693.1 L516.3 694.5 L518.4 695.7 L520.4 696.8 L522.4 697.6 L524.4 698.3" fill="none" stroke="#111" stroke-width="1" clip-path="url(#cp18)"/>
<clipPath id="cp19"><path d="M520.1 707.3 L522.2 705.7 L524.1 703.6 L525.5 701 L526.6 698 L527.2 694.7 L527.4 691 L527.2 687.1 L526.6 683 L525.5 678.8 L524.1 674.6 L522.2 670.4 L520.1 666.3 L517.6 662.4 L514.9 658.7 L511.9 655.3 L508.8 652.3 L505.6 649.7 L502.3 647.5 L499.1 645.9 L495.8 644.8 L492.7 644.2 L489.8 644.2 L487.1 644.7 L484.6 645.8 L482.4 647.4 L480.6 649.5 L479.1 652 L478.1 655 L477.4 658.4 L477.2 662 L477.4 665.9 L478.1 670 L479.1 674.2 L480.6 678.5 L482.4 682.7 L484.6 686.8 L487.1 690.7 L489.8 694.4 L492.7 697.8 L495.8 700.8 L499.1 703.4 L502.3 705.5 L505.6 707.2 L508.8 708.3 L511.9 708.9 L514.9 708.9 L517.6 708.3 L520.1 707.3Z"/></clipPath>
<path d="M534.3 651.1 L532.6 648.9 L530.8 646.7 L528.9 644.7 L527 642.9 L525 641.2 L523 639.7 L521 638.3 L518.9 637.2 L516.9 636.3 L514.9 635.5 L512.9 635 L511 634.7 L509.2 634.6 L507.4 634.8 L505.7 635.1 L504.1 635.7 L502.7 636.5 L501.3 637.5 L500.1 638.7 L499 640.1 L498.1 641.7 L497.4 643.4 L496.8 645.3 L496.3 647.4 L496.1 649.5 L496 651.8 L496 654.2 L496.3 656.7 L496.7 659.3 L497.2 661.8 L498 664.5 L498.9 667.1 L499.9 669.7 L501.1 672.3 L502.4 674.9 L503.9 677.4 L505.4 679.8 L507.1 682.1 L508.8 684.3 L510.7 686.4 L512.6 688.4 L514.5 690.1 L516.5 691.8 L518.6 693.2 L520.6 694.4 L522.6 695.5 L524.7 696.3 L526.7 697" fill="none" stroke="#111" stroke-width="1" clip-path="url(#cp19)"/>
<path d="M547.5 676 C546 671 551 668 556 671.5 L561 675 C564 672 570 671.5 574 674 C578 677 579.5 682 577 686.5 L571 690 C566 691.5 560 690.5 556 687.5 C551 686 548 681 547.5 676Z" fill="#fff" stroke="#111" stroke-width="1.2" stroke-linejoin="round" stroke-linecap="round"/>
<path d="M556 671.5 C560 674 562 679 560.5 684 M574 674 C570.5 677 569.5 683 571 690 M547.5 676 C549 672 553 672 555 676 C556.5 680 553 683 549.5 681" fill="none" stroke="#111" stroke-width="1.1" stroke-linejoin="round" stroke-linecap="round"/>
<path d="M677.4 535 L767.4 483.1 L801.6 542.5 L711.6 594.4Z" fill="#fff" stroke="none"/>
<path d="M677.4 535 L767.4 483.1" fill="none" stroke="#111" stroke-width="1.2"/>
<path d="M711.6 594.4 L801.6 542.5" fill="none" stroke="#111" stroke-width="1.2"/>
<path d="M711.7 594.4 L712.5 593.8 L713.2 593.1 L713.9 592.2 L714.4 591.1 L714.8 590 L715.1 588.7 L715.2 587.3 L715.2 585.8 L715.1 584.3 L714.8 582.7 L714.4 581.1 L713.9 579.5 L713.2 577.8 L712.5 576.2 L711.7 574.6 L710.7 573.1 L709.7 571.7 L708.6 570.3 L707.4 569 L706.2 567.9 L705 566.8 L703.7 566 L702.4 565.2 L701.2 564.7 L699.9 564.2 L698.7 564 L697.6 563.9 L696.5 564 L695.4 564.3 L694.5 564.7 L693.7 565.3 L692.9 566.1 L692.3 567 L691.8 568 L691.4 569.2 L691.1 570.5 L691 571.9 L691 573.3 L691.1 574.9 L691.4 576.4 L691.8 578.1 L692.3 579.7 L692.9 581.3 L693.7 583 L694.5 584.5 L695.4 586.1 L696.5 587.5 L697.6 588.9 L698.7 590.1 L699.9 591.3 L701.2 592.3 L702.4 593.2 L703.7 593.9 L705 594.5 L706.2 594.9 L707.4 595.2 L708.6 595.2 L709.7 595.1 L710.7 594.9 L711.7 594.4Z" fill="#fff" stroke="#111" stroke-width="1.2"/>
<path d="M710.6 592.5 L711.3 592 L711.9 591.3 L712.5 590.6 L712.9 589.7 L713.3 588.6 L713.5 587.5 L713.6 586.3 L713.6 585 L713.5 583.7 L713.3 582.3 L712.9 580.9 L712.5 579.5 L711.9 578.1 L711.3 576.6 L710.6 575.3 L709.7 573.9 L708.8 572.7 L707.9 571.5 L706.9 570.4 L705.8 569.4 L704.7 568.5 L703.6 567.7 L702.5 567.1 L701.4 566.6 L700.3 566.2 L699.3 566 L698.3 565.9 L697.3 566 L696.4 566.3 L695.6 566.6 L694.9 567.2 L694.2 567.8 L693.7 568.6 L693.2 569.5 L692.9 570.5 L692.6 571.6 L692.5 572.8 L692.5 574.1 L692.6 575.5 L692.9 576.8 L693.2 578.3 L693.7 579.7 L694.2 581.1 L694.9 582.5 L695.6 583.9 L696.4 585.2 L697.3 586.5 L698.3 587.7 L699.3 588.8 L700.3 589.8 L701.4 590.7 L702.5 591.5 L703.6 592.1 L704.7 592.6 L705.8 593 L706.9 593.2 L707.9 593.2 L708.8 593.1 L709.7 592.9 L710.6 592.5Z" fill="none" stroke="#111" stroke-width="1.1"/>
<path d="M677.3 535 L676.5 535.6 L675.8 536.4 L675.1 537.3 L674.6 538.3 L674.2 539.5 L673.9 540.8 L673.8 542.2 L673.8 543.6 L673.9 545.2 L674.2 546.7 L674.6 548.4 L675.1 550 L675.8 551.6 L676.5 553.2 L677.3 554.8 L678.3 556.4 L679.3 557.8 L680.4 559.2 L681.6 560.4 L682.8 561.6 L684 562.6 L685.3 563.5 L686.6 564.2 L687.8 564.8 L689.1 565.2 L690.3 565.5 L691.4 565.5 L692.5 565.4 L693.6 565.2 L694.5 564.7" fill="none" stroke="#111" stroke-width="1.2"/>
<path d="M759.4 583.2 L759.7 583.4 L760 583.5 L760.4 583.5 L760.8 583.5 L761.2 583.4 L761.6 583.3 L762 583.1 L762.4 582.8 L762.8 582.6 L763.2 582.2 L763.6 581.8 L764 581.4 L764.4 581 L764.7 580.5 L765 580 L765.3 579.5 L765.5 579 L765.7 578.4 L765.9 577.9 L766 577.4 L766.1 576.9 L766.2 576.4 L766.2 575.9 L766.1 575.4 L766 575 L765.9 574.6 L765.7 574.3 L765.5 574 L765.3 573.7 L765 573.6 L756.8 568.8 L756.5 568.7 L756.1 568.6 L755.8 568.5 L755.4 568.6 L755 568.6 L754.6 568.8 L754.2 569 L753.8 569.2 L753.4 569.5 L752.9 569.8 L752.6 570.2 L752.2 570.6 L751.8 571.1 L751.5 571.5 L751.2 572 L750.9 572.5 L750.7 573.1 L750.4 573.6 L750.3 574.1 L750.1 574.7 L750.1 575.2 L750 575.7 L750 576.2 L750.1 576.6 L750.1 577 L750.3 577.4 L750.4 577.8 L750.7 578.1 L750.9 578.3 L751.2 578.5Z" fill="#fff" stroke="#111" stroke-width="1.2"/>
<path d="M759.4 583.2 L759.7 583.4 L760 583.5 L760.4 583.5 L760.8 583.5 L761.2 583.4 L761.6 583.3 L762 583.1 L762.4 582.8 L762.8 582.6 L763.2 582.2 L763.6 581.8 L764 581.4 L764.4 581 L764.7 580.5 L765 580 L765.3 579.5 L765.5 579 L765.7 578.4 L765.9 577.9 L766 577.4 L766.1 576.9 L766.2 576.4 L766.2 575.9 L766.1 575.4 L766 575 L765.9 574.6 L765.7 574.3 L765.5 574 L765.3 573.7 L765 573.6 L764.7 573.4 L764.4 573.3 L764 573.3 L763.6 573.3 L763.2 573.4 L762.8 573.5 L762.4 573.7 L762 574 L761.6 574.2 L761.2 574.6 L760.8 575 L760.4 575.4 L760 575.8 L759.7 576.3 L759.4 576.8 L759.1 577.3 L758.9 577.8 L758.7 578.4 L758.5 578.9 L758.4 579.4 L758.3 579.9 L758.2 580.4 L758.2 580.9 L758.3 581.4 L758.4 581.8 L758.5 582.2 L758.7 582.5 L758.9 582.8 L759.1 583.1 L759.4 583.2Z" fill="#fff" stroke="#111" stroke-width="1.2"/>
<path d="M760.5 581.3 L760.7 581.4 L760.9 581.5 L761.1 581.5 L761.3 581.5 L761.6 581.4 L761.8 581.4 L762.1 581.2 L762.3 581.1 L762.6 580.9 L762.8 580.7 L763.1 580.5 L763.3 580.2 L763.5 580 L763.7 579.7 L763.9 579.4 L764.1 579.1 L764.2 578.7 L764.3 578.4 L764.4 578.1 L764.5 577.8 L764.6 577.5 L764.6 577.2 L764.6 576.9 L764.6 576.6 L764.5 576.3 L764.4 576.1 L764.3 575.9 L764.2 575.7 L764.1 575.6 L763.9 575.5 L763.7 575.4 L763.5 575.3 L763.3 575.3 L763.1 575.3 L762.8 575.4 L762.6 575.4 L762.3 575.6 L762.1 575.7 L761.8 575.9 L761.6 576.1 L761.3 576.3 L761.1 576.6 L760.9 576.8 L760.7 577.1 L760.5 577.4 L760.3 577.7 L760.2 578.1 L760.1 578.4 L760 578.7 L759.9 579 L759.8 579.3 L759.8 579.6 L759.8 579.9 L759.8 580.2 L759.9 580.5 L760 580.7 L760.1 580.9 L760.2 581.1 L760.3 581.2 L760.5 581.3Z" fill="none" stroke="#111" stroke-width="1"/>
<path d="M883 455.5 L864 443 L856 439 L848 438 L842 440 L837 443 L806 462 L800 470 L815 540 L838.8 522.4 L858 511.6Z" fill="#fff" stroke="none"/>
<path d="M883 455.5 C881.4 454.4 876.7 451.3 873.5 449.2 C870.3 447.1 866.9 444.7 864 443 C861.1 441.3 858.7 440 856 439.2 C853.3 438.4 850.3 437.9 848 438 C845.7 438.1 843.8 439.2 842 440 C840.2 440.8 837.8 442.5 837 443" fill="none" stroke="#111" stroke-width="1.2" stroke-linejoin="round"/>
<line x1="837" y1="443" x2="806" y2="462" stroke="#111" stroke-width="1.2"/>
<line x1="848.5" y1="450.3" x2="818.5" y2="467" stroke="#111" stroke-width="1.2"/>
<path d="M854.5 445.3 C855.2 444.9 857.2 443.6 858.5 443 C859.8 442.4 861.8 442 862.5 441.8" fill="none" stroke="#111" stroke-width="1.2" stroke-linejoin="round"/>
<line x1="871" y1="456.5" x2="831" y2="479.5" stroke="#111" stroke-width="1.2"/>
<line x1="858" y1="511.6" x2="838.8" y2="522.4" stroke="#111" stroke-width="1.2"/>
<path d="M833 446.2 L842.5 440.8 C843.8 440.6 843.8 441.8 843 442.2 L833.8 447.3" fill="none" stroke="#111" stroke-width="1" stroke-linejoin="round" stroke-linecap="round"/>
<path d="M856.7 509.2 L858.3 510 L860.1 510.5 L862 510.6 L864 510.5 L866.1 510.1 L868.2 509.4 L870.4 508.4 L872.6 507.1 L874.8 505.6 L876.9 503.8 L879 501.8 L881 499.6 L882.9 497.3 L884.7 494.8 L886.3 492.1 L887.8 489.4 L889.1 486.6 L890.1 483.8 L891 481 L891.7 478.2 L892.2 475.4 L892.4 472.8 L892.4 470.3 L892.2 467.9 L891.7 465.7 L891 463.7 L890.1 461.9 L889.1 460.3 L887.8 459 L886.3 458 L884.7 457.2 L882.9 456.7 L881 456.6 L879 456.7 L876.9 457.1 L874.8 457.8 L872.6 458.8 L870.4 460.1 L868.2 461.6 L866.1 463.4 L864 465.4 L862 467.6 L860.1 469.9 L858.3 472.4 L856.7 475.1 L855.2 477.8 L853.9 480.6 L852.9 483.4 L852 486.2 L851.3 489 L850.8 491.8 L850.6 494.4 L850.6 496.9 L850.8 499.3 L851.3 501.5 L852 503.5 L852.9 505.3 L853.9 506.9 L855.2 508.2 L856.7 509.2Z" fill="#fff" stroke="#111" stroke-width="1.2"/>
<path d="M889.5 464.4 L888.8 462.4 L887.9 460.6 L886.8 459 L885.5 457.7 L884 456.7 L882.4 455.9 L880.6 455.4 L878.8 455.3 L876.7 455.4 L874.7 455.8 L872.5 456.5 L870.3 457.5 L868.2 458.8 L866 460.3 L863.8 462.1 L861.7 464.1 L859.7 466.3 L857.8 468.6 L856.1 471.1 L854.4 473.8 L853 476.5 L851.7 479.3 L850.6 482.1 L849.7 484.9 L849 487.7 L848.6 490.5 L848.3 493.1 L848.3 495.6 L848.6 498 L849 500.2" fill="none" stroke="#111" stroke-width="1.2"/>
<path d="M861 502.9 L862.2 503.5 L863.5 503.8 L864.9 504 L866.4 503.9 L868 503.6 L869.6 503 L871.2 502.3 L872.8 501.4 L874.4 500.2 L876 498.9 L877.6 497.4 L879.1 495.8 L880.5 494.1 L881.8 492.2 L883 490.2 L884.1 488.2 L885 486.1 L885.9 484 L886.5 481.9 L887 479.9 L887.4 477.8 L887.5 475.9 L887.5 474 L887.4 472.2 L887 470.6 L886.5 469.1 L885.9 467.7 L885 466.6 L884.1 465.6 L883 464.8 L881.8 464.3 L880.5 463.9 L879.1 463.8 L877.6 463.9 L876 464.2 L874.4 464.7 L872.8 465.5 L871.2 466.4 L869.6 467.6 L868 468.9 L866.4 470.3 L864.9 472 L863.5 473.7 L862.2 475.6 L861 477.5 L859.9 479.6 L859 481.6 L858.1 483.7 L857.5 485.8 L857 487.9 L856.6 489.9 L856.5 491.9 L856.5 493.8 L856.6 495.6 L857 497.2 L857.5 498.7 L858.1 500 L859 501.2 L859.9 502.2 L861 502.9Z" fill="none" stroke="#111" stroke-width="1.2"/>
<ellipse cx="852.2" cy="447.6" rx="3" ry="1.7" fill="#fff" stroke="#111" stroke-width="0.9"/>
<line x1="852.2" y1="425.5" x2="852.2" y2="446.5" stroke="#111" stroke-width="1.1"/>
<path d="M849 418.6 L849 424.2 C850.5 425.8 854 425.8 855.6 424.2 L855.6 418.6 C854 417 850.5 417 849 418.6Z" fill="#333" stroke="#111" stroke-width="1.2" stroke-linejoin="round" stroke-linecap="round"/>
<ellipse cx="852.3" cy="418.8" rx="2" ry="1" fill="#fff" stroke="none"/>
<path d="M767.4 483.4 C766 480.7 768.7 482.2 769.8 481 C770.9 479.8 768.9 479.4 774 476.2 C779.1 473 793.2 462.9 800.4 461.8 C807.6 460.7 812.6 466.3 817.2 469.6 C821.8 472.9 825.2 477.8 828 481.6 C830.8 485.4 832.2 488 834 492.4 C835.8 496.8 838.4 503.2 838.8 508 C839.2 512.8 838.4 517.2 836.4 521.2 C834.4 525.2 831.2 528.6 826.8 532 C822.4 535.4 814 540.4 810 541.6 C806 542.9 806.1 543.1 802.8 539.5 C799.5 535.9 794.1 527.1 790 520 C785.9 512.9 781.8 503.1 778 497 C774.2 490.9 768.8 486.1 767.4 483.4Z" fill="#fff" stroke="none"/>
<path d="M767.4 483.4 C769.2 484.4 774.9 487.2 778 489.5 C781.1 491.8 783.1 494.3 786 497.2 C788.9 500.1 792.8 502.8 795.6 506.8 C798.4 510.8 801 516 802.8 521.2 C804.6 526.4 805.8 535.2 806.4 538" fill="none" stroke="#111" stroke-width="1.2" stroke-linejoin="round"/>
<path d="M769.8 481 C771.5 481.8 776.7 483.6 780 485.5 C783.3 487.4 786 489.2 789.6 492.4 C793.2 495.5 798.2 499.6 801.6 504.4 C805 509.2 808 515.8 810 521.2 C812 526.6 813 534.2 813.6 536.8" fill="none" stroke="#111" stroke-width="1.2" stroke-linejoin="round"/>
<path d="M767.4 483.4 L769.8 481 L774 476.2 L800.4 461.8" fill="none" stroke="#111" stroke-width="1.2"/>
<path d="M774 476.2 C776.2 476.6 783 477.2 787 478.5 C791 479.8 794.8 481.8 798 484 C801.2 486.2 803.6 489 806 492 C808.4 495 810.5 498.5 812.4 502 C814.3 505.5 816.3 509.8 817.5 513 C818.7 516.2 819.2 518.5 819.6 521.2 C820 523.9 820 526.6 819.6 529 C819.2 531.4 817.6 534.5 817.2 535.6" fill="none" stroke="#111" stroke-width="1.2" stroke-linejoin="round"/>
<path d="M800.4 461.8 C801.8 462.2 806.2 463.2 809 464.5 C811.8 465.8 814.9 467.9 817.2 469.6 C819.5 471.4 821.2 473 823 475 C824.8 477 826.2 478.7 828 481.6 C829.8 484.5 832.5 489.3 834 492.4 C835.5 495.5 836.5 497.4 837.3 500 C838.1 502.6 838.6 505.5 838.8 508 C839 510.5 839 512.8 838.6 515 C838.2 517.2 837.4 519.2 836.4 521.2 C835.4 523.2 834.1 525.2 832.5 527 C830.9 528.8 830.5 529.6 826.8 532 C823 534.4 812.8 540 810 541.6" fill="none" stroke="#111" stroke-width="1.2" stroke-linejoin="round"/>
<path d="M802.8 539.5 C803.2 540 804 541.9 805 542.5 C806 543.1 807.6 543.4 809 543 C810.4 542.6 812.8 540.5 813.6 540" fill="none" stroke="#111" stroke-width="1.1" stroke-linejoin="round"/>
<ellipse cx="807.8" cy="538.6" rx="1.6" ry="1" fill="none" stroke="#111" stroke-width="0.7"/>
<ellipse cx="811.5" cy="536.6" rx="1.2" ry="0.8" fill="none" stroke="#111" stroke-width="0.7"/>
<path d="M916.2 532 L917.3 532.5 L918.5 532.8 L919.7 533 L921 532.9 L922.4 532.6 L923.8 532.1 L925.3 531.5 L926.7 530.6 L928.2 529.6 L929.6 528.5 L931 527.1 L932.3 525.7 L933.5 524.1 L934.7 522.5 L935.8 520.7 L936.8 518.9 L937.6 517.1 L938.3 515.2 L938.9 513.3 L939.4 511.5 L939.7 509.7 L939.8 507.9 L939.8 506.2 L939.7 504.7 L939.4 503.2 L938.9 501.9 L938.3 500.7 L937.6 499.6 L936.8 498.8 L935.8 498.1 L913.6 485.3 L912.6 484.8 L911.4 484.5 L910.1 484.4 L908.8 484.5 L907.4 484.7 L906 485.2 L904.6 485.9 L903.1 486.7 L901.7 487.7 L900.2 488.9 L898.9 490.2 L897.5 491.6 L896.3 493.2 L895.1 494.9 L894 496.6 L893.1 498.4 L892.2 500.3 L891.5 502.1 L890.9 504 L890.4 505.9 L890.1 507.7 L890 509.4 L890 511.1 L890.1 512.7 L890.4 514.1 L890.9 515.5 L891.5 516.7 L892.2 517.7 L893.1 518.6 L894 519.2Z" fill="#fff" stroke="#111" stroke-width="1.2"/>
<path d="M916.2 532 L917.3 532.5 L918.5 532.8 L919.7 533 L921 532.9 L922.4 532.6 L923.8 532.1 L925.3 531.5 L926.7 530.6 L928.2 529.6 L929.6 528.5 L931 527.1 L932.3 525.7 L933.5 524.1 L934.7 522.5 L935.8 520.7 L936.8 518.9 L937.6 517.1 L938.3 515.2 L938.9 513.3 L939.4 511.5 L939.7 509.7 L939.8 507.9 L939.8 506.2 L939.7 504.7 L939.4 503.2 L938.9 501.9 L938.3 500.7 L937.6 499.6 L936.8 498.8 L935.8 498.1 L934.7 497.6 L933.5 497.3 L932.3 497.2 L931 497.3 L929.6 497.5 L928.2 498 L926.7 498.7 L925.3 499.5 L923.8 500.5 L922.4 501.7 L921 503 L919.7 504.4 L918.5 506 L917.3 507.7 L916.2 509.4 L915.2 511.2 L914.4 513.1 L913.7 514.9 L913.1 516.8 L912.6 518.7 L912.3 520.5 L912.2 522.2 L912.2 523.9 L912.3 525.5 L912.6 526.9 L913.1 528.3 L913.7 529.5 L914.4 530.5 L915.2 531.4 L916.2 532Z" fill="#fff" stroke="#111" stroke-width="1.2"/>
<path d="M927.8 493.5 L926.8 492.9 L925.7 492.5 L924.4 492.2 L923.1 492.2 L921.8 492.3 L920.4 492.7 L918.9 493.3 L917.5 494 L916 494.9 L914.5 496 L913.1 497.3 L911.8 498.6 L910.4 500.2 L909.2 501.8 L908.1 503.5 L907 505.3 L906.1 507.2 L905.3 509 L904.7 510.9 L904.1 512.8 L903.8 514.7 L903.5 516.5 L903.5 518.2 L903.6 519.8 L903.8 521.4 L904.2 522.8 L904.8 524 L905.4 525.1 L906.3 526.1 L907.2 526.8 L908.2 527.4" fill="none" stroke="#111" stroke-width="2"/>
<path d="M925.5 492.2 L924.5 491.6 L923.4 491.2 L922.2 490.9 L920.9 490.9 L919.5 491 L918.1 491.4 L916.7 492 L915.2 492.7 L913.7 493.6 L912.3 494.7 L910.9 496 L909.5 497.3 L908.2 498.9 L907 500.5 L905.8 502.2 L904.8 504 L903.9 505.9 L903.1 507.7 L902.4 509.6 L901.9 511.5 L901.5 513.4 L901.3 515.2 L901.2 516.9 L901.3 518.5 L901.6 520.1 L902 521.5 L902.5 522.7 L903.2 523.8 L904 524.8 L904.9 525.5 L906 526.1" fill="none" stroke="#111" stroke-width="2"/>
<path d="M917.6 529.6 L918.5 530 L919.5 530.3 L920.6 530.4 L921.7 530.3 L922.9 530.1 L924.1 529.7 L925.4 529.1 L926.6 528.4 L927.9 527.5 L929.1 526.5 L930.3 525.4 L931.4 524.2 L932.5 522.8 L933.5 521.4 L934.4 519.9 L935.2 518.4 L936 516.8 L936.6 515.2 L937.1 513.6 L937.5 512 L937.7 510.4 L937.9 508.9 L937.9 507.5 L937.7 506.1 L937.5 504.9 L937.1 503.7 L936.6 502.7 L936 501.8 L935.2 501.1 L934.4 500.5 L933.5 500.1 L932.5 499.8 L931.4 499.7 L930.3 499.8 L929.1 500 L927.9 500.4 L926.6 501 L925.4 501.7 L924.1 502.6 L922.9 503.6 L921.7 504.7 L920.6 506 L919.5 507.3 L918.5 508.7 L917.6 510.2 L916.8 511.8 L916 513.3 L915.4 514.9 L914.9 516.6 L914.5 518.1 L914.3 519.7 L914.1 521.2 L914.1 522.6 L914.3 524 L914.5 525.2 L914.9 526.4 L915.4 527.4 L916 528.3 L916.8 529 L917.6 529.6Z" fill="none" stroke="#111" stroke-width="1.2"/>
<path d="M945.7 549.3 L946.8 549.8 L948 550.1 L949.2 550.2 L950.6 550.1 L952 549.9 L953.4 549.4 L954.9 548.7 L956.3 547.9 L957.8 546.9 L959.2 545.7 L960.6 544.4 L962 542.9 L963.2 541.3 L964.4 539.6 L965.5 537.9 L966.5 536 L967.3 534.2 L968.1 532.3 L968.7 530.4 L969.1 528.5 L969.4 526.7 L969.6 524.9 L969.6 523.2 L969.4 521.6 L969.1 520.2 L968.7 518.8 L968.1 517.6 L967.3 516.6 L966.5 515.7 L965.5 515 L964.4 514.5 L963.2 514.2 L962 514.1 L960.6 514.2 L959.2 514.4 L957.8 514.9 L956.3 515.6 L954.9 516.4 L953.4 517.5 L952 518.6 L950.6 520 L949.2 521.4 L948 523 L946.8 524.7 L945.7 526.4 L944.7 528.3 L943.9 530.1 L943.1 532 L942.5 533.9 L942.1 535.8 L941.8 537.6 L941.6 539.4 L941.6 541.1 L941.8 542.7 L942.1 544.1 L942.5 545.5 L943.1 546.7 L943.9 547.7 L944.7 548.6 L945.7 549.3Z" fill="none" stroke="#111" stroke-width="1.2"/>
<path d="M946.9 547.2 L947.9 547.7 L948.9 547.9 L950 548 L951.2 548 L952.4 547.7 L953.7 547.3 L955 546.7 L956.2 546 L957.5 545.1 L958.8 544 L960 542.9 L961.2 541.6 L962.3 540.2 L963.3 538.7 L964.3 537.2 L965.2 535.6 L965.9 533.9 L966.6 532.3 L967.1 530.6 L967.5 529 L967.8 527.4 L967.9 525.8 L967.9 524.3 L967.8 522.9 L967.5 521.6 L967.1 520.4 L966.6 519.4 L965.9 518.5 L965.2 517.7 L964.3 517.1 L963.3 516.6 L962.3 516.4 L961.2 516.3 L960 516.3 L958.8 516.6 L957.5 517 L956.2 517.6 L955 518.3 L953.7 519.2 L952.4 520.3 L951.2 521.4 L950 522.7 L948.9 524.1 L947.9 525.6 L946.9 527.1 L946 528.7 L945.3 530.4 L944.6 532 L944.1 533.7 L943.7 535.3 L943.4 536.9 L943.3 538.5 L943.3 540 L943.4 541.4 L943.7 542.7 L944.1 543.9 L944.6 544.9 L945.3 545.9 L946 546.6 L946.9 547.2Z" fill="none" stroke="#111" stroke-width="1.2"/>
<clipPath id="cp20"><path d="M946.9 547.2 L948.1 547.8 L949.4 548 L950.9 548 L952.4 547.7 L954 547.2 L955.6 546.4 L957.2 545.3 L958.8 544 L960.3 542.6 L961.8 540.9 L963.1 539.1 L964.3 537.2 L965.4 535.2 L966.3 533.1 L967 531 L967.5 529 L967.8 527 L967.9 525.1 L967.8 523.3 L967.5 521.6 L967 520.2 L966.3 518.9 L965.4 517.9 L964.3 517.1 L963.1 516.6 L961.8 516.3 L960.3 516.3 L958.8 516.6 L957.2 517.1 L955.6 517.9 L954 519 L952.4 520.3 L950.9 521.7 L949.4 523.4 L948.1 525.2 L946.9 527.1 L945.8 529.1 L944.9 531.2 L944.2 533.3 L943.7 535.3 L943.4 537.3 L943.3 539.3 L943.4 541.1 L943.7 542.7 L944.2 544.2 L944.9 545.4 L945.8 546.4 L946.9 547.2Z"/></clipPath>
<path d="M945.2 546.2 L946.4 546.8 L947.7 547 L949.2 547 L950.7 546.7 L952.3 546.2 L953.9 545.4 L955.5 544.3 L957.1 543 L958.6 541.6 L960 539.9 L961.4 538.1 L962.6 536.2 L963.6 534.2 L964.5 532.1 L965.2 530 L965.8 528 L966.1 526 L966.2 524.1 L966.1 522.3 L965.8 520.6 L965.2 519.2 L964.5 517.9 L963.6 516.9 L962.6 516.1 L961.4 515.6 L960 515.3 L958.6 515.3 L957.1 515.6 L955.5 516.1 L953.9 516.9 L952.3 518 L950.7 519.3 L949.2 520.7 L947.7 522.4 L946.4 524.2 L945.2 526.1 L944.1 528.1 L943.2 530.2 L942.5 532.3 L942 534.3 L941.7 536.3 L941.6 538.3 L941.7 540.1 L942 541.7 L942.5 543.2 L943.2 544.4 L944.1 545.4 L945.2 546.2" fill="none" stroke="#111" stroke-width="1" clip-path="url(#cp20)"/>
<path d="M782.8 454.8 L783.9 455.3 L785 455.6 L786.3 455.7 L787.6 455.6 L788.9 455.3 L790.4 454.9 L791.8 454.2 L793.2 453.4 L794.6 452.4 L796.1 451.2 L797.4 449.9 L798.7 448.5 L800 447 L801.1 445.3 L802.2 443.6 L803.2 441.8 L804 440 L804.7 438.1 L805.3 436.3 L805.8 434.4 L806 432.6 L806.2 430.9 L806.2 429.3 L806 427.7 L805.8 426.2 L805.3 424.9 L804.7 423.7 L804 422.7 L803.2 421.9 L802.2 421.2 L801.1 420.7 L800 420.4 L798.7 420.3 L797.4 420.4 L796.1 420.6 L794.6 421.1 L793.2 421.8 L791.8 422.6 L790.4 423.6 L788.9 424.7 L787.6 426 L786.3 427.5 L785 429 L783.9 430.7 L782.8 432.4 L781.8 434.2 L781 436 L780.3 437.9 L779.7 439.7 L779.2 441.5 L779 443.3 L778.8 445.1 L778.8 446.7 L779 448.3 L779.2 449.7 L779.7 451.1 L780.3 452.2 L781 453.3 L781.8 454.1 L782.8 454.8Z" fill="none" stroke="#111" stroke-width="2.7"/>
<path d="M783.9 452.9 L784.8 453.3 L785.9 453.6 L787 453.7 L788.1 453.6 L789.4 453.4 L790.6 453 L791.9 452.4 L793.1 451.6 L794.4 450.8 L795.6 449.7 L796.9 448.6 L798 447.3 L799.1 445.9 L800.2 444.5 L801.1 443 L802 441.4 L802.7 439.7 L803.3 438.1 L803.9 436.5 L804.2 434.8 L804.5 433.3 L804.6 431.7 L804.6 430.2 L804.5 428.9 L804.2 427.6 L803.9 426.4 L803.3 425.4 L802.7 424.5 L802 423.7 L801.1 423.1 L800.2 422.7 L799.1 422.4 L798 422.3 L796.9 422.4 L795.6 422.6 L794.4 423 L793.1 423.6 L791.9 424.3 L790.6 425.2 L789.4 426.2 L788.1 427.4 L787 428.7 L785.9 430 L784.8 431.5 L783.9 433 L783 434.6 L782.3 436.2 L781.7 437.9 L781.1 439.5 L780.8 441.1 L780.5 442.7 L780.4 444.3 L780.4 445.7 L780.5 447.1 L780.8 448.4 L781.1 449.6 L781.7 450.6 L782.3 451.5 L783 452.3 L783.9 452.9Z" fill="none" stroke="#111" stroke-width="1"/>
<line x1="775" y1="427.9" x2="818.5" y2="453" stroke="#111" stroke-width="1.2"/>
<line x1="872.5" y1="484.2" x2="890" y2="494.3" stroke="#111" stroke-width="1.2"/>
<line x1="926" y1="515.1" x2="970" y2="540.5" stroke="#111" stroke-width="1.2"/>
<line x1="808.4" y1="543.4" x2="810.8" y2="553.6" stroke="#111" stroke-width="1.1"/>
<path d="M824.5 569.5 C826 565.5 831 564.5 834 567.5 C837 571 836.8 578 834 581.5 C832 583.5 829 583 827.5 581 Z" fill="#fff" stroke="#111" stroke-width="1.2" stroke-linejoin="round" stroke-linecap="round"/>
<path d="M829.5 566.8 C832.5 569.5 832.5 578 830 582.3" fill="none" stroke="#111" stroke-width="1.1" stroke-linejoin="round" stroke-linecap="round"/>
<line x1="831.5" y1="568" x2="835.2" y2="569.2" stroke="#111" stroke-width="0.9"/>
<line x1="831.5" y1="570.8" x2="835.2" y2="572" stroke="#111" stroke-width="0.9"/>
<line x1="831.5" y1="573.6" x2="835.2" y2="574.8" stroke="#111" stroke-width="0.9"/>
<line x1="831.5" y1="576.4" x2="835.2" y2="577.6" stroke="#111" stroke-width="0.9"/>
<line x1="831.5" y1="579.2" x2="835.2" y2="580.4" stroke="#111" stroke-width="0.9"/>
<path d="M801.8 575.2 L815 580.6 L828 572.2 L829.4 586.6 L816.8 593.8 L805.4 589.6Z" fill="#fff" stroke="#111" stroke-width="1.2" stroke-linejoin="round" stroke-linecap="round"/>
<path d="M815 580.6 L816.8 593.8" fill="none" stroke="#111" stroke-width="1.2" stroke-linejoin="round" stroke-linecap="round"/>
<path d="M801.8 575.2 L812 569.5 L828 572.2" fill="#fff" stroke="#111" stroke-width="1.2" stroke-linejoin="round" stroke-linecap="round"/>
<path d="M804 567.5 L804.6 573.5 L810.5 576.5 L818.8 575 L822.5 571.5 L822.3 565.8 L818 568.5 L810.2 569.8Z" fill="#fff" stroke="#111" stroke-width="1.2" stroke-linejoin="round" stroke-linecap="round"/>
<path d="M810.2 569.8 L810.5 576.5 M818 568.5 L818.8 575" fill="none" stroke="#111" stroke-width="1" stroke-linejoin="round" stroke-linecap="round"/>
<path d="M804.8 556 L805.6 568 C808 570.3 815 570.3 818.2 568 L818.4 556Z" fill="#fff" stroke="#111" stroke-width="1.2" stroke-linejoin="round" stroke-linecap="round"/>
<path d="M805 559.2 C808 561.4 815 561.4 818.4 559.2" fill="none" stroke="#111" stroke-width="1.1" stroke-linejoin="round" stroke-linecap="round"/>
<path d="M805 561.8 C808 564 815 564 818.4 561.8" fill="none" stroke="#111" stroke-width="1.1" stroke-linejoin="round" stroke-linecap="round"/>
<path d="M805 564.4 C808 566.6 815 566.6 818.4 564.4" fill="none" stroke="#111" stroke-width="1.1" stroke-linejoin="round" stroke-linecap="round"/>
<path d="M805 567 C808 569.2 815 569.2 818.4 567" fill="none" stroke="#111" stroke-width="1.1" stroke-linejoin="round" stroke-linecap="round"/>
<ellipse cx="811.6" cy="556" rx="6.8" ry="3.2" fill="#fff" stroke="#111" stroke-width="1"/>
<ellipse cx="811.6" cy="556.2" rx="4.6" ry="2" fill="none" stroke="#111" stroke-width="0.8"/>
<path d="M177.8 839.6 L176.8 840.4 L175.8 841.3 L175.1 842.4 L174.4 843.7 L174 845.1 L173.6 846.7 L173.5 848.4 L173.5 850.2 L173.6 852 L174 854 L174.4 856 L175.1 858 L175.8 860 L176.8 862 L177.8 863.9 L179 865.8 L180.2 867.5 L181.6 869.2 L183 870.8 L184.5 872.2 L186 873.4 L187.5 874.5 L189.1 875.4 L190.6 876.1 L192.1 876.6 L193.6 876.9 L195 877 L196.4 876.9 L197.6 876.6 L198.8 876 L222.4 862.4 L223.5 861.6 L224.4 860.7 L225.2 859.6 L225.8 858.3 L226.3 856.9 L226.6 855.3 L226.8 853.6 L226.8 851.8 L226.6 850 L226.3 848 L225.8 846 L225.2 844 L224.4 842 L223.5 840.1 L222.4 838.1 L221.3 836.3 L220 834.5 L218.7 832.8 L217.3 831.2 L215.8 829.8 L214.3 828.6 L212.7 827.5 L211.2 826.6 L209.6 825.9 L208.1 825.4 L206.6 825.1 L205.2 825 L203.9 825.1 L202.6 825.5 L201.4 826Z" fill="#fff" stroke="#111" stroke-width="1.2"/>
<path d="M198.8 876 L199.8 875.3 L200.8 874.4 L201.5 873.3 L202.2 872 L202.6 870.6 L203 869 L203.1 867.3 L203.1 865.5 L203 863.6 L202.6 861.7 L202.2 859.7 L201.5 857.7 L200.8 855.7 L199.8 853.7 L198.8 851.8 L197.6 849.9 L196.4 848.1 L195 846.4 L193.6 844.9 L192.1 843.5 L190.6 842.2 L189.1 841.2 L187.5 840.3 L186 839.6 L184.5 839.1 L183 838.8 L181.6 838.7 L180.2 838.8 L179 839.1 L177.8 839.6 L176.8 840.4 L175.8 841.3 L175.1 842.4 L174.4 843.7 L174 845.1 L173.6 846.7 L173.5 848.4 L173.5 850.2 L173.6 852 L174 854 L174.4 856 L175.1 858 L175.8 860 L176.8 862 L177.8 863.9 L179 865.8 L180.2 867.5 L181.6 869.2 L183 870.8 L184.5 872.2 L186 873.4 L187.5 874.5 L189.1 875.4 L190.6 876.1 L192.1 876.6 L193.6 876.9 L195 877 L196.4 876.9 L197.6 876.6 L198.8 876Z" fill="#fff" stroke="#111" stroke-width="1.2"/>
<path d="M198 874.6 L199 874 L199.8 873.1 L200.5 872.1 L201.1 870.9 L201.6 869.6 L201.8 868.1 L202 866.6 L202 864.9 L201.8 863.2 L201.6 861.4 L201.1 859.6 L200.5 857.7 L199.8 855.9 L199 854 L198 852.2 L196.9 850.5 L195.8 848.9 L194.5 847.3 L193.2 845.9 L191.9 844.6 L190.4 843.4 L189 842.4 L187.6 841.6 L186.2 841 L184.7 840.5 L183.4 840.2 L182.1 840.1 L180.8 840.2 L179.7 840.5 L178.6 841 L177.6 841.7 L176.8 842.6 L176.1 843.6 L175.5 844.8 L175 846.1 L174.8 847.5 L174.6 849.1 L174.6 850.8 L174.8 852.5 L175 854.3 L175.5 856.1 L176.1 858 L176.8 859.8 L177.6 861.6 L178.6 863.4 L179.7 865.2 L180.8 866.8 L182.1 868.4 L183.4 869.8 L184.7 871.1 L186.2 872.2 L187.6 873.2 L189 874.1 L190.4 874.7 L191.9 875.2 L193.2 875.5 L194.5 875.5 L195.8 875.4 L196.9 875.1 L198 874.6Z" fill="none" stroke="#111" stroke-width="1.2"/>
<path d="M196.1 871.3 L196.9 870.8 L197.6 870.1 L198.1 869.3 L198.6 868.3 L199 867.3 L199.2 866.1 L199.3 864.9 L199.3 863.5 L199.2 862.1 L199 860.7 L198.6 859.2 L198.1 857.7 L197.6 856.2 L196.9 854.8 L196.1 853.3 L195.2 851.9 L194.3 850.6 L193.3 849.4 L192.3 848.2 L191.2 847.2 L190 846.3 L188.9 845.4 L187.7 844.8 L186.6 844.3 L185.4 843.9 L184.3 843.7 L183.3 843.6 L182.3 843.7 L181.4 843.9 L180.5 844.3 L179.7 844.9 L179 845.6 L178.5 846.4 L178 847.3 L177.6 848.4 L177.4 849.6 L177.3 850.8 L177.3 852.1 L177.4 853.5 L177.6 855 L178 856.5 L178.5 857.9 L179 859.4 L179.7 860.9 L180.5 862.3 L181.4 863.7 L182.3 865 L183.3 866.3 L184.3 867.4 L185.4 868.5 L186.6 869.4 L187.7 870.2 L188.9 870.9 L190 871.4 L191.2 871.8 L192.3 872 L193.3 872.1 L194.3 872 L195.2 871.7 L196.1 871.3Z" fill="#fff" stroke="#111" stroke-width="1.2"/>
<clipPath id="cp21"><path d="M196.1 871.3 L197.1 870.6 L197.9 869.7 L198.5 868.6 L199 867.3 L199.2 865.8 L199.3 864.2 L199.2 862.5 L199 860.7 L198.5 858.8 L197.9 857 L197.1 855.1 L196.1 853.3 L195 851.6 L193.8 850 L192.5 848.5 L191.2 847.2 L189.7 846 L188.3 845.1 L186.9 844.4 L185.4 843.9 L184.1 843.6 L182.8 843.6 L181.6 843.9 L180.5 844.3 L179.5 845 L178.7 846 L178.1 847.1 L177.6 848.4 L177.4 849.9 L177.3 851.5 L177.4 853.2 L177.6 855 L178.1 856.8 L178.7 858.7 L179.5 860.5 L180.5 862.3 L181.6 864.1 L182.8 865.7 L184.1 867.2 L185.4 868.5 L186.9 869.6 L188.3 870.6 L189.7 871.3 L191.2 871.8 L192.5 872 L193.8 872.1 L195 871.8 L196.1 871.3Z"/></clipPath>
<path d="M202.5 866.5 L203.4 865.8 L204.2 865 L204.8 863.9 L205.2 862.7 L205.5 861.3 L205.6 859.8 L205.5 858.2 L205.2 856.5 L204.8 854.8 L204.2 853 L203.4 851.3 L202.5 849.6 L201.5 848 L200.4 846.5 L199.2 845.1 L197.9 843.9 L196.6 842.8 L195.2 841.9 L193.9 841.2 L192.6 840.8 L191.3 840.5 L190.1 840.5 L188.9 840.7 L187.9 841.2 L187 841.8 L186.3 842.7 L185.7 843.8 L185.3 845 L185 846.4 L184.9 847.9 L185 849.5 L185.3 851.2 L185.7 852.9 L186.3 854.6 L187 856.4 L187.9 858 L188.9 859.7 L190.1 861.2 L191.3 862.6 L192.6 863.8 L193.9 864.9 L195.2 865.8 L196.6 866.4 L197.9 866.9 L199.2 867.1 L200.4 867.1 L201.5 866.9 L202.5 866.5" fill="none" stroke="#111" stroke-width="1.2" clip-path="url(#cp21)"/>
<path d="M243 800.2 L241.9 801 L240.9 802 L240.1 803.2 L239.4 804.6 L238.9 806.1 L238.6 807.8 L238.4 809.6 L238.4 811.5 L238.6 813.5 L238.9 815.6 L239.4 817.7 L240.1 819.9 L240.9 822 L241.9 824.2 L243 826.2 L244.3 828.2 L245.6 830.1 L247.1 831.9 L248.6 833.6 L250.2 835.1 L251.8 836.4 L253.5 837.6 L255.1 838.6 L256.8 839.3 L258.4 839.9 L260 840.2 L261.5 840.3 L263 840.1 L264.3 839.8 L265.5 839.2 L280.6 830.6 L281.7 829.8 L282.6 828.8 L283.5 827.6 L284.2 826.2 L284.7 824.7 L285 823 L285.2 821.2 L285.2 819.3 L285 817.3 L284.7 815.2 L284.2 813.1 L283.5 810.9 L282.6 808.8 L281.7 806.6 L280.6 804.6 L279.3 802.6 L278 800.7 L276.5 798.9 L275 797.2 L273.4 795.7 L271.8 794.4 L270.1 793.2 L268.5 792.2 L266.8 791.5 L265.2 790.9 L263.6 790.6 L262.1 790.5 L260.6 790.7 L259.3 791 L258.1 791.6Z" fill="#fff" stroke="#111" stroke-width="1.2"/>
<path d="M274.3 834.1 L275.3 833.1 L276.1 832 L276.8 830.6 L277.4 829.1 L277.8 827.5 L278 825.7 L278 823.8 L277.8 821.8 L277.5 819.7 L277 817.6 L276.4 815.4 L275.6 813.3 L274.6 811.2 L273.5 809.1 L272.3 807.1" fill="none" stroke="#111" stroke-width="1" stroke-dasharray="2.5 2"/>
<path d="M225.7 800.2 L224.2 801.3 L222.8 802.7 L221.6 804.3 L220.7 806.2 L220 808.3 L219.5 810.7 L219.3 813.2 L219.3 815.8 L219.5 818.6 L220 821.5 L220.7 824.5 L221.6 827.5 L222.8 830.4 L224.2 833.4 L225.7 836.2 L227.4 839 L229.3 841.7 L231.3 844.2 L233.4 846.5 L235.6 848.5 L237.8 850.4 L240.1 852 L242.5 853.3 L244.8 854.4 L247 855.1 L249.2 855.6 L251.3 855.7 L253.3 855.5 L255.2 855 L256.9 854.3 L269.9 846.8 L271.4 845.7 L272.8 844.3 L273.9 842.6 L274.9 840.8 L275.6 838.6 L276.1 836.3 L276.3 833.8 L276.3 831.1 L276.1 828.3 L275.6 825.4 L274.9 822.5 L273.9 819.5 L272.8 816.5 L271.4 813.6 L269.9 810.7 L268.2 808 L266.3 805.3 L264.3 802.8 L262.2 800.5 L260 798.4 L257.7 796.6 L255.4 795 L253.1 793.6 L250.8 792.6 L248.6 791.8 L246.4 791.4 L244.3 791.3 L242.3 791.4 L240.4 791.9 L238.7 792.7Z" fill="#fff" stroke="#111" stroke-width="1.2"/>
<path d="M256.9 854.3 L258.4 853.2 L259.8 851.8 L261 850.1 L261.9 848.3 L262.6 846.1 L263.1 843.8 L263.3 841.3 L263.3 838.6 L263.1 835.8 L262.6 832.9 L261.9 830 L261 827 L259.8 824 L258.4 821.1 L256.9 818.2 L255.2 815.5 L253.3 812.8 L251.3 810.3 L249.2 808 L247 805.9 L244.8 804.1 L242.5 802.5 L240.1 801.1 L237.8 800.1 L235.6 799.3 L233.4 798.9 L231.3 798.8 L229.3 798.9 L227.4 799.4 L225.7 800.2 L224.2 801.3 L222.8 802.7 L221.6 804.3 L220.7 806.2 L220 808.3 L219.5 810.7 L219.3 813.2 L219.3 815.8 L219.5 818.6 L220 821.5 L220.7 824.5 L221.6 827.5 L222.8 830.4 L224.2 833.4 L225.7 836.2 L227.4 839 L229.3 841.7 L231.3 844.2 L233.4 846.5 L235.6 848.5 L237.8 850.4 L240.1 852 L242.5 853.3 L244.8 854.4 L247 855.1 L249.2 855.6 L251.3 855.7 L253.3 855.5 L255.2 855 L256.9 854.3Z" fill="#fff" stroke="#111" stroke-width="1.2"/>
<path d="M255 854.5 L256.9 854 L258.6 853.3 L260.2 852.2 L261.5 850.8 L262.7 849.1 L263.6 847.3 L264.3 845.1 L264.8 842.8 L265.1 840.3 L265.1 837.6 L264.8 834.8 L264.3 831.9 L263.6 829 L262.7 826 L261.5 823 L260.2 820.1 L258.6 817.2 L256.9 814.5 L255 811.8 L253 809.3 L250.9 807 L248.7 804.9 L246.5 803.1 L244.2 801.5 L241.9 800.1 L239.6 799.1 L237.3 798.3 L235.1 797.9 L233 797.8 L231 797.9 L229.1 798.4 L227.4 799.2 L225.9 800.3 L224.5 801.7" fill="none" stroke="#111" stroke-width="1.1"/>
<path d="M256.3 853.8 L258.2 853.3 L259.9 852.5 L261.5 851.4 L262.8 850 L264 848.4 L264.9 846.5 L265.6 844.4 L266.1 842.1 L266.4 839.5 L266.4 836.9 L266.1 834.1 L265.6 831.2 L264.9 828.2 L264 825.3 L262.8 822.3 L261.5 819.4 L259.9 816.5 L258.2 813.7 L256.3 811.1 L254.3 808.6 L252.2 806.3 L250 804.2 L247.8 802.3 L245.5 800.7 L243.2 799.4 L240.9 798.3 L238.6 797.6 L236.4 797.1 L234.3 797 L232.3 797.2 L230.4 797.7 L228.7 798.5 L227.2 799.6 L225.8 800.9" fill="none" stroke="#111" stroke-width="1.1"/>
<path d="M258.9 852.3 L260.8 851.8 L262.5 851 L264.1 849.9 L265.4 848.5 L266.6 846.9 L267.5 845 L268.2 842.9 L268.7 840.6 L269 838 L269 835.4 L268.7 832.6 L268.2 829.7 L267.5 826.7 L266.6 823.8 L265.4 820.8 L264.1 817.9 L262.5 815 L260.8 812.2 L258.9 809.6 L256.9 807.1 L254.8 804.8 L252.6 802.7 L250.4 800.8 L248.1 799.2 L245.8 797.9 L243.5 796.8 L241.2 796.1 L239 795.6 L236.9 795.5 L234.9 795.7 L233 796.2 L231.3 797 L229.8 798.1 L228.4 799.4" fill="none" stroke="#111" stroke-width="1.1"/>
<path d="M260.2 851.5 L262.1 851 L263.8 850.3 L265.4 849.2 L266.7 847.8 L267.9 846.1 L268.8 844.3 L269.5 842.1 L270 839.8 L270.3 837.3 L270.3 834.6 L270 831.8 L269.5 828.9 L268.8 826 L267.9 823 L266.7 820 L265.4 817.1 L263.8 814.2 L262.1 811.5 L260.2 808.8 L258.2 806.3 L256.1 804 L253.9 801.9 L251.7 800.1 L249.4 798.5 L247.1 797.1 L244.8 796.1 L242.5 795.3 L240.3 794.9 L238.2 794.8 L236.2 794.9 L234.3 795.4 L232.6 796.2 L231.1 797.3 L229.7 798.7" fill="none" stroke="#111" stroke-width="1.1"/>
<path d="M262.8 850 L264.7 849.5 L266.4 848.8 L268 847.7 L269.3 846.3 L270.5 844.6 L271.4 842.8 L272.1 840.6 L272.6 838.3 L272.9 835.8 L272.9 833.1 L272.6 830.3 L272.1 827.4 L271.4 824.5 L270.5 821.5 L269.3 818.5 L268 815.6 L266.4 812.7 L264.7 810 L262.8 807.3 L260.8 804.8 L258.7 802.5 L256.5 800.4 L254.3 798.6 L252 797 L249.7 795.6 L247.4 794.6 L245.1 793.8 L242.9 793.4 L240.8 793.3 L238.8 793.4 L236.9 793.9 L235.2 794.7 L233.7 795.8 L232.3 797.2" fill="none" stroke="#111" stroke-width="1.1"/>
<path d="M264.1 849.3 L266 848.8 L267.7 848 L269.3 846.9 L270.6 845.5 L271.8 843.9 L272.7 842 L273.4 839.9 L273.9 837.6 L274.2 835 L274.2 832.4 L273.9 829.6 L273.4 826.7 L272.7 823.7 L271.8 820.8 L270.6 817.8 L269.3 814.9 L267.7 812 L266 809.2 L264.1 806.6 L262.1 804.1 L260 801.8 L257.8 799.7 L255.6 797.8 L253.3 796.2 L251 794.9 L248.7 793.8 L246.4 793.1 L244.2 792.6 L242.1 792.5 L240.1 792.7 L238.2 793.2 L236.5 794 L235 795.1 L233.6 796.4" fill="none" stroke="#111" stroke-width="1.1"/>
<path d="M248.7 840.1 L249.4 839.5 L250.1 838.9 L250.6 838.1 L251.1 837.2 L251.4 836.2 L251.6 835.1 L251.8 833.9 L251.8 832.6 L251.6 831.3 L251.4 829.9 L251.1 828.5 L250.6 827.1 L250.1 825.7 L249.4 824.3 L248.7 823 L247.9 821.6 L247 820.4 L246.1 819.2 L245.1 818.1 L244 817.1 L242.9 816.2 L241.8 815.5 L240.8 814.9 L239.7 814.4 L238.6 814 L237.5 813.8 L236.5 813.7 L235.6 813.8 L234.7 814 L233.9 814.4 L233.2 814.9 L232.5 815.6 L232 816.4 L231.5 817.3 L231.2 818.3 L231 819.4 L230.8 820.6 L230.8 821.8 L231 823.2 L231.2 824.5 L231.5 825.9 L232 827.3 L232.5 828.7 L233.2 830.1 L233.9 831.5 L234.7 832.8 L235.6 834.1 L236.5 835.3 L237.5 836.4 L238.6 837.3 L239.7 838.2 L240.8 839 L241.8 839.6 L242.9 840.1 L244 840.5 L245.1 840.7 L246.1 840.7 L247 840.7 L247.9 840.4 L248.7 840.1Z" fill="#fff" stroke="#111" stroke-width="1.2"/>
<clipPath id="cp22"><path d="M248.7 840.1 L249.6 839.4 L250.4 838.5 L251 837.4 L251.4 836.2 L251.7 834.8 L251.8 833.3 L251.7 831.6 L251.4 829.9 L251 828.2 L250.4 826.4 L249.6 824.7 L248.7 823 L247.7 821.3 L246.5 819.8 L245.3 818.4 L244 817.1 L242.7 816 L241.3 815.2 L239.9 814.5 L238.6 814 L237.3 813.8 L236.1 813.7 L234.9 814 L233.9 814.4 L233 815.1 L232.2 816 L231.6 817 L231.2 818.3 L230.9 819.7 L230.8 821.2 L230.9 822.8 L231.2 824.5 L231.6 826.3 L232.2 828 L233 829.8 L233.9 831.5 L234.9 833.1 L236.1 834.7 L237.3 836.1 L238.6 837.3 L239.9 838.4 L241.3 839.3 L242.7 840 L244 840.5 L245.3 840.7 L246.5 840.7 L247.7 840.5 L248.7 840.1Z"/></clipPath>
<path d="M252.1 836 L252.9 835.4 L253.6 834.6 L254.1 833.7 L254.5 832.6 L254.7 831.4 L254.8 830 L254.7 828.6 L254.5 827.1 L254.1 825.6 L253.6 824 L252.9 822.5 L252.1 821 L251.2 819.5 L250.2 818.2 L249.1 817 L248 815.9 L246.8 814.9 L245.6 814.1 L244.4 813.5 L243.3 813.1 L242.1 812.9 L241 812.9 L240 813.1 L239.1 813.5 L238.3 814.1 L237.7 814.8 L237.1 815.8 L236.8 816.9 L236.5 818.1 L236.4 819.4 L236.5 820.9 L236.8 822.4 L237.1 823.9 L237.7 825.4 L238.3 827 L239.1 828.5 L240 829.9 L241 831.3 L242.1 832.5 L243.3 833.6 L244.4 834.6 L245.6 835.3 L246.8 836 L248 836.4 L249.1 836.6 L250.2 836.6 L251.2 836.4 L252.1 836" fill="none" stroke="#111" stroke-width="1.2" clip-path="url(#cp22)"/>
<ellipse cx="264.3" cy="796.8" rx="2.8" ry="1.5" fill="#fff" stroke="#111" stroke-width="0.9"/>
<line x1="264.3" y1="767" x2="264.3" y2="796" stroke="#111" stroke-width="1.1"/>
<circle cx="264.3" cy="776.8" r="2.2" fill="#fff" stroke="#111" stroke-width="0.9"/>
<ellipse cx="264.5" cy="767.5" rx="4.2" ry="1.6" fill="#fff" stroke="#111" stroke-width="0.9"/>
<ellipse cx="264.5" cy="765.4" rx="4.2" ry="1.6" fill="#fff" stroke="#111" stroke-width="0.9"/>
<ellipse cx="264.5" cy="763.3" rx="4.2" ry="1.6" fill="#fff" stroke="#111" stroke-width="0.9"/>
<ellipse cx="264.5" cy="761.2" rx="4.2" ry="1.6" fill="#fff" stroke="#111" stroke-width="0.9"/>
<ellipse cx="264.5" cy="759.1" rx="4.2" ry="1.6" fill="#fff" stroke="#111" stroke-width="0.9"/>
<path d="M318.2 818 L319.8 817 L321.1 815.6 L322.2 814 L323.1 812.2 L323.8 810.1 L324.3 807.8 L324.5 805.4 L324.5 802.7 L324.3 800 L323.8 797.2 L323.1 794.3 L322.2 791.4 L321.1 788.5 L319.8 785.6 L318.2 782.8 L316.6 780.1 L314.7 777.5 L312.8 775.1 L310.7 772.8 L308.6 770.8 L306.4 769 L304.1 767.4 L301.9 766.1 L299.6 765.1 L297.4 764.3 L295.3 763.9 L293.2 763.8 L291.3 763.9 L289.4 764.4 L287.8 765.2 L286.2 766.3 L284.9 767.6 L283.8 769.2 L282.9 771.1 L282.2 773.1 L281.7 775.4 L281.5 777.9 L281.5 780.5 L281.7 783.2 L282.2 786 L282.9 788.9 L283.8 791.8 L284.9 794.7 L286.2 797.6 L287.8 800.4 L289.4 803.1 L291.3 805.7 L293.2 808.1 L295.3 810.4 L297.4 812.4 L299.6 814.3 L301.9 815.8 L304.1 817.1 L306.4 818.2 L308.6 818.9 L310.7 819.3 L312.8 819.5 L314.7 819.3 L316.6 818.8 L318.2 818Z" fill="none" stroke="#111" stroke-width="1.8"/>
<path d="M317.4 816.5 L318.8 815.5 L320 814.2 L321.1 812.7 L321.9 810.9 L322.6 809 L323 806.9 L323.3 804.5 L323.3 802.1 L323 799.5 L322.6 796.9 L321.9 794.2 L321.1 791.4 L320 788.7 L318.8 786 L317.4 783.3 L315.8 780.8 L314.1 778.3 L312.2 776.1 L310.3 773.9 L308.3 772 L306.2 770.3 L304.1 768.8 L301.9 767.6 L299.8 766.6 L297.7 765.9 L295.7 765.5 L293.8 765.4 L291.9 765.6 L290.2 766 L288.6 766.8 L287.2 767.8 L286 769 L284.9 770.5 L284.1 772.3 L283.4 774.2 L283 776.4 L282.7 778.7 L282.7 781.1 L283 783.7 L283.4 786.4 L284.1 789.1 L284.9 791.8 L286 794.5 L287.2 797.3 L288.6 799.9 L290.2 802.5 L291.9 804.9 L293.8 807.2 L295.7 809.3 L297.7 811.2 L299.8 812.9 L301.9 814.4 L304.1 815.6 L306.2 816.6 L308.3 817.3 L310.3 817.7 L312.2 817.8 L314.1 817.6 L315.8 817.2 L317.4 816.5Z" fill="none" stroke="#111" stroke-width="1"/>
<path d="M354.4 795.7 L355.8 794.7 L357.1 793.4 L358.1 791.8 L359 790.1 L359.7 788.1 L360.1 785.9 L360.4 783.5 L360.4 781.1 L360.1 778.4 L359.7 775.7 L359 773 L358.1 770.2 L357.1 767.4 L355.8 764.7 L354.4 762 L352.7 759.4 L351 756.9 L349.1 754.6 L347.1 752.4 L345.1 750.5 L343 748.7 L340.8 747.2 L338.7 746 L336.5 745 L334.4 744.3 L332.4 743.9 L330.4 743.7 L328.5 743.9 L326.8 744.4 L325.1 745.1 L323.7 746.1 L322.4 747.4 L321.4 748.9 L320.5 750.7 L319.8 752.7 L319.4 754.9 L319.1 757.2 L319.1 759.7 L319.4 762.4 L319.8 765.1 L320.5 767.8 L321.4 770.6 L322.4 773.4 L323.7 776.1 L325.1 778.8 L326.8 781.4 L328.5 783.9 L330.4 786.2 L332.4 788.4 L334.4 790.3 L336.5 792.1 L338.7 793.6 L340.8 794.8 L343 795.8 L345.1 796.5 L347.1 796.9 L349.1 797.1 L351 796.9 L352.7 796.4 L354.4 795.7Z" fill="none" stroke="#111" stroke-width="1.2"/>
<path d="M353.1 793.4 L354.4 792.5 L355.5 791.3 L356.5 789.9 L357.3 788.3 L357.9 786.5 L358.3 784.5 L358.5 782.4 L358.5 780.1 L358.3 777.7 L357.9 775.3 L357.3 772.8 L356.5 770.2 L355.5 767.7 L354.4 765.2 L353.1 762.7 L351.6 760.4 L350 758.1 L348.3 756 L346.5 754 L344.6 752.2 L342.7 750.6 L340.7 749.3 L338.8 748.1 L336.8 747.2 L334.9 746.6 L333 746.2 L331.2 746.1 L329.5 746.3 L327.9 746.7 L326.4 747.4 L325.1 748.3 L324 749.5 L323 750.9 L322.2 752.5 L321.6 754.3 L321.2 756.3 L321 758.4 L321 760.7 L321.2 763.1 L321.6 765.5 L322.2 768 L323 770.6 L324 773.1 L325.1 775.6 L326.4 778.1 L327.9 780.4 L329.5 782.7 L331.2 784.8 L333 786.8 L334.9 788.6 L336.8 790.1 L338.8 791.5 L340.7 792.7 L342.7 793.5 L344.6 794.2 L346.5 794.6 L348.3 794.7 L350 794.5 L351.6 794.1 L353.1 793.4Z" fill="none" stroke="#111" stroke-width="1.2"/>
<clipPath id="cp23"><path d="M353.1 793.4 L354.7 792.2 L356 790.7 L357.1 788.7 L357.9 786.5 L358.4 784 L358.6 781.3 L358.4 778.3 L357.9 775.3 L357.1 772.1 L356 768.9 L354.7 765.8 L353.1 762.7 L351.2 759.8 L349.2 757 L346.9 754.5 L344.6 752.2 L342.2 750.3 L339.8 748.7 L337.3 747.4 L334.9 746.6 L332.6 746.2 L330.3 746.2 L328.3 746.6 L326.4 747.4 L324.8 748.6 L323.5 750.1 L322.4 752.1 L321.6 754.3 L321.1 756.8 L320.9 759.5 L321.1 762.5 L321.6 765.5 L322.4 768.7 L323.5 771.9 L324.8 775 L326.4 778.1 L328.3 781 L330.3 783.8 L332.6 786.3 L334.9 788.6 L337.3 790.5 L339.8 792.1 L342.2 793.3 L344.6 794.2 L346.9 794.6 L349.2 794.6 L351.2 794.2 L353.1 793.4Z"/></clipPath>
<path d="M355.2 792.2 L356.8 791 L358.2 789.4 L359.3 787.5 L360.1 785.3 L360.6 782.7 L360.7 780 L360.6 777.1 L360.1 774 L359.3 770.9 L358.2 767.7 L356.8 764.5 L355.2 761.5 L353.4 758.5 L351.3 755.8 L349.1 753.2 L346.8 751 L344.4 749 L341.9 747.4 L339.5 746.2 L337 745.4 L334.7 744.9 L332.5 744.9 L330.5 745.3 L328.6 746.1 L327 747.3 L325.6 748.9 L324.5 750.8 L323.7 753 L323.3 755.5 L323.1 758.3 L323.3 761.2 L323.7 764.3 L324.5 767.4 L325.6 770.6 L327 773.8 L328.6 776.8 L330.5 779.8 L332.5 782.5 L334.7 785.1 L337 787.3 L339.5 789.3 L341.9 790.9 L344.4 792.1 L346.8 792.9 L349.1 793.4 L351.3 793.4 L353.4 793 L355.2 792.2" fill="none" stroke="#111" stroke-width="1.2" clip-path="url(#cp23)"/>
<path d="M393.6 775.4 L395.2 774.3 L396.6 772.9 L397.7 771.3 L398.7 769.4 L399.4 767.3 L399.9 764.9 L400.1 762.4 L400.1 759.7 L399.9 756.9 L399.4 754 L398.7 751.1 L397.7 748.1 L396.6 745.1 L395.2 742.2 L393.6 739.3 L391.9 736.5 L390.1 733.8 L388 731.3 L385.9 729 L383.7 726.9 L381.5 725.1 L379.2 723.5 L376.8 722.1 L374.5 721.1 L372.3 720.3 L370.1 719.9 L368 719.7 L365.9 719.9 L364.1 720.4 L362.4 721.2 L360.8 722.3 L359.4 723.7 L358.3 725.3 L357.3 727.2 L356.6 729.4 L356.1 731.7 L355.9 734.2 L355.9 736.9 L356.1 739.7 L356.6 742.6 L357.3 745.5 L358.3 748.5 L359.4 751.5 L360.8 754.5 L362.4 757.3 L364.1 760.1 L365.9 762.8 L368 765.3 L370.1 767.6 L372.3 769.7 L374.5 771.6 L376.8 773.2 L379.2 774.5 L381.5 775.6 L383.7 776.3 L385.9 776.7 L388 776.9 L390.1 776.7 L391.9 776.2 L393.6 775.4Z" fill="none" stroke="#111" stroke-width="1.8"/>
<path d="M392.8 773.9 L394.2 772.8 L395.5 771.5 L396.6 770 L397.5 768.2 L398.1 766.2 L398.6 764 L398.8 761.6 L398.8 759.1 L398.6 756.4 L398.1 753.7 L397.5 750.9 L396.6 748.1 L395.5 745.3 L394.2 742.5 L392.8 739.8 L391.1 737.2 L389.4 734.7 L387.5 732.3 L385.5 730.1 L383.4 728.2 L381.3 726.4 L379.1 724.9 L376.9 723.6 L374.7 722.6 L372.6 721.9 L370.5 721.5 L368.5 721.4 L366.6 721.6 L364.9 722 L363.2 722.8 L361.8 723.8 L360.5 725.1 L359.4 726.6 L358.5 728.4 L357.9 730.4 L357.4 732.6 L357.2 735 L357.2 737.5 L357.4 740.2 L357.9 742.9 L358.5 745.7 L359.4 748.5 L360.5 751.3 L361.8 754.1 L363.2 756.8 L364.9 759.5 L366.6 762 L368.5 764.3 L370.5 766.5 L372.6 768.5 L374.7 770.2 L376.9 771.7 L379.1 773 L381.3 774 L383.4 774.7 L385.5 775.1 L387.5 775.2 L389.4 775.1 L391.1 774.6 L392.8 773.9Z" fill="none" stroke="#111" stroke-width="1"/>
<path d="M412.2 741.8 L412.8 741.4 L413.3 740.9 L413.7 740.3 L414.1 739.6 L414.4 738.8 L414.5 738 L414.6 737 L414.6 736.1 L414.5 735 L414.4 734 L414.1 732.9 L413.7 731.8 L413.3 730.7 L412.8 729.6 L412.2 728.5 L411.6 727.5 L410.9 726.5 L410.2 725.6 L409.4 724.8 L408.6 724 L407.8 723.3 L406.9 722.7 L406.1 722.2 L405.2 721.8 L404.4 721.6 L403.6 721.4 L402.8 721.4 L402.1 721.4 L401.4 721.6 L400.8 721.9 L400.2 722.3 L399.7 722.8 L399.3 723.4 L398.9 724.1 L398.6 724.9 L398.5 725.8 L398.4 726.7 L398.4 727.7 L398.5 728.7 L398.6 729.8 L398.9 730.8 L399.3 731.9 L399.7 733 L400.2 734.1 L400.8 735.2 L401.4 736.2 L402.1 737.2 L402.8 738.1 L403.6 738.9 L404.4 739.7 L405.2 740.4 L406.1 741 L406.9 741.5 L407.8 741.9 L408.6 742.1 L409.4 742.3 L410.2 742.4 L410.9 742.3 L411.6 742.1 L412.2 741.8Z" fill="none" stroke="#111" stroke-width="1.5"/>
<path d="M411.3 740.2 L411.8 739.8 L412.2 739.4 L412.5 738.9 L412.8 738.3 L413.1 737.7 L413.2 737 L413.3 736.2 L413.3 735.4 L413.2 734.5 L413.1 733.6 L412.8 732.7 L412.5 731.8 L412.2 730.9 L411.8 730 L411.3 729.1 L410.8 728.2 L410.2 727.4 L409.6 726.7 L408.9 725.9 L408.3 725.3 L407.6 724.7 L406.9 724.2 L406.1 723.8 L405.4 723.5 L404.7 723.3 L404.1 723.1 L403.4 723.1 L402.8 723.1 L402.2 723.3 L401.7 723.5 L401.2 723.9 L400.8 724.3 L400.5 724.8 L400.2 725.4 L399.9 726 L399.8 726.8 L399.7 727.5 L399.7 728.4 L399.8 729.2 L399.9 730.1 L400.2 731 L400.5 731.9 L400.8 732.8 L401.2 733.7 L401.7 734.6 L402.2 735.5 L402.8 736.3 L403.4 737.1 L404.1 737.8 L404.7 738.4 L405.4 739 L406.1 739.5 L406.9 739.9 L407.6 740.2 L408.3 740.4 L408.9 740.6 L409.6 740.6 L410.2 740.6 L410.8 740.4 L411.3 740.2Z" fill="none" stroke="#111" stroke-width="1.2"/>
<path d="M427.2 732.1 L427.7 731.8 L428.2 731.3 L428.6 730.8 L428.9 730.1 L429.1 729.4 L429.3 728.6 L429.4 727.7 L429.4 726.8 L429.3 725.9 L429.1 724.9 L428.9 723.9 L428.6 722.9 L428.2 721.9 L427.7 720.9 L427.2 719.9 L426.6 719 L426 718.1 L425.3 717.2 L424.6 716.4 L423.8 715.7 L423.1 715.1 L422.3 714.5 L421.5 714.1 L420.7 713.7 L420 713.5 L419.2 713.3 L418.5 713.3 L417.8 713.4 L417.2 713.5 L416.6 713.8 L416.1 714.2 L415.6 714.6 L415.2 715.2 L414.9 715.8 L414.7 716.5 L414.5 717.3 L414.4 718.2 L414.4 719.1 L414.5 720 L414.7 721 L414.9 722 L415.2 723 L415.6 724.1 L416.1 725 L416.6 726 L417.2 727 L417.8 727.9 L418.5 728.7 L419.2 729.5 L420 730.2 L420.7 730.8 L421.5 731.4 L422.3 731.8 L423.1 732.2 L423.8 732.4 L424.6 732.6 L425.3 732.6 L426 732.6 L426.6 732.4 L427.2 732.1Z" fill="none" stroke="#111" stroke-width="2.4"/>
<path d="M430.5 703.3 L429.9 703.8 L429.4 704.3 L428.9 705 L428.5 705.7 L428.2 706.6 L428 707.6 L427.9 708.6 L427.9 709.7 L428 710.8 L428.2 712 L428.5 713.2 L428.9 714.4 L429.4 715.6 L429.9 716.8 L430.5 718 L431.2 719.1 L432 720.2 L432.8 721.2 L433.7 722.1 L434.6 723 L435.5 723.7 L436.4 724.4 L437.4 724.9 L438.3 725.4 L439.2 725.7 L440.1 725.8 L441 725.9 L441.8 725.8 L442.6 725.6 L443.2 725.3 L455.6 718.2 L456.3 717.7 L456.8 717.2 L457.3 716.5 L457.7 715.7 L458 714.8 L458.2 713.9 L458.3 712.9 L458.3 711.8 L458.2 710.7 L458 709.5 L457.7 708.3 L457.3 707.1 L456.8 705.9 L456.3 704.7 L455.6 703.5 L454.9 702.4 L454.2 701.3 L453.4 700.3 L452.5 699.3 L451.6 698.5 L450.7 697.7 L449.8 697.1 L448.8 696.5 L447.9 696.1 L447 695.8 L446.1 695.6 L445.2 695.6 L444.4 695.6 L443.6 695.8 L442.9 696.2Z" fill="#fff" stroke="#111" stroke-width="1.2"/>
<path d="M443.2 725.3 L443.9 724.9 L444.4 724.3 L444.9 723.6 L445.3 722.9 L445.6 722 L445.8 721 L445.9 720 L445.9 718.9 L445.8 717.8 L445.6 716.6 L445.3 715.4 L444.9 714.2 L444.4 713 L443.9 711.8 L443.2 710.6 L442.6 709.5 L441.8 708.4 L441 707.4 L440.1 706.5 L439.2 705.6 L438.3 704.9 L437.4 704.2 L436.4 703.7 L435.5 703.3 L434.6 702.9 L433.7 702.8 L432.8 702.7 L432 702.8 L431.2 703 L430.5 703.3 L429.9 703.8 L429.4 704.3 L428.9 705 L428.5 705.7 L428.2 706.6 L428 707.6 L427.9 708.6 L427.9 709.7 L428 710.8 L428.2 712 L428.5 713.2 L428.9 714.4 L429.4 715.6 L429.9 716.8 L430.5 718 L431.2 719.1 L432 720.2 L432.8 721.2 L433.7 722.1 L434.6 723 L435.5 723.7 L436.4 724.4 L437.4 724.9 L438.3 725.4 L439.2 725.7 L440.1 725.8 L441 725.9 L441.8 725.8 L442.6 725.6 L443.2 725.3Z" fill="#fff" stroke="#111" stroke-width="1.2"/>
<path d="M441.9 723 L442.4 722.6 L442.8 722.2 L443.2 721.7 L443.5 721 L443.7 720.4 L443.9 719.6 L444 718.8 L444 718 L443.9 717.1 L443.7 716.1 L443.5 715.2 L443.2 714.2 L442.8 713.3 L442.4 712.3 L441.9 711.4 L441.3 710.5 L440.8 709.7 L440.1 708.9 L439.4 708.1 L438.7 707.5 L438 706.9 L437.3 706.4 L436.5 705.9 L435.8 705.6 L435.1 705.4 L434.4 705.2 L433.7 705.2 L433 705.2 L432.5 705.4 L431.9 705.6 L431.4 706 L431 706.4 L430.6 707 L430.3 707.6 L430.1 708.2 L429.9 709 L429.8 709.8 L429.8 710.7 L429.9 711.6 L430.1 712.5 L430.3 713.4 L430.6 714.4 L431 715.3 L431.4 716.3 L431.9 717.2 L432.5 718.1 L433 718.9 L433.7 719.7 L434.4 720.5 L435.1 721.1 L435.8 721.7 L436.5 722.2 L437.3 722.7 L438 723 L438.7 723.2 L439.4 723.4 L440.1 723.4 L440.8 723.4 L441.3 723.2 L441.9 723Z" fill="#fff" stroke="#111" stroke-width="1.2"/>
<clipPath id="cp24"><path d="M441.9 723 L442.5 722.5 L443 721.9 L443.4 721.2 L443.7 720.4 L443.9 719.4 L444 718.4 L443.9 717.3 L443.7 716.1 L443.4 715 L443 713.8 L442.5 712.6 L441.9 711.4 L441.2 710.3 L440.4 709.3 L439.6 708.3 L438.7 707.5 L437.8 706.7 L436.9 706.1 L436 705.7 L435.1 705.4 L434.2 705.2 L433.4 705.2 L432.6 705.3 L431.9 705.6 L431.3 706.1 L430.8 706.7 L430.4 707.4 L430.1 708.2 L429.9 709.2 L429.8 710.2 L429.9 711.3 L430.1 712.5 L430.4 713.7 L430.8 714.9 L431.3 716 L431.9 717.2 L432.6 718.3 L433.4 719.3 L434.2 720.3 L435.1 721.1 L436 721.9 L436.9 722.5 L437.8 722.9 L438.7 723.2 L439.6 723.4 L440.4 723.4 L441.2 723.3 L441.9 723Z"/></clipPath>
<path d="M454 716 L454.6 715.5 L455.1 714.9 L455.6 714.2 L455.9 713.4 L456 712.4 L456.1 711.4 L456 710.3 L455.9 709.1 L455.6 708 L455.1 706.8 L454.6 705.6 L454 704.4 L453.3 703.3 L452.6 702.3 L451.7 701.3 L450.9 700.5 L449.9 699.7 L449 699.1 L448.1 698.7 L447.2 698.4 L446.3 698.2 L445.5 698.2 L444.7 698.3 L444 698.6 L443.4 699.1 L442.9 699.7 L442.5 700.4 L442.2 701.2 L442 702.2 L442 703.2 L442 704.3 L442.2 705.5 L442.5 706.7 L442.9 707.9 L443.4 709 L444 710.2 L444.7 711.3 L445.5 712.3 L446.3 713.3 L447.2 714.1 L448.1 714.9 L449 715.5 L449.9 715.9 L450.9 716.2 L451.7 716.4 L452.6 716.4 L453.3 716.3 L454 716" fill="none" stroke="#111" stroke-width="1.2" clip-path="url(#cp24)"/>
<path d="M463 686.8 L462.2 686.7 L461.4 686.6 L460.7 686.7 L460 686.8 L459.3 687.1 L458.7 687.5 L458.2 687.9 L457.7 688.5 L457.4 689.2 L457 689.9 L456.8 690.7 L456.7 691.6 L456.6 692.6 L456.6 693.6 L456.7 694.6 L456.9 695.7 L457.2 696.8 L457.6 697.9 L458 699 L458.5 700.1 L459 701.2 L459.7 702.3 L460.4 703.3 L461.1 704.2 L461.9 705.1 L462.7 705.9 L463.5 706.6 L464.3 707.3 L465.2 707.8 L466.1 708.3 L465.9 706.5 L465.2 706.1 L464.5 705.7 L463.8 705.1 L463.1 704.5 L462.4 703.8 L461.8 703.1 L461.2 702.3 L460.6 701.5 L460.1 700.6 L459.6 699.7 L459.2 698.8 L458.9 697.9 L458.6 697 L458.4 696.1 L458.2 695.2 L458.1 694.3 L458.1 693.5 L458.1 692.7 L458.3 692 L458.5 691.3 L458.7 690.7 L459 690.1 L459.4 689.6 L459.9 689.2 L460.4 688.9 L460.9 688.7 L461.5 688.6 L462.1 688.5 L462.8 688.6 L463.4 688.7Z" fill="#fff" stroke="#111" stroke-width="1.2"/>
<path d="M469.2 708 L470 708.2 L470.8 708.3 L471.5 708.2 L472.2 708.1 L472.9 707.8 L473.5 707.4 L474 707 L474.5 706.4 L474.8 705.7 L475.2 705 L475.4 704.1 L475.5 703.3 L475.6 702.3 L475.6 701.3 L475.5 700.2 L475.3 699.2 L475 698.1 L474.6 697 L474.2 695.9 L473.7 694.8 L473.2 693.7 L472.5 692.6 L471.8 691.6 L471.1 690.7 L470.3 689.8 L469.5 689 L468.7 688.3 L467.9 687.6 L467 687.1 L466.1 686.6 L466.3 688.4 L467 688.8 L467.7 689.2 L468.4 689.8 L469.1 690.4 L469.8 691 L470.4 691.8 L471 692.6 L471.6 693.4 L472.1 694.3 L472.6 695.1 L473 696.1 L473.3 697 L473.6 697.9 L473.8 698.8 L474 699.7 L474.1 700.6 L474.1 701.4 L474.1 702.2 L473.9 702.9 L473.7 703.6 L473.5 704.2 L473.2 704.8 L472.8 705.3 L472.3 705.7 L471.8 706 L471.3 706.2 L470.7 706.3 L470.1 706.4 L469.4 706.3 L468.8 706.2Z" fill="#fff" stroke="#111" stroke-width="1.2"/>
<line x1="960" y1="156" x2="939.9" y2="167.6" stroke="#111" stroke-width="1.2"/>
<line x1="924.4" y1="176.6" x2="900.5" y2="190.4" stroke="#111" stroke-width="1.2"/>
<line x1="864" y1="211.4" x2="838.7" y2="226" stroke="#111" stroke-width="1.2"/>
<line x1="826" y1="233.4" x2="813.6" y2="240.5" stroke="#111" stroke-width="1.2"/>
<line x1="800.5" y1="248.1" x2="789.9" y2="254.2" stroke="#111" stroke-width="1.2"/>
<line x1="770.5" y1="265.4" x2="756.4" y2="273.6" stroke="#111" stroke-width="1.2"/>
<line x1="742.4" y1="281.6" x2="722.8" y2="293" stroke="#111" stroke-width="1.2"/>
<line x1="707.8" y1="301.6" x2="687.5" y2="313.3" stroke="#111" stroke-width="1.2"/>
<line x1="671.2" y1="322.7" x2="646.5" y2="337" stroke="#111" stroke-width="1.2"/>
<line x1="592.5" y1="368.2" x2="568.1" y2="382.3" stroke="#111" stroke-width="1.2"/>
<line x1="557.1" y1="388.6" x2="541.2" y2="397.8" stroke="#111" stroke-width="1.2"/>
<line x1="520.2" y1="409.9" x2="504.4" y2="419" stroke="#111" stroke-width="1.2"/>
<line x1="490" y1="427.4" x2="474.8" y2="436.1" stroke="#111" stroke-width="1.2"/>
<line x1="457" y1="446.4" x2="439.2" y2="456.7" stroke="#111" stroke-width="1.2"/>
<line x1="424" y1="465.5" x2="409" y2="474.1" stroke="#111" stroke-width="1.2"/>
<line x1="164.5" y1="871.6" x2="188.3" y2="857.8" stroke="#111" stroke-width="1.2"/>
<line x1="222.6" y1="838" x2="241.3" y2="827.2" stroke="#111" stroke-width="1.2"/>
<line x1="280.7" y1="804.5" x2="303" y2="791.6" stroke="#111" stroke-width="1.2"/>
<line x1="318.3" y1="782.8" x2="339.8" y2="770.4" stroke="#111" stroke-width="1.2"/>
<line x1="354.4" y1="761.9" x2="378" y2="748.3" stroke="#111" stroke-width="1.2"/>
<line x1="393.7" y1="739.2" x2="406.5" y2="731.9" stroke="#111" stroke-width="1.2"/>
<line x1="412.3" y1="728.5" x2="421.9" y2="723" stroke="#111" stroke-width="1.2"/>
<line x1="427.3" y1="719.8" x2="440" y2="712.5" stroke="#111" stroke-width="1.2"/>
<line x1="455.8" y1="703.4" x2="467.5" y2="696.6" stroke="#111" stroke-width="1.2"/>
<line x1="472.5" y1="693.8" x2="510" y2="672.1" stroke="#111" stroke-width="1.2"/>
<line x1="965" y1="185" x2="958.8" y2="223.8" stroke="#111" stroke-width="1.2"/>
<line x1="928.8" y1="206.2" x2="922.5" y2="247.5" stroke="#111" stroke-width="1.2"/>
<line x1="888.8" y1="232.5" x2="885" y2="270" stroke="#111" stroke-width="1.2"/>
<line x1="813.8" y1="257.5" x2="824.5" y2="295" stroke="#111" stroke-width="1.2"/>
<line x1="833.8" y1="245" x2="824.5" y2="295" stroke="#111" stroke-width="1.2"/>
<line x1="801.2" y1="198.8" x2="781.2" y2="245" stroke="#111" stroke-width="1.2"/>
<line x1="748.8" y1="220" x2="735.5" y2="256.2" stroke="#111" stroke-width="1.2"/>
<line x1="692" y1="242.5" x2="701.8" y2="275" stroke="#111" stroke-width="1.2"/>
<line x1="635" y1="262.5" x2="656.2" y2="293.8" stroke="#111" stroke-width="1.2"/>
<line x1="582.5" y1="286.2" x2="600" y2="326.2" stroke="#111" stroke-width="1.2"/>
<line x1="568.8" y1="406.2" x2="603.8" y2="428.8" stroke="#111" stroke-width="1.2"/>
<line x1="537" y1="426.2" x2="557" y2="453" stroke="#111" stroke-width="1.2"/>
<line x1="503" y1="447.5" x2="515" y2="483.8" stroke="#111" stroke-width="1.2"/>
<line x1="468.8" y1="468" x2="468.8" y2="506.2" stroke="#111" stroke-width="1.2"/>
<line x1="427.5" y1="485" x2="411.2" y2="528.8" stroke="#111" stroke-width="1.2"/>
<line x1="877.5" y1="408.8" x2="856.2" y2="420" stroke="#111" stroke-width="1.2"/>
<line x1="932" y1="456.2" x2="926.2" y2="492.5" stroke="#111" stroke-width="1.2"/>
<line x1="965.5" y1="482" x2="957.5" y2="515" stroke="#111" stroke-width="1.2"/>
<line x1="755" y1="462.5" x2="777.5" y2="451.2" stroke="#111" stroke-width="1.2"/>
<line x1="831.2" y1="586.2" x2="858.8" y2="592.5" stroke="#111" stroke-width="1.2"/>
<line x1="75" y1="587.5" x2="57.5" y2="612.5" stroke="#111" stroke-width="1.2"/>
<line x1="131.2" y1="701.2" x2="102.5" y2="727.5" stroke="#111" stroke-width="1.2"/>
<line x1="172.5" y1="722.5" x2="147.5" y2="750" stroke="#111" stroke-width="1.2"/>
<line x1="207.5" y1="612.5" x2="232.5" y2="638.2" stroke="#111" stroke-width="1.2"/>
<line x1="195" y1="797.5" x2="197" y2="826.2" stroke="#111" stroke-width="1.2"/>
<line x1="251.2" y1="763.8" x2="262.5" y2="775" stroke="#111" stroke-width="1.2"/>
<line x1="286.2" y1="737.5" x2="270" y2="757.5" stroke="#111" stroke-width="1.2"/>
<line x1="328.8" y1="712.5" x2="333.8" y2="744.5" stroke="#111" stroke-width="1.2"/>
<line x1="366.2" y1="693.8" x2="401.2" y2="725" stroke="#111" stroke-width="1.2"/>
<line x1="400" y1="673.8" x2="417.5" y2="713.8" stroke="#111" stroke-width="1.2"/>
<line x1="433.8" y1="653.8" x2="437.5" y2="697.5" stroke="#111" stroke-width="1.2"/>
<line x1="463.8" y1="633.8" x2="464.5" y2="687.5" stroke="#111" stroke-width="1.2"/>
<line x1="472.5" y1="707.5" x2="484.2" y2="746.2" stroke="#111" stroke-width="1.2"/>
<line x1="325" y1="808.8" x2="382.5" y2="817" stroke="#111" stroke-width="1.2"/>
<line x1="386.2" y1="776.2" x2="382.5" y2="817" stroke="#111" stroke-width="1.2"/>
<line x1="281.2" y1="828" x2="312.5" y2="840" stroke="#111" stroke-width="1.2"/>
<line x1="627.5" y1="646.2" x2="647.5" y2="677.5" stroke="#111" stroke-width="1.2"/>
<line x1="181" y1="170" x2="195" y2="196" stroke="#111" stroke-width="1.2"/>
<ellipse cx="178" cy="157.5" rx="19.4" ry="11" fill="#bcd8f3"/>
<text x="178" y="166" font-size="23.7" text-anchor="middle" fill="#0e2352">010</text>
<ellipse cx="803.5" cy="187.5" rx="19.4" ry="11" fill="#bcd8f3"/>
<text x="803.5" y="196" font-size="23.7" text-anchor="middle" fill="#0e2352">262</text>
<ellipse cx="750" cy="207.5" rx="19.4" ry="11" fill="#bcd8f3"/>
<text x="750" y="216" font-size="23.7" text-anchor="middle" fill="#0e2352">120</text>
<ellipse cx="696" cy="229" rx="19.4" ry="11" fill="#bcd8f3"/>
<text x="696" y="237.5" font-size="23.7" text-anchor="middle" fill="#0e2352">130</text>
<ellipse cx="635" cy="249" rx="19.4" ry="11" fill="#bcd8f3"/>
<text x="635" y="257.5" font-size="23.7" text-anchor="middle" fill="#0e2352">140</text>
<ellipse cx="577.5" cy="275" rx="19.4" ry="11" fill="#bcd8f3"/>
<text x="577.5" y="283.5" font-size="23.7" text-anchor="middle" fill="#0e2352">060</text>
<ellipse cx="825" cy="309" rx="19.4" ry="11" fill="#bcd8f3"/>
<text x="825" y="317.5" font-size="23.7" text-anchor="middle" fill="#0e2352">260</text>
<ellipse cx="885" cy="282.5" rx="19.4" ry="11" fill="#bcd8f3"/>
<text x="885" y="291" font-size="23.7" text-anchor="middle" fill="#0e2352">250</text>
<ellipse cx="922.5" cy="261" rx="19.4" ry="11" fill="#bcd8f3"/>
<text x="922.5" y="269.5" font-size="23.7" text-anchor="middle" fill="#0e2352">145</text>
<ellipse cx="960" cy="237.5" rx="19.4" ry="11" fill="#bcd8f3"/>
<text x="960" y="246" font-size="23.7" text-anchor="middle" fill="#0e2352">120</text>
<ellipse cx="615" cy="443.5" rx="19.4" ry="11" fill="#bcd8f3"/>
<text x="615" y="452" font-size="23.7" text-anchor="middle" fill="#0e2352">080</text>
<ellipse cx="564" cy="468.5" rx="19.4" ry="11" fill="#bcd8f3"/>
<text x="564" y="477" font-size="23.7" text-anchor="middle" fill="#0e2352">070</text>
<ellipse cx="521.6" cy="497.2" rx="19.4" ry="11" fill="#bcd8f3"/>
<text x="521.6" y="505.7" font-size="23.7" text-anchor="middle" fill="#0e2352">090</text>
<ellipse cx="897.5" cy="395" rx="19.4" ry="11" fill="#bcd8f3"/>
<text x="897.5" y="403.5" font-size="23.7" text-anchor="middle" fill="#0e2352">270</text>
<ellipse cx="932.5" cy="445" rx="19.4" ry="11" fill="#bcd8f3"/>
<text x="932.5" y="453.5" font-size="23.7" text-anchor="middle" fill="#0e2352">030</text>
<ellipse cx="968.5" cy="468.5" rx="19.4" ry="11" fill="#bcd8f3"/>
<text x="968.5" y="477" font-size="23.7" text-anchor="middle" fill="#0e2352">280</text>
<ellipse cx="732.5" cy="472.5" rx="19.4" ry="11" fill="#bcd8f3"/>
<text x="732.5" y="481" font-size="23.7" text-anchor="middle" fill="#0e2352">280</text>
<ellipse cx="80" cy="573.5" rx="19.4" ry="11" fill="#bcd8f3"/>
<text x="80" y="582" font-size="23.7" text-anchor="middle" fill="#0e2352">280</text>
<ellipse cx="86" cy="741" rx="19.4" ry="11" fill="#bcd8f3"/>
<text x="86" y="749.5" font-size="23.7" text-anchor="middle" fill="#0e2352">050</text>
<ellipse cx="137.5" cy="762.5" rx="19.4" ry="11" fill="#bcd8f3"/>
<text x="137.5" y="771" font-size="23.7" text-anchor="middle" fill="#0e2352">280</text>
<ellipse cx="195" cy="786" rx="19.4" ry="11" fill="#bcd8f3"/>
<text x="195" y="794.5" font-size="23.7" text-anchor="middle" fill="#0e2352">264</text>
<ellipse cx="235" cy="756.5" rx="19.4" ry="11" fill="#bcd8f3"/>
<text x="235" y="765" font-size="23.7" text-anchor="middle" fill="#0e2352">190</text>
<ellipse cx="294" cy="724" rx="19.4" ry="11" fill="#bcd8f3"/>
<text x="294" y="732.5" font-size="23.7" text-anchor="middle" fill="#0e2352">180</text>
<ellipse cx="327.5" cy="702.5" rx="19.4" ry="11" fill="#bcd8f3"/>
<text x="327.5" y="711" font-size="23.7" text-anchor="middle" fill="#0e2352">160</text>
<ellipse cx="365" cy="682.5" rx="19.4" ry="11" fill="#bcd8f3"/>
<text x="365" y="691" font-size="23.7" text-anchor="middle" fill="#0e2352">220</text>
<ellipse cx="399" cy="662.5" rx="19.4" ry="11" fill="#bcd8f3"/>
<text x="399" y="671" font-size="23.7" text-anchor="middle" fill="#0e2352">210</text>
<ellipse cx="433.5" cy="643.5" rx="19.4" ry="11" fill="#bcd8f3"/>
<text x="433.5" y="652" font-size="23.7" text-anchor="middle" fill="#0e2352">200</text>
<ellipse cx="466.5" cy="623.5" rx="19.4" ry="11" fill="#bcd8f3"/>
<text x="466.5" y="632" font-size="23.7" text-anchor="middle" fill="#0e2352">230</text>
<ellipse cx="489" cy="760" rx="19.4" ry="11" fill="#bcd8f3"/>
<text x="489" y="768.5" font-size="23.7" text-anchor="middle" fill="#0e2352">230</text>
<ellipse cx="395" cy="830" rx="19.4" ry="11" fill="#bcd8f3"/>
<text x="395" y="838.5" font-size="23.7" text-anchor="middle" fill="#0e2352">170</text>
<ellipse cx="333.5" cy="845" rx="19.4" ry="11" fill="#bcd8f3"/>
<text x="333.5" y="853.5" font-size="23.7" text-anchor="middle" fill="#0e2352">150</text>
<ellipse cx="411" cy="540" rx="19.4" ry="11" fill="#bcd8f3"/>
<text x="411" y="548.5" font-size="23.7" text-anchor="middle" fill="#0e2352">110</text>
<ellipse cx="468.8" cy="521.3" rx="19.4" ry="11" fill="#bcd8f3"/>
<text x="468.8" y="529.8" font-size="23.7" text-anchor="middle" fill="#0e2352">100</text>
<ellipse cx="881" cy="591.5" rx="19.4" ry="11" fill="#bcd8f3"/>
<text x="881" y="600" font-size="23.7" text-anchor="middle" fill="#0e2352">240</text>
<ellipse cx="767.5" cy="661" rx="23.5" ry="12" fill="#bcd8f3"/>
<text x="767.5" y="669.5" font-size="23.7" text-anchor="middle" fill="#0e2352">020</text>
<ellipse cx="706.5" cy="751" rx="19.4" ry="11" fill="#bcd8f3"/>
<text x="706.5" y="759.5" font-size="23.7" text-anchor="middle" fill="#0e2352">010</text>
<ellipse cx="766.5" cy="751" rx="21.5" ry="11.5" fill="#bcd8f3"/>
<text x="766.5" y="759.5" font-size="23.7" text-anchor="middle" fill="#0e2352">040</text>
<ellipse cx="583.5" cy="801.5" rx="21.5" ry="11.5" fill="#bcd8f3"/>
<text x="583.5" y="810" font-size="23.7" text-anchor="middle" fill="#0e2352">290</text>
<text x="241.2" y="662.5" font-size="23.7" text-anchor="middle" fill="#111">B</text>
<text x="657.5" y="701" font-size="23.7" text-anchor="middle" fill="#111">A</text>
<text x="825" y="648.5" font-size="23.7" text-anchor="middle" fill="#111">A</text>
<text x="825" y="684.5" font-size="23.7" text-anchor="middle" fill="#111">030</text>
<text x="825" y="741" font-size="23.7" text-anchor="middle" fill="#111">B</text>
<text x="825" y="776" font-size="23.7" text-anchor="middle" fill="#111">050</text>
<text x="766.5" y="810" font-size="23.7" text-anchor="middle" fill="#111">060</text>
<text x="766.5" y="857.5" font-size="23.7" text-anchor="middle" fill="#111">270</text>
<text x="642.5" y="767" font-size="23.7" text-anchor="middle" fill="#111">090</text>
<text x="642.5" y="819.5" font-size="23.7" text-anchor="middle" fill="#111">145</text>
<text x="642.5" y="857" font-size="23.7" text-anchor="middle" fill="#111">160</text>
<circle cx="232.5" cy="638.2" r="2.6" fill="#111"/>
<circle cx="647.5" cy="677.5" r="2.6" fill="#111"/>
<circle cx="766.5" cy="707.5" r="2" fill="#111"/>
<circle cx="766.5" cy="778.2" r="2" fill="#111"/>
<circle cx="825" cy="657.8" r="2" fill="#111"/>
<circle cx="825" cy="750.2" r="2" fill="#111"/>
<circle cx="642.5" cy="830" r="2" fill="#111"/>
<path d="M765.7 815.4 c5 2.6 5 5.8 2 8.8 c-3 3 -3 6 1.8 8.4" fill="none" stroke="#111" stroke-width="1.9" stroke-linecap="round"/>
<path d="M641.7 775.4 c5 2.6 5 5.8 2 8.8 c-3 3 -3 6 1.8 8.4" fill="none" stroke="#111" stroke-width="1.9" stroke-linecap="round"/>
<path d="M641 730 L618.2 740.8 L618.2 861.5 L641 877" fill="none" stroke="#111" stroke-width="1.6" stroke-dasharray="11.5 4"/>
<line x1="604.2" y1="801" x2="618.2" y2="801" stroke="#111" stroke-width="1.2"/>
<path d="M763.5 634.7 L741.5 645.2 L741.5 861.5 L763.5 877" fill="none" stroke="#111" stroke-width="1.6" stroke-dasharray="11.5 4"/>
<line x1="727.8" y1="751.2" x2="741.5" y2="751.2" stroke="#111" stroke-width="1.2"/>
<path d="M819.5 620 L802 630.5 L802 691.8 L823 704 L802 721.5 L802 781 L823 793.2" fill="none" stroke="#111" stroke-width="1.6" stroke-dasharray="11.5 4"/>
<line x1="789.8" y1="659.5" x2="802" y2="659.5" stroke="#111" stroke-width="1.2"/>
<line x1="789.8" y1="751.2" x2="802" y2="751.2" stroke="#111" stroke-width="1.2"/>
</svg></body></html>
